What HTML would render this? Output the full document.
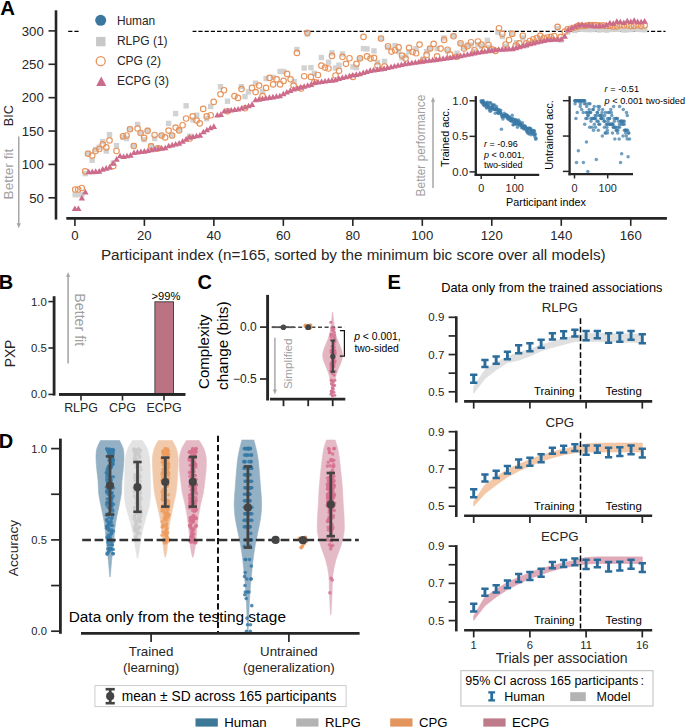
<!DOCTYPE html>
<html><head><meta charset="utf-8"><style>
html,body{margin:0;padding:0;background:#fff;}
svg{display:block;font-family:"Liberation Sans", sans-serif;}
</style></head><body>
<svg width="685" height="728" viewBox="0 0 685 728">
<text x="0.20" y="15.20" font-size="20.4" text-anchor="start" fill="#000" font-weight="bold">A</text>
<line x1="56.00" y1="10.30" x2="56.00" y2="219.60" stroke="#262626" stroke-width="2.6" stroke-linecap="butt"/>
<line x1="48.50" y1="197.80" x2="56.00" y2="197.80" stroke="#262626" stroke-width="1.6" stroke-linecap="butt"/>
<text x="43.80" y="202.50" font-size="13.2" text-anchor="end" fill="#262626">50</text>
<line x1="48.50" y1="164.42" x2="56.00" y2="164.42" stroke="#262626" stroke-width="1.6" stroke-linecap="butt"/>
<text x="43.80" y="169.12" font-size="13.2" text-anchor="end" fill="#262626">100</text>
<line x1="48.50" y1="131.04" x2="56.00" y2="131.04" stroke="#262626" stroke-width="1.6" stroke-linecap="butt"/>
<text x="43.80" y="135.74" font-size="13.2" text-anchor="end" fill="#262626">150</text>
<line x1="48.50" y1="97.66" x2="56.00" y2="97.66" stroke="#262626" stroke-width="1.6" stroke-linecap="butt"/>
<text x="43.80" y="102.36" font-size="13.2" text-anchor="end" fill="#262626">200</text>
<line x1="48.50" y1="64.28" x2="56.00" y2="64.28" stroke="#262626" stroke-width="1.6" stroke-linecap="butt"/>
<text x="43.80" y="68.98" font-size="13.2" text-anchor="end" fill="#262626">250</text>
<line x1="48.50" y1="30.90" x2="56.00" y2="30.90" stroke="#262626" stroke-width="1.6" stroke-linecap="butt"/>
<text x="43.80" y="35.60" font-size="13.2" text-anchor="end" fill="#262626">300</text>
<line x1="66.30" y1="218.40" x2="666.90" y2="218.40" stroke="#262626" stroke-width="2.6" stroke-linecap="butt"/>
<line x1="74.90" y1="218.40" x2="74.90" y2="225.90" stroke="#262626" stroke-width="1.6" stroke-linecap="butt"/>
<text x="74.90" y="240.30" font-size="13.2" text-anchor="middle" fill="#262626">0</text>
<line x1="144.38" y1="218.40" x2="144.38" y2="225.90" stroke="#262626" stroke-width="1.6" stroke-linecap="butt"/>
<text x="144.38" y="240.30" font-size="13.2" text-anchor="middle" fill="#262626">20</text>
<line x1="213.86" y1="218.40" x2="213.86" y2="225.90" stroke="#262626" stroke-width="1.6" stroke-linecap="butt"/>
<text x="213.86" y="240.30" font-size="13.2" text-anchor="middle" fill="#262626">40</text>
<line x1="283.34" y1="218.40" x2="283.34" y2="225.90" stroke="#262626" stroke-width="1.6" stroke-linecap="butt"/>
<text x="283.34" y="240.30" font-size="13.2" text-anchor="middle" fill="#262626">60</text>
<line x1="352.82" y1="218.40" x2="352.82" y2="225.90" stroke="#262626" stroke-width="1.6" stroke-linecap="butt"/>
<text x="352.82" y="240.30" font-size="13.2" text-anchor="middle" fill="#262626">80</text>
<line x1="422.30" y1="218.40" x2="422.30" y2="225.90" stroke="#262626" stroke-width="1.6" stroke-linecap="butt"/>
<text x="422.30" y="240.30" font-size="13.2" text-anchor="middle" fill="#262626">100</text>
<line x1="491.78" y1="218.40" x2="491.78" y2="225.90" stroke="#262626" stroke-width="1.6" stroke-linecap="butt"/>
<text x="491.78" y="240.30" font-size="13.2" text-anchor="middle" fill="#262626">120</text>
<line x1="561.26" y1="218.40" x2="561.26" y2="225.90" stroke="#262626" stroke-width="1.6" stroke-linecap="butt"/>
<text x="561.26" y="240.30" font-size="13.2" text-anchor="middle" fill="#262626">140</text>
<line x1="630.74" y1="218.40" x2="630.74" y2="225.90" stroke="#262626" stroke-width="1.6" stroke-linecap="butt"/>
<text x="630.74" y="240.30" font-size="13.2" text-anchor="middle" fill="#262626">160</text>
<text x="100.90" y="259.50" font-size="15.25" text-anchor="start" fill="#262626">Participant index (n=165, sorted by the minimum bic score over all models)</text>
<text x="13.40" y="115.60" font-size="12.7" text-anchor="middle" fill="#262626" transform="rotate(-90 13.4 115.6)">BIC</text>
<text x="13.20" y="174.10" font-size="13.6" text-anchor="middle" fill="#a0a0a0" transform="rotate(-90 13.2 174.1)">Better fit</text>
<line x1="18.75" y1="136.60" x2="18.75" y2="224.00" stroke="#a6a6a6" stroke-width="1.5" stroke-linecap="butt"/>
<path d="M16.6 223.2 L20.9 223.2 L18.75 228.2 Z" fill="#a6a6a6"/>
<line x1="68.20" y1="31.30" x2="665.50" y2="31.30" stroke="#000" stroke-width="1.3" stroke-linecap="butt" stroke-dasharray="4.2 2"/>
<rect x="72.50" y="191.90" width="5.40" height="5.40" fill="#d2d2d2"/>
<rect x="75.50" y="191.90" width="5.40" height="5.40" fill="#d2d2d2"/>
<rect x="79.00" y="191.90" width="5.40" height="5.40" fill="#d2d2d2"/>
<rect x="82.50" y="170.90" width="5.40" height="5.40" fill="#d2d2d2"/>
<rect x="85.30" y="150.60" width="5.40" height="5.40" fill="#d2d2d2"/>
<rect x="89.50" y="157.60" width="5.40" height="5.40" fill="#d2d2d2"/>
<rect x="92.80" y="146.80" width="5.40" height="5.40" fill="#d2d2d2"/>
<rect x="96.60" y="144.50" width="5.40" height="5.40" fill="#d2d2d2"/>
<rect x="100.10" y="138.90" width="5.40" height="5.40" fill="#d2d2d2"/>
<rect x="103.60" y="148.30" width="5.40" height="5.40" fill="#d2d2d2"/>
<rect x="106.80" y="131.90" width="5.40" height="5.40" fill="#d2d2d2"/>
<rect x="110.60" y="160.30" width="5.40" height="5.40" fill="#d2d2d2"/>
<rect x="113.80" y="142.90" width="5.40" height="5.40" fill="#d2d2d2"/>
<rect x="120.30" y="134.70" width="5.40" height="5.40" fill="#d2d2d2"/>
<rect x="123.90" y="135.80" width="5.40" height="5.40" fill="#d2d2d2"/>
<rect x="127.30" y="126.50" width="5.40" height="5.40" fill="#d2d2d2"/>
<rect x="131.10" y="142.90" width="5.40" height="5.40" fill="#d2d2d2"/>
<rect x="134.90" y="121.80" width="5.40" height="5.40" fill="#d2d2d2"/>
<rect x="137.90" y="130.00" width="5.40" height="5.40" fill="#d2d2d2"/>
<rect x="141.40" y="137.00" width="5.40" height="5.40" fill="#d2d2d2"/>
<rect x="144.90" y="127.70" width="5.40" height="5.40" fill="#d2d2d2"/>
<rect x="148.40" y="142.90" width="5.40" height="5.40" fill="#d2d2d2"/>
<rect x="151.90" y="135.80" width="5.40" height="5.40" fill="#d2d2d2"/>
<rect x="155.40" y="145.20" width="5.40" height="5.40" fill="#d2d2d2"/>
<rect x="158.90" y="132.80" width="5.40" height="5.40" fill="#d2d2d2"/>
<rect x="165.90" y="120.70" width="5.40" height="5.40" fill="#d2d2d2"/>
<rect x="169.40" y="132.80" width="5.40" height="5.40" fill="#d2d2d2"/>
<rect x="172.90" y="110.90" width="5.40" height="5.40" fill="#d2d2d2"/>
<rect x="176.40" y="127.20" width="5.40" height="5.40" fill="#d2d2d2"/>
<rect x="183.40" y="103.10" width="5.40" height="5.40" fill="#d2d2d2"/>
<rect x="187.00" y="133.50" width="5.40" height="5.40" fill="#d2d2d2"/>
<rect x="190.50" y="117.20" width="5.40" height="5.40" fill="#d2d2d2"/>
<rect x="194.00" y="112.50" width="5.40" height="5.40" fill="#d2d2d2"/>
<rect x="204.00" y="116.00" width="5.40" height="5.40" fill="#d2d2d2"/>
<rect x="208.00" y="103.80" width="5.40" height="5.40" fill="#d2d2d2"/>
<rect x="217.80" y="84.00" width="5.40" height="5.40" fill="#d2d2d2"/>
<rect x="224.80" y="98.50" width="5.40" height="5.40" fill="#d2d2d2"/>
<rect x="238.80" y="84.00" width="5.40" height="5.40" fill="#d2d2d2"/>
<rect x="242.30" y="93.80" width="5.40" height="5.40" fill="#d2d2d2"/>
<rect x="245.80" y="89.20" width="5.40" height="5.40" fill="#d2d2d2"/>
<rect x="252.90" y="80.50" width="5.40" height="5.40" fill="#d2d2d2"/>
<rect x="259.90" y="88.70" width="5.40" height="5.40" fill="#d2d2d2"/>
<rect x="263.40" y="75.90" width="5.40" height="5.40" fill="#d2d2d2"/>
<rect x="270.40" y="74.70" width="5.40" height="5.40" fill="#d2d2d2"/>
<rect x="277.40" y="68.80" width="5.40" height="5.40" fill="#d2d2d2"/>
<rect x="280.90" y="68.80" width="5.40" height="5.40" fill="#d2d2d2"/>
<rect x="291.40" y="78.90" width="5.40" height="5.40" fill="#d2d2d2"/>
<rect x="294.20" y="46.80" width="5.40" height="5.40" fill="#d2d2d2"/>
<rect x="301.50" y="65.30" width="5.40" height="5.40" fill="#d2d2d2"/>
<rect x="304.70" y="31.30" width="5.40" height="5.40" fill="#d2d2d2"/>
<rect x="308.20" y="64.90" width="5.40" height="5.40" fill="#d2d2d2"/>
<rect x="311.70" y="70.50" width="5.40" height="5.40" fill="#d2d2d2"/>
<rect x="318.70" y="54.80" width="5.40" height="5.40" fill="#d2d2d2"/>
<rect x="325.80" y="59.50" width="5.40" height="5.40" fill="#d2d2d2"/>
<rect x="329.30" y="50.20" width="5.40" height="5.40" fill="#d2d2d2"/>
<rect x="332.80" y="65.30" width="5.40" height="5.40" fill="#d2d2d2"/>
<rect x="336.30" y="62.50" width="5.40" height="5.40" fill="#d2d2d2"/>
<rect x="339.80" y="51.30" width="5.40" height="5.40" fill="#d2d2d2"/>
<rect x="350.30" y="64.20" width="5.40" height="5.40" fill="#d2d2d2"/>
<rect x="353.80" y="64.90" width="5.40" height="5.40" fill="#d2d2d2"/>
<rect x="357.30" y="55.90" width="5.40" height="5.40" fill="#d2d2d2"/>
<rect x="360.80" y="45.90" width="5.40" height="5.40" fill="#d2d2d2"/>
<rect x="364.30" y="46.20" width="5.40" height="5.40" fill="#d2d2d2"/>
<rect x="371.30" y="48.20" width="5.40" height="5.40" fill="#d2d2d2"/>
<rect x="374.80" y="59.90" width="5.40" height="5.40" fill="#d2d2d2"/>
<rect x="378.30" y="35.80" width="5.40" height="5.40" fill="#d2d2d2"/>
<rect x="381.80" y="58.70" width="5.40" height="5.40" fill="#d2d2d2"/>
<rect x="385.30" y="44.70" width="5.40" height="5.40" fill="#d2d2d2"/>
<rect x="392.30" y="42.80" width="5.40" height="5.40" fill="#d2d2d2"/>
<rect x="395.90" y="48.90" width="5.40" height="5.40" fill="#d2d2d2"/>
<rect x="399.30" y="55.20" width="5.40" height="5.40" fill="#d2d2d2"/>
<rect x="402.90" y="52.90" width="5.40" height="5.40" fill="#d2d2d2"/>
<rect x="406.40" y="48.90" width="5.40" height="5.40" fill="#d2d2d2"/>
<rect x="413.40" y="45.90" width="5.40" height="5.40" fill="#d2d2d2"/>
<rect x="420.40" y="56.40" width="5.40" height="5.40" fill="#d2d2d2"/>
<rect x="423.90" y="48.90" width="5.40" height="5.40" fill="#d2d2d2"/>
<rect x="427.40" y="45.90" width="5.40" height="5.40" fill="#d2d2d2"/>
<rect x="434.40" y="45.90" width="5.40" height="5.40" fill="#d2d2d2"/>
<rect x="441.40" y="35.30" width="5.40" height="5.40" fill="#d2d2d2"/>
<rect x="444.90" y="48.20" width="5.40" height="5.40" fill="#d2d2d2"/>
<rect x="450.80" y="33.00" width="5.40" height="5.40" fill="#d2d2d2"/>
<rect x="454.30" y="50.50" width="5.40" height="5.40" fill="#d2d2d2"/>
<rect x="457.80" y="41.20" width="5.40" height="5.40" fill="#d2d2d2"/>
<rect x="461.30" y="44.70" width="5.40" height="5.40" fill="#d2d2d2"/>
<rect x="464.80" y="42.30" width="5.40" height="5.40" fill="#d2d2d2"/>
<rect x="468.30" y="42.30" width="5.40" height="5.40" fill="#d2d2d2"/>
<rect x="471.80" y="48.90" width="5.40" height="5.40" fill="#d2d2d2"/>
<rect x="475.30" y="41.90" width="5.40" height="5.40" fill="#d2d2d2"/>
<rect x="478.80" y="43.50" width="5.40" height="5.40" fill="#d2d2d2"/>
<rect x="484.60" y="37.70" width="5.40" height="5.40" fill="#d2d2d2"/>
<rect x="487.00" y="44.70" width="5.40" height="5.40" fill="#d2d2d2"/>
<rect x="495.20" y="29.50" width="5.40" height="5.40" fill="#d2d2d2"/>
<rect x="499.60" y="33.80" width="5.40" height="5.40" fill="#d2d2d2"/>
<rect x="503.30" y="43.50" width="5.40" height="5.40" fill="#d2d2d2"/>
<rect x="509.20" y="30.70" width="5.40" height="5.40" fill="#d2d2d2"/>
<rect x="513.80" y="40.00" width="5.40" height="5.40" fill="#d2d2d2"/>
<rect x="520.10" y="35.30" width="5.40" height="5.40" fill="#d2d2d2"/>
<rect x="523.60" y="42.80" width="5.40" height="5.40" fill="#d2d2d2"/>
<rect x="530.60" y="39.30" width="5.40" height="5.40" fill="#d2d2d2"/>
<rect x="537.60" y="35.80" width="5.40" height="5.40" fill="#d2d2d2"/>
<rect x="548.10" y="36.80" width="5.40" height="5.40" fill="#d2d2d2"/>
<rect x="554.90" y="25.80" width="5.40" height="5.40" fill="#d2d2d2"/>
<rect x="558.00" y="37.30" width="5.40" height="5.40" fill="#d2d2d2"/>
<rect x="565.00" y="29.30" width="5.40" height="5.40" fill="#d2d2d2"/>
<rect x="572.00" y="27.80" width="5.40" height="5.40" fill="#d2d2d2"/>
<rect x="575.93" y="26.48" width="5.40" height="5.40" fill="#d2d2d2"/>
<rect x="579.40" y="26.39" width="5.40" height="5.40" fill="#d2d2d2"/>
<rect x="582.88" y="26.74" width="5.40" height="5.40" fill="#d2d2d2"/>
<rect x="586.35" y="26.91" width="5.40" height="5.40" fill="#d2d2d2"/>
<rect x="589.83" y="26.82" width="5.40" height="5.40" fill="#d2d2d2"/>
<rect x="593.30" y="26.41" width="5.40" height="5.40" fill="#d2d2d2"/>
<rect x="596.77" y="27.29" width="5.40" height="5.40" fill="#d2d2d2"/>
<rect x="600.25" y="26.57" width="5.40" height="5.40" fill="#d2d2d2"/>
<rect x="603.72" y="27.44" width="5.40" height="5.40" fill="#d2d2d2"/>
<rect x="607.20" y="26.78" width="5.40" height="5.40" fill="#d2d2d2"/>
<rect x="610.67" y="26.36" width="5.40" height="5.40" fill="#d2d2d2"/>
<rect x="614.14" y="26.65" width="5.40" height="5.40" fill="#d2d2d2"/>
<rect x="617.62" y="26.44" width="5.40" height="5.40" fill="#d2d2d2"/>
<rect x="621.09" y="27.28" width="5.40" height="5.40" fill="#d2d2d2"/>
<rect x="624.57" y="27.00" width="5.40" height="5.40" fill="#d2d2d2"/>
<rect x="628.04" y="26.75" width="5.40" height="5.40" fill="#d2d2d2"/>
<rect x="631.51" y="26.38" width="5.40" height="5.40" fill="#d2d2d2"/>
<rect x="634.99" y="26.55" width="5.40" height="5.40" fill="#d2d2d2"/>
<rect x="638.46" y="26.81" width="5.40" height="5.40" fill="#d2d2d2"/>
<rect x="641.94" y="27.00" width="5.40" height="5.40" fill="#d2d2d2"/>
<circle cx="75.20" cy="189.50" r="2.75" fill="none" stroke="#e8935a" stroke-width="1.15"/>
<circle cx="78.20" cy="189.50" r="2.75" fill="none" stroke="#e8935a" stroke-width="1.15"/>
<circle cx="81.70" cy="188.00" r="2.75" fill="none" stroke="#e8935a" stroke-width="1.15"/>
<circle cx="85.20" cy="171.30" r="2.75" fill="none" stroke="#e8935a" stroke-width="1.15"/>
<circle cx="88.00" cy="153.70" r="2.75" fill="none" stroke="#e8935a" stroke-width="1.15"/>
<circle cx="92.20" cy="155.60" r="2.75" fill="none" stroke="#e8935a" stroke-width="1.15"/>
<circle cx="95.50" cy="151.00" r="2.75" fill="none" stroke="#e8935a" stroke-width="1.15"/>
<circle cx="99.30" cy="149.00" r="2.75" fill="none" stroke="#e8935a" stroke-width="1.15"/>
<circle cx="102.80" cy="144.40" r="2.75" fill="none" stroke="#e8935a" stroke-width="1.15"/>
<circle cx="106.30" cy="147.40" r="2.75" fill="none" stroke="#e8935a" stroke-width="1.15"/>
<circle cx="109.50" cy="140.40" r="2.75" fill="none" stroke="#e8935a" stroke-width="1.15"/>
<circle cx="113.30" cy="166.10" r="2.75" fill="none" stroke="#e8935a" stroke-width="1.15"/>
<circle cx="116.50" cy="151.00" r="2.75" fill="none" stroke="#e8935a" stroke-width="1.15"/>
<circle cx="123.00" cy="136.20" r="2.75" fill="none" stroke="#e8935a" stroke-width="1.15"/>
<circle cx="126.60" cy="135.50" r="2.75" fill="none" stroke="#e8935a" stroke-width="1.15"/>
<circle cx="130.00" cy="129.20" r="2.75" fill="none" stroke="#e8935a" stroke-width="1.15"/>
<circle cx="133.80" cy="146.00" r="2.75" fill="none" stroke="#e8935a" stroke-width="1.15"/>
<circle cx="137.60" cy="128.50" r="2.75" fill="none" stroke="#e8935a" stroke-width="1.15"/>
<circle cx="140.60" cy="133.00" r="2.75" fill="none" stroke="#e8935a" stroke-width="1.15"/>
<circle cx="144.10" cy="137.80" r="2.75" fill="none" stroke="#e8935a" stroke-width="1.15"/>
<circle cx="147.60" cy="130.80" r="2.75" fill="none" stroke="#e8935a" stroke-width="1.15"/>
<circle cx="151.10" cy="146.30" r="2.75" fill="none" stroke="#e8935a" stroke-width="1.15"/>
<circle cx="154.60" cy="135.00" r="2.75" fill="none" stroke="#e8935a" stroke-width="1.15"/>
<circle cx="158.10" cy="148.40" r="2.75" fill="none" stroke="#e8935a" stroke-width="1.15"/>
<circle cx="161.60" cy="135.50" r="2.75" fill="none" stroke="#e8935a" stroke-width="1.15"/>
<circle cx="165.10" cy="137.40" r="2.75" fill="none" stroke="#e8935a" stroke-width="1.15"/>
<circle cx="168.60" cy="130.60" r="2.75" fill="none" stroke="#e8935a" stroke-width="1.15"/>
<circle cx="172.10" cy="135.50" r="2.75" fill="none" stroke="#e8935a" stroke-width="1.15"/>
<circle cx="175.60" cy="127.60" r="2.75" fill="none" stroke="#e8935a" stroke-width="1.15"/>
<circle cx="179.10" cy="130.40" r="2.75" fill="none" stroke="#e8935a" stroke-width="1.15"/>
<circle cx="182.60" cy="125.20" r="2.75" fill="none" stroke="#e8935a" stroke-width="1.15"/>
<circle cx="186.10" cy="118.50" r="2.75" fill="none" stroke="#e8935a" stroke-width="1.15"/>
<circle cx="189.70" cy="138.50" r="2.75" fill="none" stroke="#e8935a" stroke-width="1.15"/>
<circle cx="192.70" cy="116.40" r="2.75" fill="none" stroke="#e8935a" stroke-width="1.15"/>
<circle cx="196.70" cy="120.60" r="2.75" fill="none" stroke="#e8935a" stroke-width="1.15"/>
<circle cx="199.70" cy="123.40" r="2.75" fill="none" stroke="#e8935a" stroke-width="1.15"/>
<circle cx="203.20" cy="108.90" r="2.75" fill="none" stroke="#e8935a" stroke-width="1.15"/>
<circle cx="206.70" cy="116.40" r="2.75" fill="none" stroke="#e8935a" stroke-width="1.15"/>
<circle cx="210.70" cy="115.20" r="2.75" fill="none" stroke="#e8935a" stroke-width="1.15"/>
<circle cx="213.70" cy="101.90" r="2.75" fill="none" stroke="#e8935a" stroke-width="1.15"/>
<circle cx="220.50" cy="94.20" r="2.75" fill="none" stroke="#e8935a" stroke-width="1.15"/>
<circle cx="224.00" cy="90.20" r="2.75" fill="none" stroke="#e8935a" stroke-width="1.15"/>
<circle cx="227.50" cy="111.30" r="2.75" fill="none" stroke="#e8935a" stroke-width="1.15"/>
<circle cx="234.50" cy="96.10" r="2.75" fill="none" stroke="#e8935a" stroke-width="1.15"/>
<circle cx="238.00" cy="97.90" r="2.75" fill="none" stroke="#e8935a" stroke-width="1.15"/>
<circle cx="241.50" cy="89.10" r="2.75" fill="none" stroke="#e8935a" stroke-width="1.15"/>
<circle cx="245.00" cy="108.20" r="2.75" fill="none" stroke="#e8935a" stroke-width="1.15"/>
<circle cx="252.00" cy="87.90" r="2.75" fill="none" stroke="#e8935a" stroke-width="1.15"/>
<circle cx="255.60" cy="92.10" r="2.75" fill="none" stroke="#e8935a" stroke-width="1.15"/>
<circle cx="259.10" cy="85.60" r="2.75" fill="none" stroke="#e8935a" stroke-width="1.15"/>
<circle cx="262.60" cy="96.10" r="2.75" fill="none" stroke="#e8935a" stroke-width="1.15"/>
<circle cx="266.10" cy="87.90" r="2.75" fill="none" stroke="#e8935a" stroke-width="1.15"/>
<circle cx="269.60" cy="77.90" r="2.75" fill="none" stroke="#e8935a" stroke-width="1.15"/>
<circle cx="273.10" cy="84.40" r="2.75" fill="none" stroke="#e8935a" stroke-width="1.15"/>
<circle cx="276.60" cy="79.30" r="2.75" fill="none" stroke="#e8935a" stroke-width="1.15"/>
<circle cx="280.10" cy="84.40" r="2.75" fill="none" stroke="#e8935a" stroke-width="1.15"/>
<circle cx="283.60" cy="80.90" r="2.75" fill="none" stroke="#e8935a" stroke-width="1.15"/>
<circle cx="287.10" cy="73.90" r="2.75" fill="none" stroke="#e8935a" stroke-width="1.15"/>
<circle cx="290.60" cy="79.30" r="2.75" fill="none" stroke="#e8935a" stroke-width="1.15"/>
<circle cx="293.60" cy="85.60" r="2.75" fill="none" stroke="#e8935a" stroke-width="1.15"/>
<circle cx="296.90" cy="52.90" r="2.75" fill="none" stroke="#e8935a" stroke-width="1.15"/>
<circle cx="301.10" cy="88.60" r="2.75" fill="none" stroke="#e8935a" stroke-width="1.15"/>
<circle cx="304.20" cy="76.20" r="2.75" fill="none" stroke="#e8935a" stroke-width="1.15"/>
<circle cx="307.40" cy="32.80" r="2.75" fill="none" stroke="#e8935a" stroke-width="1.15"/>
<circle cx="310.90" cy="76.90" r="2.75" fill="none" stroke="#e8935a" stroke-width="1.15"/>
<circle cx="314.40" cy="82.10" r="2.75" fill="none" stroke="#e8935a" stroke-width="1.15"/>
<circle cx="317.90" cy="75.00" r="2.75" fill="none" stroke="#e8935a" stroke-width="1.15"/>
<circle cx="321.40" cy="65.70" r="2.75" fill="none" stroke="#e8935a" stroke-width="1.15"/>
<circle cx="325.00" cy="67.60" r="2.75" fill="none" stroke="#e8935a" stroke-width="1.15"/>
<circle cx="328.50" cy="68.50" r="2.75" fill="none" stroke="#e8935a" stroke-width="1.15"/>
<circle cx="332.00" cy="55.90" r="2.75" fill="none" stroke="#e8935a" stroke-width="1.15"/>
<circle cx="335.50" cy="75.50" r="2.75" fill="none" stroke="#e8935a" stroke-width="1.15"/>
<circle cx="339.00" cy="70.80" r="2.75" fill="none" stroke="#e8935a" stroke-width="1.15"/>
<circle cx="342.50" cy="56.80" r="2.75" fill="none" stroke="#e8935a" stroke-width="1.15"/>
<circle cx="346.00" cy="63.80" r="2.75" fill="none" stroke="#e8935a" stroke-width="1.15"/>
<circle cx="349.50" cy="58.20" r="2.75" fill="none" stroke="#e8935a" stroke-width="1.15"/>
<circle cx="353.00" cy="76.90" r="2.75" fill="none" stroke="#e8935a" stroke-width="1.15"/>
<circle cx="356.50" cy="63.80" r="2.75" fill="none" stroke="#e8935a" stroke-width="1.15"/>
<circle cx="360.00" cy="58.20" r="2.75" fill="none" stroke="#e8935a" stroke-width="1.15"/>
<circle cx="363.50" cy="36.90" r="2.75" fill="none" stroke="#e8935a" stroke-width="1.15"/>
<circle cx="367.00" cy="56.40" r="2.75" fill="none" stroke="#e8935a" stroke-width="1.15"/>
<circle cx="370.50" cy="58.60" r="2.75" fill="none" stroke="#e8935a" stroke-width="1.15"/>
<circle cx="374.00" cy="57.90" r="2.75" fill="none" stroke="#e8935a" stroke-width="1.15"/>
<circle cx="377.50" cy="65.60" r="2.75" fill="none" stroke="#e8935a" stroke-width="1.15"/>
<circle cx="381.00" cy="38.50" r="2.75" fill="none" stroke="#e8935a" stroke-width="1.15"/>
<circle cx="384.50" cy="66.50" r="2.75" fill="none" stroke="#e8935a" stroke-width="1.15"/>
<circle cx="388.00" cy="46.20" r="2.75" fill="none" stroke="#e8935a" stroke-width="1.15"/>
<circle cx="391.50" cy="51.60" r="2.75" fill="none" stroke="#e8935a" stroke-width="1.15"/>
<circle cx="395.00" cy="50.20" r="2.75" fill="none" stroke="#e8935a" stroke-width="1.15"/>
<circle cx="398.60" cy="47.40" r="2.75" fill="none" stroke="#e8935a" stroke-width="1.15"/>
<circle cx="402.00" cy="55.60" r="2.75" fill="none" stroke="#e8935a" stroke-width="1.15"/>
<circle cx="405.60" cy="58.60" r="2.75" fill="none" stroke="#e8935a" stroke-width="1.15"/>
<circle cx="409.10" cy="47.90" r="2.75" fill="none" stroke="#e8935a" stroke-width="1.15"/>
<circle cx="412.60" cy="52.00" r="2.75" fill="none" stroke="#e8935a" stroke-width="1.15"/>
<circle cx="416.10" cy="53.20" r="2.75" fill="none" stroke="#e8935a" stroke-width="1.15"/>
<circle cx="419.60" cy="44.60" r="2.75" fill="none" stroke="#e8935a" stroke-width="1.15"/>
<circle cx="423.10" cy="60.20" r="2.75" fill="none" stroke="#e8935a" stroke-width="1.15"/>
<circle cx="426.60" cy="54.90" r="2.75" fill="none" stroke="#e8935a" stroke-width="1.15"/>
<circle cx="430.10" cy="48.60" r="2.75" fill="none" stroke="#e8935a" stroke-width="1.15"/>
<circle cx="433.60" cy="43.90" r="2.75" fill="none" stroke="#e8935a" stroke-width="1.15"/>
<circle cx="437.10" cy="56.30" r="2.75" fill="none" stroke="#e8935a" stroke-width="1.15"/>
<circle cx="440.60" cy="48.60" r="2.75" fill="none" stroke="#e8935a" stroke-width="1.15"/>
<circle cx="444.10" cy="39.90" r="2.75" fill="none" stroke="#e8935a" stroke-width="1.15"/>
<circle cx="447.60" cy="49.70" r="2.75" fill="none" stroke="#e8935a" stroke-width="1.15"/>
<circle cx="450.00" cy="54.40" r="2.75" fill="none" stroke="#e8935a" stroke-width="1.15"/>
<circle cx="453.50" cy="36.20" r="2.75" fill="none" stroke="#e8935a" stroke-width="1.15"/>
<circle cx="457.00" cy="56.70" r="2.75" fill="none" stroke="#e8935a" stroke-width="1.15"/>
<circle cx="460.50" cy="43.20" r="2.75" fill="none" stroke="#e8935a" stroke-width="1.15"/>
<circle cx="464.00" cy="48.60" r="2.75" fill="none" stroke="#e8935a" stroke-width="1.15"/>
<circle cx="467.50" cy="46.20" r="2.75" fill="none" stroke="#e8935a" stroke-width="1.15"/>
<circle cx="471.00" cy="42.20" r="2.75" fill="none" stroke="#e8935a" stroke-width="1.15"/>
<circle cx="474.50" cy="50.20" r="2.75" fill="none" stroke="#e8935a" stroke-width="1.15"/>
<circle cx="478.00" cy="41.50" r="2.75" fill="none" stroke="#e8935a" stroke-width="1.15"/>
<circle cx="481.50" cy="44.60" r="2.75" fill="none" stroke="#e8935a" stroke-width="1.15"/>
<circle cx="485.00" cy="49.30" r="2.75" fill="none" stroke="#e8935a" stroke-width="1.15"/>
<circle cx="488.50" cy="45.00" r="2.75" fill="none" stroke="#e8935a" stroke-width="1.15"/>
<circle cx="492.00" cy="49.30" r="2.75" fill="none" stroke="#e8935a" stroke-width="1.15"/>
<circle cx="495.50" cy="50.90" r="2.75" fill="none" stroke="#e8935a" stroke-width="1.15"/>
<circle cx="499.00" cy="28.20" r="2.75" fill="none" stroke="#e8935a" stroke-width="1.15"/>
<circle cx="502.30" cy="33.90" r="2.75" fill="none" stroke="#e8935a" stroke-width="1.15"/>
<circle cx="505.60" cy="44.50" r="2.75" fill="none" stroke="#e8935a" stroke-width="1.15"/>
<circle cx="509.00" cy="40.00" r="2.75" fill="none" stroke="#e8935a" stroke-width="1.15"/>
<circle cx="512.30" cy="33.90" r="2.75" fill="none" stroke="#e8935a" stroke-width="1.15"/>
<circle cx="515.80" cy="45.60" r="2.75" fill="none" stroke="#e8935a" stroke-width="1.15"/>
<circle cx="519.30" cy="43.30" r="2.75" fill="none" stroke="#e8935a" stroke-width="1.15"/>
<circle cx="522.80" cy="35.70" r="2.75" fill="none" stroke="#e8935a" stroke-width="1.15"/>
<circle cx="526.30" cy="43.30" r="2.75" fill="none" stroke="#e8935a" stroke-width="1.15"/>
<circle cx="529.80" cy="41.00" r="2.75" fill="none" stroke="#e8935a" stroke-width="1.15"/>
<circle cx="533.30" cy="39.20" r="2.75" fill="none" stroke="#e8935a" stroke-width="1.15"/>
<circle cx="536.80" cy="38.00" r="2.75" fill="none" stroke="#e8935a" stroke-width="1.15"/>
<circle cx="540.30" cy="35.90" r="2.75" fill="none" stroke="#e8935a" stroke-width="1.15"/>
<circle cx="543.80" cy="38.00" r="2.75" fill="none" stroke="#e8935a" stroke-width="1.15"/>
<circle cx="547.30" cy="37.50" r="2.75" fill="none" stroke="#e8935a" stroke-width="1.15"/>
<circle cx="550.80" cy="37.10" r="2.75" fill="none" stroke="#e8935a" stroke-width="1.15"/>
<circle cx="554.30" cy="36.00" r="2.75" fill="none" stroke="#e8935a" stroke-width="1.15"/>
<circle cx="557.60" cy="26.90" r="2.75" fill="none" stroke="#e8935a" stroke-width="1.15"/>
<circle cx="560.70" cy="37.10" r="2.75" fill="none" stroke="#e8935a" stroke-width="1.15"/>
<circle cx="564.80" cy="31.60" r="2.75" fill="none" stroke="#e8935a" stroke-width="1.15"/>
<circle cx="567.70" cy="29.30" r="2.75" fill="none" stroke="#e8935a" stroke-width="1.15"/>
<circle cx="571.20" cy="28.50" r="2.75" fill="none" stroke="#e8935a" stroke-width="1.15"/>
<circle cx="574.70" cy="27.50" r="2.75" fill="none" stroke="#e8935a" stroke-width="1.15"/>
<circle cx="578.20" cy="26.40" r="2.75" fill="none" stroke="#e8935a" stroke-width="1.15"/>
<circle cx="578.63" cy="25.52" r="2.75" fill="none" stroke="#e8935a" stroke-width="1.15"/>
<circle cx="582.10" cy="26.04" r="2.75" fill="none" stroke="#e8935a" stroke-width="1.15"/>
<circle cx="585.58" cy="25.86" r="2.75" fill="none" stroke="#e8935a" stroke-width="1.15"/>
<circle cx="589.05" cy="25.09" r="2.75" fill="none" stroke="#e8935a" stroke-width="1.15"/>
<circle cx="592.53" cy="25.06" r="2.75" fill="none" stroke="#e8935a" stroke-width="1.15"/>
<circle cx="596.00" cy="25.11" r="2.75" fill="none" stroke="#e8935a" stroke-width="1.15"/>
<circle cx="599.47" cy="25.68" r="2.75" fill="none" stroke="#e8935a" stroke-width="1.15"/>
<circle cx="602.95" cy="25.20" r="2.75" fill="none" stroke="#e8935a" stroke-width="1.15"/>
<circle cx="606.42" cy="26.00" r="2.75" fill="none" stroke="#e8935a" stroke-width="1.15"/>
<circle cx="609.90" cy="25.92" r="2.75" fill="none" stroke="#e8935a" stroke-width="1.15"/>
<circle cx="613.37" cy="26.56" r="2.75" fill="none" stroke="#e8935a" stroke-width="1.15"/>
<circle cx="616.84" cy="26.37" r="2.75" fill="none" stroke="#e8935a" stroke-width="1.15"/>
<circle cx="620.32" cy="25.23" r="2.75" fill="none" stroke="#e8935a" stroke-width="1.15"/>
<circle cx="623.79" cy="25.49" r="2.75" fill="none" stroke="#e8935a" stroke-width="1.15"/>
<circle cx="627.27" cy="25.29" r="2.75" fill="none" stroke="#e8935a" stroke-width="1.15"/>
<circle cx="630.74" cy="26.02" r="2.75" fill="none" stroke="#e8935a" stroke-width="1.15"/>
<circle cx="634.21" cy="25.88" r="2.75" fill="none" stroke="#e8935a" stroke-width="1.15"/>
<circle cx="637.69" cy="25.10" r="2.75" fill="none" stroke="#e8935a" stroke-width="1.15"/>
<circle cx="641.16" cy="26.09" r="2.75" fill="none" stroke="#e8935a" stroke-width="1.15"/>
<circle cx="644.64" cy="25.50" r="2.75" fill="none" stroke="#e8935a" stroke-width="1.15"/>
<path d="M71.70 211.08 L78.10 211.08 L74.90 205.48 Z" fill="#cd6b8b"/>
<path d="M75.17 211.08 L81.57 211.08 L78.37 205.48 Z" fill="#cd6b8b"/>
<path d="M78.65 200.40 L85.05 200.40 L81.85 194.80 Z" fill="#cd6b8b"/>
<path d="M82.12 194.39 L88.52 194.39 L85.32 188.79 Z" fill="#cd6b8b"/>
<path d="M85.60 174.36 L92.00 174.36 L88.80 168.76 Z" fill="#cd6b8b"/>
<path d="M89.07 174.14 L95.47 174.14 L92.27 168.54 Z" fill="#cd6b8b"/>
<path d="M92.54 173.92 L98.94 173.92 L95.74 168.32 Z" fill="#cd6b8b"/>
<path d="M96.02 173.70 L102.42 173.70 L99.22 168.10 Z" fill="#cd6b8b"/>
<path d="M99.49 171.69 L105.89 171.69 L102.69 166.09 Z" fill="#cd6b8b"/>
<path d="M102.97 170.69 L109.37 170.69 L106.17 165.09 Z" fill="#cd6b8b"/>
<path d="M106.44 169.69 L112.84 169.69 L109.64 164.09 Z" fill="#cd6b8b"/>
<path d="M109.91 165.68 L116.31 165.68 L113.11 160.08 Z" fill="#cd6b8b"/>
<path d="M113.39 161.68 L119.79 161.68 L116.59 156.08 Z" fill="#cd6b8b"/>
<path d="M116.86 158.34 L123.26 158.34 L120.06 152.74 Z" fill="#cd6b8b"/>
<path d="M120.34 159.01 L126.74 159.01 L123.54 153.41 Z" fill="#cd6b8b"/>
<path d="M123.81 158.34 L130.21 158.34 L127.01 152.74 Z" fill="#cd6b8b"/>
<path d="M127.28 157.67 L133.68 157.67 L130.48 152.07 Z" fill="#cd6b8b"/>
<path d="M130.76 155.00 L137.16 155.00 L133.96 149.40 Z" fill="#cd6b8b"/>
<path d="M134.23 154.56 L140.63 154.56 L137.43 148.96 Z" fill="#cd6b8b"/>
<path d="M137.71 154.11 L144.11 154.11 L140.91 148.51 Z" fill="#cd6b8b"/>
<path d="M141.18 153.67 L147.58 153.67 L144.38 148.07 Z" fill="#cd6b8b"/>
<path d="M144.65 153.00 L151.05 153.00 L147.85 147.40 Z" fill="#cd6b8b"/>
<path d="M148.13 152.33 L154.53 152.33 L151.33 146.73 Z" fill="#cd6b8b"/>
<path d="M151.60 151.67 L158.00 151.67 L154.80 146.07 Z" fill="#cd6b8b"/>
<path d="M155.08 151.00 L161.48 151.00 L158.28 145.40 Z" fill="#cd6b8b"/>
<path d="M158.55 150.66 L164.95 150.66 L161.75 145.06 Z" fill="#cd6b8b"/>
<path d="M162.02 150.33 L168.42 150.33 L165.22 144.73 Z" fill="#cd6b8b"/>
<path d="M165.50 148.33 L171.90 148.33 L168.70 142.73 Z" fill="#cd6b8b"/>
<path d="M168.97 147.44 L175.37 147.44 L172.17 141.84 Z" fill="#cd6b8b"/>
<path d="M172.45 146.55 L178.85 146.55 L175.65 140.95 Z" fill="#cd6b8b"/>
<path d="M175.92 145.66 L182.32 145.66 L179.12 140.06 Z" fill="#cd6b8b"/>
<path d="M179.39 143.65 L185.79 143.65 L182.59 138.05 Z" fill="#cd6b8b"/>
<path d="M182.87 141.65 L189.27 141.65 L186.07 136.05 Z" fill="#cd6b8b"/>
<path d="M186.34 139.65 L192.74 139.65 L189.54 134.05 Z" fill="#cd6b8b"/>
<path d="M189.82 138.98 L196.22 138.98 L193.02 133.38 Z" fill="#cd6b8b"/>
<path d="M193.29 138.31 L199.69 138.31 L196.49 132.71 Z" fill="#cd6b8b"/>
<path d="M196.76 137.65 L203.16 137.65 L199.96 132.05 Z" fill="#cd6b8b"/>
<path d="M200.24 134.31 L206.64 134.31 L203.44 128.71 Z" fill="#cd6b8b"/>
<path d="M203.71 132.30 L210.11 132.30 L206.91 126.70 Z" fill="#cd6b8b"/>
<path d="M207.19 130.30 L213.59 130.30 L210.39 124.70 Z" fill="#cd6b8b"/>
<path d="M210.66 128.97 L217.06 128.97 L213.86 123.37 Z" fill="#cd6b8b"/>
<path d="M214.13 117.62 L220.53 117.62 L217.33 112.02 Z" fill="#cd6b8b"/>
<path d="M217.61 116.95 L224.01 116.95 L220.81 111.35 Z" fill="#cd6b8b"/>
<path d="M221.08 113.61 L227.48 113.61 L224.28 108.01 Z" fill="#cd6b8b"/>
<path d="M224.56 113.11 L230.96 113.11 L227.76 107.51 Z" fill="#cd6b8b"/>
<path d="M228.03 112.61 L234.43 112.61 L231.23 107.01 Z" fill="#cd6b8b"/>
<path d="M231.50 112.11 L237.90 112.11 L234.70 106.51 Z" fill="#cd6b8b"/>
<path d="M234.98 111.61 L241.38 111.61 L238.18 106.01 Z" fill="#cd6b8b"/>
<path d="M238.45 110.61 L244.85 110.61 L241.65 105.01 Z" fill="#cd6b8b"/>
<path d="M241.93 109.61 L248.33 109.61 L245.13 104.01 Z" fill="#cd6b8b"/>
<path d="M245.40 108.27 L251.80 108.27 L248.60 102.67 Z" fill="#cd6b8b"/>
<path d="M248.87 106.94 L255.27 106.94 L252.07 101.34 Z" fill="#cd6b8b"/>
<path d="M252.35 102.26 L258.75 102.26 L255.55 96.66 Z" fill="#cd6b8b"/>
<path d="M255.82 101.69 L262.22 101.69 L259.02 96.09 Z" fill="#cd6b8b"/>
<path d="M259.30 101.12 L265.70 101.12 L262.50 95.52 Z" fill="#cd6b8b"/>
<path d="M262.77 100.55 L269.17 100.55 L265.97 94.95 Z" fill="#cd6b8b"/>
<path d="M266.24 99.97 L272.64 99.97 L269.44 94.37 Z" fill="#cd6b8b"/>
<path d="M269.72 99.40 L276.12 99.40 L272.92 93.80 Z" fill="#cd6b8b"/>
<path d="M273.19 98.83 L279.59 98.83 L276.39 93.23 Z" fill="#cd6b8b"/>
<path d="M276.67 98.26 L283.07 98.26 L279.87 92.66 Z" fill="#cd6b8b"/>
<path d="M280.14 96.25 L286.54 96.25 L283.34 90.65 Z" fill="#cd6b8b"/>
<path d="M283.61 94.59 L290.01 94.59 L286.81 88.99 Z" fill="#cd6b8b"/>
<path d="M287.09 92.92 L293.49 92.92 L290.29 87.32 Z" fill="#cd6b8b"/>
<path d="M290.56 91.58 L296.96 91.58 L293.76 85.98 Z" fill="#cd6b8b"/>
<path d="M294.04 90.65 L300.44 90.65 L297.24 85.05 Z" fill="#cd6b8b"/>
<path d="M297.51 89.71 L303.91 89.71 L300.71 84.11 Z" fill="#cd6b8b"/>
<path d="M300.98 88.78 L307.38 88.78 L304.18 83.18 Z" fill="#cd6b8b"/>
<path d="M304.46 87.84 L310.86 87.84 L307.66 82.24 Z" fill="#cd6b8b"/>
<path d="M307.93 86.91 L314.33 86.91 L311.13 81.31 Z" fill="#cd6b8b"/>
<path d="M311.41 84.91 L317.81 84.91 L314.61 79.31 Z" fill="#cd6b8b"/>
<path d="M314.88 84.46 L321.28 84.46 L318.08 78.86 Z" fill="#cd6b8b"/>
<path d="M318.35 84.02 L324.75 84.02 L321.55 78.42 Z" fill="#cd6b8b"/>
<path d="M321.83 83.57 L328.23 83.57 L325.03 77.97 Z" fill="#cd6b8b"/>
<path d="M325.30 83.12 L331.70 83.12 L328.50 77.52 Z" fill="#cd6b8b"/>
<path d="M328.78 82.68 L335.18 82.68 L331.98 77.08 Z" fill="#cd6b8b"/>
<path d="M332.25 82.23 L338.65 82.23 L335.45 76.63 Z" fill="#cd6b8b"/>
<path d="M335.72 80.90 L342.12 80.90 L338.92 75.30 Z" fill="#cd6b8b"/>
<path d="M339.20 80.07 L345.60 80.07 L342.40 74.47 Z" fill="#cd6b8b"/>
<path d="M342.67 79.23 L349.07 79.23 L345.87 73.63 Z" fill="#cd6b8b"/>
<path d="M346.15 78.40 L352.55 78.40 L349.35 72.80 Z" fill="#cd6b8b"/>
<path d="M349.62 77.56 L356.02 77.56 L352.82 71.96 Z" fill="#cd6b8b"/>
<path d="M353.09 76.89 L359.49 76.89 L356.29 71.29 Z" fill="#cd6b8b"/>
<path d="M356.57 76.23 L362.97 76.23 L359.77 70.63 Z" fill="#cd6b8b"/>
<path d="M360.04 75.11 L366.44 75.11 L363.24 69.51 Z" fill="#cd6b8b"/>
<path d="M363.52 74.00 L369.92 74.00 L366.72 68.40 Z" fill="#cd6b8b"/>
<path d="M366.99 72.89 L373.39 72.89 L370.19 67.29 Z" fill="#cd6b8b"/>
<path d="M370.46 72.39 L376.86 72.39 L373.66 66.79 Z" fill="#cd6b8b"/>
<path d="M373.94 71.89 L380.34 71.89 L377.14 66.29 Z" fill="#cd6b8b"/>
<path d="M377.41 71.39 L383.81 71.39 L380.61 65.79 Z" fill="#cd6b8b"/>
<path d="M380.89 70.89 L387.29 70.89 L384.09 65.29 Z" fill="#cd6b8b"/>
<path d="M384.36 70.11 L390.76 70.11 L387.56 64.51 Z" fill="#cd6b8b"/>
<path d="M387.83 69.33 L394.23 69.33 L391.03 63.73 Z" fill="#cd6b8b"/>
<path d="M391.31 68.55 L397.71 68.55 L394.51 62.95 Z" fill="#cd6b8b"/>
<path d="M394.78 67.77 L401.18 67.77 L397.98 62.17 Z" fill="#cd6b8b"/>
<path d="M398.26 66.99 L404.66 66.99 L401.46 61.39 Z" fill="#cd6b8b"/>
<path d="M401.73 66.21 L408.13 66.21 L404.93 60.61 Z" fill="#cd6b8b"/>
<path d="M405.20 65.74 L411.60 65.74 L408.40 60.14 Z" fill="#cd6b8b"/>
<path d="M408.68 65.26 L415.08 65.26 L411.88 59.66 Z" fill="#cd6b8b"/>
<path d="M412.15 64.78 L418.55 64.78 L415.35 59.18 Z" fill="#cd6b8b"/>
<path d="M415.63 64.30 L422.03 64.30 L418.83 58.70 Z" fill="#cd6b8b"/>
<path d="M419.10 63.83 L425.50 63.83 L422.30 58.23 Z" fill="#cd6b8b"/>
<path d="M422.57 63.35 L428.97 63.35 L425.77 57.75 Z" fill="#cd6b8b"/>
<path d="M426.05 62.87 L432.45 62.87 L429.25 57.27 Z" fill="#cd6b8b"/>
<path d="M429.52 62.40 L435.92 62.40 L432.72 56.80 Z" fill="#cd6b8b"/>
<path d="M433.00 61.92 L439.40 61.92 L436.20 56.32 Z" fill="#cd6b8b"/>
<path d="M436.47 61.44 L442.87 61.44 L439.67 55.84 Z" fill="#cd6b8b"/>
<path d="M439.94 60.97 L446.34 60.97 L443.14 55.37 Z" fill="#cd6b8b"/>
<path d="M443.42 60.49 L449.82 60.49 L446.62 54.89 Z" fill="#cd6b8b"/>
<path d="M446.89 60.01 L453.29 60.01 L450.09 54.41 Z" fill="#cd6b8b"/>
<path d="M450.37 59.54 L456.77 59.54 L453.57 53.94 Z" fill="#cd6b8b"/>
<path d="M453.84 58.87 L460.24 58.87 L457.04 53.27 Z" fill="#cd6b8b"/>
<path d="M457.31 58.20 L463.71 58.20 L460.51 52.60 Z" fill="#cd6b8b"/>
<path d="M460.79 57.53 L467.19 57.53 L463.99 51.93 Z" fill="#cd6b8b"/>
<path d="M464.26 56.87 L470.66 56.87 L467.46 51.27 Z" fill="#cd6b8b"/>
<path d="M467.74 56.20 L474.14 56.20 L470.94 50.60 Z" fill="#cd6b8b"/>
<path d="M471.21 55.53 L477.61 55.53 L474.41 49.93 Z" fill="#cd6b8b"/>
<path d="M474.68 54.86 L481.08 54.86 L477.88 49.26 Z" fill="#cd6b8b"/>
<path d="M478.16 54.36 L484.56 54.36 L481.36 48.76 Z" fill="#cd6b8b"/>
<path d="M481.63 53.86 L488.03 53.86 L484.83 48.26 Z" fill="#cd6b8b"/>
<path d="M485.11 53.36 L491.51 53.36 L488.31 47.76 Z" fill="#cd6b8b"/>
<path d="M488.58 52.86 L494.98 52.86 L491.78 47.26 Z" fill="#cd6b8b"/>
<path d="M492.05 52.36 L498.45 52.36 L495.25 46.76 Z" fill="#cd6b8b"/>
<path d="M495.53 51.86 L501.93 51.86 L498.73 46.26 Z" fill="#cd6b8b"/>
<path d="M499.00 51.69 L505.40 51.69 L502.20 46.09 Z" fill="#cd6b8b"/>
<path d="M502.48 51.53 L508.88 51.53 L505.68 45.93 Z" fill="#cd6b8b"/>
<path d="M505.95 51.36 L512.35 51.36 L509.15 45.76 Z" fill="#cd6b8b"/>
<path d="M509.42 51.19 L515.82 51.19 L512.62 45.59 Z" fill="#cd6b8b"/>
<path d="M512.90 50.19 L519.30 50.19 L516.10 44.59 Z" fill="#cd6b8b"/>
<path d="M516.37 49.19 L522.77 49.19 L519.57 43.59 Z" fill="#cd6b8b"/>
<path d="M519.85 48.19 L526.25 48.19 L523.05 42.59 Z" fill="#cd6b8b"/>
<path d="M523.32 47.19 L529.72 47.19 L526.52 41.59 Z" fill="#cd6b8b"/>
<path d="M526.79 46.18 L533.19 46.18 L529.99 40.58 Z" fill="#cd6b8b"/>
<path d="M530.27 45.38 L536.67 45.38 L533.47 39.78 Z" fill="#cd6b8b"/>
<path d="M533.74 44.58 L540.14 44.58 L536.94 38.98 Z" fill="#cd6b8b"/>
<path d="M537.22 43.78 L543.62 43.78 L540.42 38.18 Z" fill="#cd6b8b"/>
<path d="M540.69 42.98 L547.09 42.98 L543.89 37.38 Z" fill="#cd6b8b"/>
<path d="M544.16 42.18 L550.56 42.18 L547.36 36.58 Z" fill="#cd6b8b"/>
<path d="M547.64 42.01 L554.04 42.01 L550.84 36.41 Z" fill="#cd6b8b"/>
<path d="M551.11 41.85 L557.51 41.85 L554.31 36.25 Z" fill="#cd6b8b"/>
<path d="M554.59 41.68 L560.99 41.68 L557.79 36.08 Z" fill="#cd6b8b"/>
<path d="M558.06 41.51 L564.46 41.51 L561.26 35.91 Z" fill="#cd6b8b"/>
<path d="M561.53 38.84 L567.93 38.84 L564.73 33.24 Z" fill="#cd6b8b"/>
<path d="M565.01 32.16 L571.41 32.16 L568.21 26.56 Z" fill="#cd6b8b"/>
<path d="M568.48 30.16 L574.88 30.16 L571.68 24.56 Z" fill="#cd6b8b"/>
<path d="M571.96 28.83 L578.36 28.83 L575.16 23.23 Z" fill="#cd6b8b"/>
<path d="M575.43 27.38 L581.83 27.38 L578.63 21.78 Z" fill="#cd6b8b"/>
<path d="M578.90 26.79 L585.30 26.79 L582.10 21.19 Z" fill="#cd6b8b"/>
<path d="M582.38 27.75 L588.78 27.75 L585.58 22.15 Z" fill="#cd6b8b"/>
<path d="M585.85 27.30 L592.25 27.30 L589.05 21.70 Z" fill="#cd6b8b"/>
<path d="M589.33 28.21 L595.73 28.21 L592.53 22.61 Z" fill="#cd6b8b"/>
<path d="M592.80 28.50 L599.20 28.50 L596.00 22.90 Z" fill="#cd6b8b"/>
<path d="M596.27 27.89 L602.67 27.89 L599.47 22.29 Z" fill="#cd6b8b"/>
<path d="M599.75 28.23 L606.15 28.23 L602.95 22.63 Z" fill="#cd6b8b"/>
<path d="M603.22 27.37 L609.62 27.37 L606.42 21.77 Z" fill="#cd6b8b"/>
<path d="M606.70 25.31 L613.10 25.31 L609.90 19.71 Z" fill="#cd6b8b"/>
<path d="M610.17 25.97 L616.57 25.97 L613.37 20.37 Z" fill="#cd6b8b"/>
<path d="M613.64 23.76 L620.04 23.76 L616.84 18.16 Z" fill="#cd6b8b"/>
<path d="M617.12 24.33 L623.52 24.33 L620.32 18.73 Z" fill="#cd6b8b"/>
<path d="M620.59 24.99 L626.99 24.99 L623.79 19.39 Z" fill="#cd6b8b"/>
<path d="M624.07 23.39 L630.47 23.39 L627.27 17.79 Z" fill="#cd6b8b"/>
<path d="M627.54 24.05 L633.94 24.05 L630.74 18.45 Z" fill="#cd6b8b"/>
<path d="M631.01 22.83 L637.41 22.83 L634.21 17.23 Z" fill="#cd6b8b"/>
<path d="M634.49 24.19 L640.89 24.19 L637.69 18.59 Z" fill="#cd6b8b"/>
<path d="M637.96 24.27 L644.36 24.27 L641.16 18.67 Z" fill="#cd6b8b"/>
<path d="M641.44 23.66 L647.84 23.66 L644.64 18.06 Z" fill="#cd6b8b"/>
<rect x="80.00" y="8.00" width="112.50" height="86.00" fill="#fff"/>
<circle cx="100.70" cy="20.30" r="5.5" fill="#3a779e"/>
<text x="116.90" y="24.60" font-size="11.9" text-anchor="start" fill="#262626">Human</text>
<rect x="96.10" y="36.90" width="9.40" height="9.40" fill="#c8c8c8"/>
<text x="116.90" y="45.20" font-size="12" text-anchor="start" fill="#262626">RLPG (1)</text>
<circle cx="100.70" cy="61.20" r="4.5" fill="none" stroke="#e8935a" stroke-width="1.3"/>
<text x="116.90" y="65.30" font-size="12" text-anchor="start" fill="#262626">CPG (2)</text>
<path d="M96.2 86 L106.3 86 L101.25 76.6 Z" fill="#cd6b8b"/>
<text x="116.90" y="85.40" font-size="12" text-anchor="start" fill="#262626">ECPG (3)</text>
<text x="425.10" y="145.50" font-size="11.9" text-anchor="middle" fill="#a0a0a0" transform="rotate(-90 425.1 145.5)">Better performance</text>
<line x1="433.00" y1="188.00" x2="433.00" y2="101.00" stroke="#a6a6a6" stroke-width="1.5" stroke-linecap="butt"/>
<path d="M430.9 101.8 L435.1 101.8 L433 96.9 Z" fill="#a6a6a6"/>
<line x1="475.80" y1="96.10" x2="475.80" y2="175.90" stroke="#262626" stroke-width="2.3" stroke-linecap="butt"/>
<line x1="474.60" y1="174.80" x2="539.20" y2="174.80" stroke="#262626" stroke-width="2.2" stroke-linecap="butt"/>
<line x1="469.50" y1="100.80" x2="475.70" y2="100.80" stroke="#262626" stroke-width="1.5" stroke-linecap="butt"/>
<text x="468.20" y="104.80" font-size="11.4" text-anchor="end" fill="#262626">1.0</text>
<line x1="469.50" y1="136.35" x2="475.70" y2="136.35" stroke="#262626" stroke-width="1.5" stroke-linecap="butt"/>
<text x="468.20" y="140.35" font-size="11.4" text-anchor="end" fill="#262626">0.5</text>
<line x1="469.50" y1="171.90" x2="475.70" y2="171.90" stroke="#262626" stroke-width="1.5" stroke-linecap="butt"/>
<text x="468.20" y="175.90" font-size="11.4" text-anchor="end" fill="#262626">0.0</text>
<line x1="481.20" y1="174.80" x2="481.20" y2="179.00" stroke="#262626" stroke-width="1.5" stroke-linecap="butt"/>
<text x="481.20" y="192.30" font-size="10.9" text-anchor="middle" fill="#262626">0</text>
<line x1="514.70" y1="174.80" x2="514.70" y2="179.00" stroke="#262626" stroke-width="1.5" stroke-linecap="butt"/>
<text x="514.70" y="192.30" font-size="10.9" text-anchor="middle" fill="#262626">100</text>
<text x="449.20" y="137.50" font-size="10.8" text-anchor="middle" fill="#000" transform="rotate(-90 449.2 137.5)">Trained acc.</text>
<circle cx="481.12" cy="100.80" r="1.75" fill="#3a7aa6" fill-opacity="0.72"/>
<circle cx="481.60" cy="101.51" r="1.75" fill="#3a7aa6" fill-opacity="0.72"/>
<circle cx="481.58" cy="102.22" r="1.75" fill="#3a7aa6" fill-opacity="0.72"/>
<circle cx="482.41" cy="102.93" r="1.75" fill="#3a7aa6" fill-opacity="0.72"/>
<circle cx="482.84" cy="101.72" r="1.75" fill="#3a7aa6" fill-opacity="0.72"/>
<circle cx="482.86" cy="100.80" r="1.75" fill="#3a7aa6" fill-opacity="0.72"/>
<circle cx="483.29" cy="100.88" r="1.75" fill="#3a7aa6" fill-opacity="0.72"/>
<circle cx="483.34" cy="104.20" r="1.75" fill="#3a7aa6" fill-opacity="0.72"/>
<circle cx="483.89" cy="105.12" r="1.75" fill="#3a7aa6" fill-opacity="0.72"/>
<circle cx="484.36" cy="105.68" r="1.75" fill="#3a7aa6" fill-opacity="0.72"/>
<circle cx="484.70" cy="103.22" r="1.75" fill="#3a7aa6" fill-opacity="0.72"/>
<circle cx="484.94" cy="103.73" r="1.75" fill="#3a7aa6" fill-opacity="0.72"/>
<circle cx="485.44" cy="103.46" r="1.75" fill="#3a7aa6" fill-opacity="0.72"/>
<circle cx="485.54" cy="103.03" r="1.75" fill="#3a7aa6" fill-opacity="0.72"/>
<circle cx="486.02" cy="104.51" r="1.75" fill="#3a7aa6" fill-opacity="0.72"/>
<circle cx="486.48" cy="107.93" r="1.75" fill="#3a7aa6" fill-opacity="0.72"/>
<circle cx="486.53" cy="106.96" r="1.75" fill="#3a7aa6" fill-opacity="0.72"/>
<circle cx="487.16" cy="102.14" r="1.75" fill="#3a7aa6" fill-opacity="0.72"/>
<circle cx="487.01" cy="103.89" r="1.75" fill="#3a7aa6" fill-opacity="0.72"/>
<circle cx="487.40" cy="105.38" r="1.75" fill="#3a7aa6" fill-opacity="0.72"/>
<circle cx="487.98" cy="102.88" r="1.75" fill="#3a7aa6" fill-opacity="0.72"/>
<circle cx="488.12" cy="105.63" r="1.75" fill="#3a7aa6" fill-opacity="0.72"/>
<circle cx="488.48" cy="107.34" r="1.75" fill="#3a7aa6" fill-opacity="0.72"/>
<circle cx="488.96" cy="105.68" r="1.75" fill="#3a7aa6" fill-opacity="0.72"/>
<circle cx="489.35" cy="109.52" r="1.75" fill="#3a7aa6" fill-opacity="0.72"/>
<circle cx="489.83" cy="108.18" r="1.75" fill="#3a7aa6" fill-opacity="0.72"/>
<circle cx="490.01" cy="102.42" r="1.75" fill="#3a7aa6" fill-opacity="0.72"/>
<circle cx="490.04" cy="111.21" r="1.75" fill="#3a7aa6" fill-opacity="0.72"/>
<circle cx="490.82" cy="103.33" r="1.75" fill="#3a7aa6" fill-opacity="0.72"/>
<circle cx="490.96" cy="110.79" r="1.75" fill="#3a7aa6" fill-opacity="0.72"/>
<circle cx="491.45" cy="107.35" r="1.75" fill="#3a7aa6" fill-opacity="0.72"/>
<circle cx="491.63" cy="108.59" r="1.75" fill="#3a7aa6" fill-opacity="0.72"/>
<circle cx="492.13" cy="107.62" r="1.75" fill="#3a7aa6" fill-opacity="0.72"/>
<circle cx="492.55" cy="106.96" r="1.75" fill="#3a7aa6" fill-opacity="0.72"/>
<circle cx="492.54" cy="104.84" r="1.75" fill="#3a7aa6" fill-opacity="0.72"/>
<circle cx="492.72" cy="106.20" r="1.75" fill="#3a7aa6" fill-opacity="0.72"/>
<circle cx="493.48" cy="109.22" r="1.75" fill="#3a7aa6" fill-opacity="0.72"/>
<circle cx="493.32" cy="105.22" r="1.75" fill="#3a7aa6" fill-opacity="0.72"/>
<circle cx="494.06" cy="109.16" r="1.75" fill="#3a7aa6" fill-opacity="0.72"/>
<circle cx="494.16" cy="109.31" r="1.75" fill="#3a7aa6" fill-opacity="0.72"/>
<circle cx="494.60" cy="105.03" r="1.75" fill="#3a7aa6" fill-opacity="0.72"/>
<circle cx="495.23" cy="113.14" r="1.75" fill="#3a7aa6" fill-opacity="0.72"/>
<circle cx="495.33" cy="109.83" r="1.75" fill="#3a7aa6" fill-opacity="0.72"/>
<circle cx="495.32" cy="109.01" r="1.75" fill="#3a7aa6" fill-opacity="0.72"/>
<circle cx="496.01" cy="109.29" r="1.75" fill="#3a7aa6" fill-opacity="0.72"/>
<circle cx="496.07" cy="108.24" r="1.75" fill="#3a7aa6" fill-opacity="0.72"/>
<circle cx="496.50" cy="106.51" r="1.75" fill="#3a7aa6" fill-opacity="0.72"/>
<circle cx="497.22" cy="109.53" r="1.75" fill="#3a7aa6" fill-opacity="0.72"/>
<circle cx="497.26" cy="109.24" r="1.75" fill="#3a7aa6" fill-opacity="0.72"/>
<circle cx="497.63" cy="112.17" r="1.75" fill="#3a7aa6" fill-opacity="0.72"/>
<circle cx="497.99" cy="112.86" r="1.75" fill="#3a7aa6" fill-opacity="0.72"/>
<circle cx="498.36" cy="113.52" r="1.75" fill="#3a7aa6" fill-opacity="0.72"/>
<circle cx="498.58" cy="109.42" r="1.75" fill="#3a7aa6" fill-opacity="0.72"/>
<circle cx="499.09" cy="112.69" r="1.75" fill="#3a7aa6" fill-opacity="0.72"/>
<circle cx="499.58" cy="111.91" r="1.75" fill="#3a7aa6" fill-opacity="0.72"/>
<circle cx="499.64" cy="110.57" r="1.75" fill="#3a7aa6" fill-opacity="0.72"/>
<circle cx="499.91" cy="112.74" r="1.75" fill="#3a7aa6" fill-opacity="0.72"/>
<circle cx="500.34" cy="112.75" r="1.75" fill="#3a7aa6" fill-opacity="0.72"/>
<circle cx="500.71" cy="110.14" r="1.75" fill="#3a7aa6" fill-opacity="0.72"/>
<circle cx="500.70" cy="112.73" r="1.75" fill="#3a7aa6" fill-opacity="0.72"/>
<circle cx="501.41" cy="129.24" r="1.75" fill="#3a7aa6" fill-opacity="0.72"/>
<circle cx="501.55" cy="115.09" r="1.75" fill="#3a7aa6" fill-opacity="0.72"/>
<circle cx="501.68" cy="114.57" r="1.75" fill="#3a7aa6" fill-opacity="0.72"/>
<circle cx="502.04" cy="117.05" r="1.75" fill="#3a7aa6" fill-opacity="0.72"/>
<circle cx="502.49" cy="116.41" r="1.75" fill="#3a7aa6" fill-opacity="0.72"/>
<circle cx="502.95" cy="118.90" r="1.75" fill="#3a7aa6" fill-opacity="0.72"/>
<circle cx="503.23" cy="115.99" r="1.75" fill="#3a7aa6" fill-opacity="0.72"/>
<circle cx="503.53" cy="115.70" r="1.75" fill="#3a7aa6" fill-opacity="0.72"/>
<circle cx="503.86" cy="116.77" r="1.75" fill="#3a7aa6" fill-opacity="0.72"/>
<circle cx="504.24" cy="113.20" r="1.75" fill="#3a7aa6" fill-opacity="0.72"/>
<circle cx="504.69" cy="115.30" r="1.75" fill="#3a7aa6" fill-opacity="0.72"/>
<circle cx="505.13" cy="116.04" r="1.75" fill="#3a7aa6" fill-opacity="0.72"/>
<circle cx="505.50" cy="116.30" r="1.75" fill="#3a7aa6" fill-opacity="0.72"/>
<circle cx="505.50" cy="114.68" r="1.75" fill="#3a7aa6" fill-opacity="0.72"/>
<circle cx="506.11" cy="115.38" r="1.75" fill="#3a7aa6" fill-opacity="0.72"/>
<circle cx="506.09" cy="114.44" r="1.75" fill="#3a7aa6" fill-opacity="0.72"/>
<circle cx="506.86" cy="117.40" r="1.75" fill="#3a7aa6" fill-opacity="0.72"/>
<circle cx="506.96" cy="115.21" r="1.75" fill="#3a7aa6" fill-opacity="0.72"/>
<circle cx="507.23" cy="116.29" r="1.75" fill="#3a7aa6" fill-opacity="0.72"/>
<circle cx="507.76" cy="118.20" r="1.75" fill="#3a7aa6" fill-opacity="0.72"/>
<circle cx="507.84" cy="115.81" r="1.75" fill="#3a7aa6" fill-opacity="0.72"/>
<circle cx="508.11" cy="119.10" r="1.75" fill="#3a7aa6" fill-opacity="0.72"/>
<circle cx="508.85" cy="119.14" r="1.75" fill="#3a7aa6" fill-opacity="0.72"/>
<circle cx="509.21" cy="118.31" r="1.75" fill="#3a7aa6" fill-opacity="0.72"/>
<circle cx="509.52" cy="117.63" r="1.75" fill="#3a7aa6" fill-opacity="0.72"/>
<circle cx="509.76" cy="117.02" r="1.75" fill="#3a7aa6" fill-opacity="0.72"/>
<circle cx="509.79" cy="118.06" r="1.75" fill="#3a7aa6" fill-opacity="0.72"/>
<circle cx="510.22" cy="120.62" r="1.75" fill="#3a7aa6" fill-opacity="0.72"/>
<circle cx="510.59" cy="118.68" r="1.75" fill="#3a7aa6" fill-opacity="0.72"/>
<circle cx="510.97" cy="120.84" r="1.75" fill="#3a7aa6" fill-opacity="0.72"/>
<circle cx="511.60" cy="121.32" r="1.75" fill="#3a7aa6" fill-opacity="0.72"/>
<circle cx="511.48" cy="118.75" r="1.75" fill="#3a7aa6" fill-opacity="0.72"/>
<circle cx="512.25" cy="115.18" r="1.75" fill="#3a7aa6" fill-opacity="0.72"/>
<circle cx="512.65" cy="120.01" r="1.75" fill="#3a7aa6" fill-opacity="0.72"/>
<circle cx="512.95" cy="124.83" r="1.75" fill="#3a7aa6" fill-opacity="0.72"/>
<circle cx="512.86" cy="118.61" r="1.75" fill="#3a7aa6" fill-opacity="0.72"/>
<circle cx="513.46" cy="120.88" r="1.75" fill="#3a7aa6" fill-opacity="0.72"/>
<circle cx="513.71" cy="124.77" r="1.75" fill="#3a7aa6" fill-opacity="0.72"/>
<circle cx="513.87" cy="121.64" r="1.75" fill="#3a7aa6" fill-opacity="0.72"/>
<circle cx="514.11" cy="119.64" r="1.75" fill="#3a7aa6" fill-opacity="0.72"/>
<circle cx="514.89" cy="123.00" r="1.75" fill="#3a7aa6" fill-opacity="0.72"/>
<circle cx="514.76" cy="122.68" r="1.75" fill="#3a7aa6" fill-opacity="0.72"/>
<circle cx="515.62" cy="119.51" r="1.75" fill="#3a7aa6" fill-opacity="0.72"/>
<circle cx="515.94" cy="123.98" r="1.75" fill="#3a7aa6" fill-opacity="0.72"/>
<circle cx="515.75" cy="120.33" r="1.75" fill="#3a7aa6" fill-opacity="0.72"/>
<circle cx="516.52" cy="124.19" r="1.75" fill="#3a7aa6" fill-opacity="0.72"/>
<circle cx="516.81" cy="122.07" r="1.75" fill="#3a7aa6" fill-opacity="0.72"/>
<circle cx="517.06" cy="121.58" r="1.75" fill="#3a7aa6" fill-opacity="0.72"/>
<circle cx="517.45" cy="127.31" r="1.75" fill="#3a7aa6" fill-opacity="0.72"/>
<circle cx="517.62" cy="121.05" r="1.75" fill="#3a7aa6" fill-opacity="0.72"/>
<circle cx="518.04" cy="123.75" r="1.75" fill="#3a7aa6" fill-opacity="0.72"/>
<circle cx="518.55" cy="119.94" r="1.75" fill="#3a7aa6" fill-opacity="0.72"/>
<circle cx="518.74" cy="124.90" r="1.75" fill="#3a7aa6" fill-opacity="0.72"/>
<circle cx="519.25" cy="123.26" r="1.75" fill="#3a7aa6" fill-opacity="0.72"/>
<circle cx="519.64" cy="122.85" r="1.75" fill="#3a7aa6" fill-opacity="0.72"/>
<circle cx="519.91" cy="121.63" r="1.75" fill="#3a7aa6" fill-opacity="0.72"/>
<circle cx="520.14" cy="124.83" r="1.75" fill="#3a7aa6" fill-opacity="0.72"/>
<circle cx="520.61" cy="125.37" r="1.75" fill="#3a7aa6" fill-opacity="0.72"/>
<circle cx="520.59" cy="123.85" r="1.75" fill="#3a7aa6" fill-opacity="0.72"/>
<circle cx="521.08" cy="125.07" r="1.75" fill="#3a7aa6" fill-opacity="0.72"/>
<circle cx="521.57" cy="127.77" r="1.75" fill="#3a7aa6" fill-opacity="0.72"/>
<circle cx="521.44" cy="124.93" r="1.75" fill="#3a7aa6" fill-opacity="0.72"/>
<circle cx="521.84" cy="125.21" r="1.75" fill="#3a7aa6" fill-opacity="0.72"/>
<circle cx="522.15" cy="126.05" r="1.75" fill="#3a7aa6" fill-opacity="0.72"/>
<circle cx="522.49" cy="122.74" r="1.75" fill="#3a7aa6" fill-opacity="0.72"/>
<circle cx="523.08" cy="127.43" r="1.75" fill="#3a7aa6" fill-opacity="0.72"/>
<circle cx="523.32" cy="127.72" r="1.75" fill="#3a7aa6" fill-opacity="0.72"/>
<circle cx="523.83" cy="125.64" r="1.75" fill="#3a7aa6" fill-opacity="0.72"/>
<circle cx="523.89" cy="129.05" r="1.75" fill="#3a7aa6" fill-opacity="0.72"/>
<circle cx="524.31" cy="128.62" r="1.75" fill="#3a7aa6" fill-opacity="0.72"/>
<circle cx="524.88" cy="126.05" r="1.75" fill="#3a7aa6" fill-opacity="0.72"/>
<circle cx="525.01" cy="126.28" r="1.75" fill="#3a7aa6" fill-opacity="0.72"/>
<circle cx="525.34" cy="127.17" r="1.75" fill="#3a7aa6" fill-opacity="0.72"/>
<circle cx="525.82" cy="127.88" r="1.75" fill="#3a7aa6" fill-opacity="0.72"/>
<circle cx="526.27" cy="128.29" r="1.75" fill="#3a7aa6" fill-opacity="0.72"/>
<circle cx="526.50" cy="130.80" r="1.75" fill="#3a7aa6" fill-opacity="0.72"/>
<circle cx="526.76" cy="130.85" r="1.75" fill="#3a7aa6" fill-opacity="0.72"/>
<circle cx="527.22" cy="128.51" r="1.75" fill="#3a7aa6" fill-opacity="0.72"/>
<circle cx="527.41" cy="132.21" r="1.75" fill="#3a7aa6" fill-opacity="0.72"/>
<circle cx="527.61" cy="128.26" r="1.75" fill="#3a7aa6" fill-opacity="0.72"/>
<circle cx="527.84" cy="132.92" r="1.75" fill="#3a7aa6" fill-opacity="0.72"/>
<circle cx="528.39" cy="130.83" r="1.75" fill="#3a7aa6" fill-opacity="0.72"/>
<circle cx="529.03" cy="134.01" r="1.75" fill="#3a7aa6" fill-opacity="0.72"/>
<circle cx="529.03" cy="128.72" r="1.75" fill="#3a7aa6" fill-opacity="0.72"/>
<circle cx="529.30" cy="127.94" r="1.75" fill="#3a7aa6" fill-opacity="0.72"/>
<circle cx="529.75" cy="133.08" r="1.75" fill="#3a7aa6" fill-opacity="0.72"/>
<circle cx="530.21" cy="128.57" r="1.75" fill="#3a7aa6" fill-opacity="0.72"/>
<circle cx="530.68" cy="128.84" r="1.75" fill="#3a7aa6" fill-opacity="0.72"/>
<circle cx="530.92" cy="130.82" r="1.75" fill="#3a7aa6" fill-opacity="0.72"/>
<circle cx="531.15" cy="134.66" r="1.75" fill="#3a7aa6" fill-opacity="0.72"/>
<circle cx="531.15" cy="129.90" r="1.75" fill="#3a7aa6" fill-opacity="0.72"/>
<circle cx="531.57" cy="130.62" r="1.75" fill="#3a7aa6" fill-opacity="0.72"/>
<circle cx="531.88" cy="132.34" r="1.75" fill="#3a7aa6" fill-opacity="0.72"/>
<circle cx="532.21" cy="133.23" r="1.75" fill="#3a7aa6" fill-opacity="0.72"/>
<circle cx="532.50" cy="131.93" r="1.75" fill="#3a7aa6" fill-opacity="0.72"/>
<circle cx="533.33" cy="133.91" r="1.75" fill="#3a7aa6" fill-opacity="0.72"/>
<circle cx="533.56" cy="130.49" r="1.75" fill="#3a7aa6" fill-opacity="0.72"/>
<circle cx="534.00" cy="130.82" r="1.75" fill="#3a7aa6" fill-opacity="0.72"/>
<circle cx="534.31" cy="131.18" r="1.75" fill="#3a7aa6" fill-opacity="0.72"/>
<circle cx="534.19" cy="134.66" r="1.75" fill="#3a7aa6" fill-opacity="0.72"/>
<circle cx="534.93" cy="133.84" r="1.75" fill="#3a7aa6" fill-opacity="0.72"/>
<circle cx="534.90" cy="136.67" r="1.75" fill="#3a7aa6" fill-opacity="0.72"/>
<circle cx="535.21" cy="134.54" r="1.75" fill="#3a7aa6" fill-opacity="0.72"/>
<circle cx="535.70" cy="139.37" r="1.75" fill="#3a7aa6" fill-opacity="0.72"/>
<circle cx="535.99" cy="138.37" r="1.75" fill="#3a7aa6" fill-opacity="0.72"/>
<text x="484.00" y="146.70" font-size="9" text-anchor="start" fill="#000"><tspan font-style="italic">r</tspan> = -0.96</text>
<text x="484.00" y="157.90" font-size="9" text-anchor="start" fill="#000"><tspan font-style="italic">p</tspan> &lt; 0.001,</text>
<text x="484.00" y="167.50" font-size="9" text-anchor="start" fill="#000">two-sided</text>
<line x1="569.60" y1="96.20" x2="569.60" y2="175.30" stroke="#262626" stroke-width="2.3" stroke-linecap="butt"/>
<line x1="568.50" y1="174.20" x2="633.00" y2="174.20" stroke="#262626" stroke-width="2.2" stroke-linecap="butt"/>
<line x1="562.90" y1="100.70" x2="569.60" y2="100.70" stroke="#262626" stroke-width="1.5" stroke-linecap="butt"/>
<line x1="562.90" y1="136.05" x2="569.60" y2="136.05" stroke="#262626" stroke-width="1.5" stroke-linecap="butt"/>
<line x1="562.90" y1="171.40" x2="569.60" y2="171.40" stroke="#262626" stroke-width="1.5" stroke-linecap="butt"/>
<line x1="574.50" y1="174.20" x2="574.50" y2="178.40" stroke="#262626" stroke-width="1.5" stroke-linecap="butt"/>
<text x="574.50" y="192.30" font-size="10.9" text-anchor="middle" fill="#262626">0</text>
<line x1="607.70" y1="174.20" x2="607.70" y2="178.40" stroke="#262626" stroke-width="1.5" stroke-linecap="butt"/>
<text x="607.70" y="192.30" font-size="10.9" text-anchor="middle" fill="#262626">100</text>
<text x="553.20" y="135.00" font-size="10.8" text-anchor="middle" fill="#000" transform="rotate(-90 553.2 135)">Untrained acc.</text>
<circle cx="575.01" cy="100.70" r="1.75" fill="#3a7aa6" fill-opacity="0.72"/>
<circle cx="574.94" cy="100.70" r="1.75" fill="#3a7aa6" fill-opacity="0.72"/>
<circle cx="575.32" cy="100.70" r="1.75" fill="#3a7aa6" fill-opacity="0.72"/>
<circle cx="575.07" cy="103.65" r="1.75" fill="#3a7aa6" fill-opacity="0.72"/>
<circle cx="575.99" cy="100.70" r="1.75" fill="#3a7aa6" fill-opacity="0.72"/>
<circle cx="576.10" cy="100.70" r="1.75" fill="#3a7aa6" fill-opacity="0.72"/>
<circle cx="575.91" cy="118.38" r="1.75" fill="#3a7aa6" fill-opacity="0.72"/>
<circle cx="576.51" cy="162.56" r="1.75" fill="#3a7aa6" fill-opacity="0.72"/>
<circle cx="577.08" cy="100.70" r="1.75" fill="#3a7aa6" fill-opacity="0.72"/>
<circle cx="577.24" cy="112.48" r="1.75" fill="#3a7aa6" fill-opacity="0.72"/>
<circle cx="578.01" cy="100.70" r="1.75" fill="#3a7aa6" fill-opacity="0.72"/>
<circle cx="578.67" cy="100.70" r="1.75" fill="#3a7aa6" fill-opacity="0.72"/>
<circle cx="578.79" cy="100.70" r="1.75" fill="#3a7aa6" fill-opacity="0.72"/>
<circle cx="578.35" cy="150.78" r="1.75" fill="#3a7aa6" fill-opacity="0.72"/>
<circle cx="578.63" cy="100.70" r="1.75" fill="#3a7aa6" fill-opacity="0.72"/>
<circle cx="579.14" cy="100.70" r="1.75" fill="#3a7aa6" fill-opacity="0.72"/>
<circle cx="580.39" cy="103.65" r="1.75" fill="#3a7aa6" fill-opacity="0.72"/>
<circle cx="580.30" cy="100.70" r="1.75" fill="#3a7aa6" fill-opacity="0.72"/>
<circle cx="580.25" cy="106.59" r="1.75" fill="#3a7aa6" fill-opacity="0.72"/>
<circle cx="581.32" cy="100.70" r="1.75" fill="#3a7aa6" fill-opacity="0.72"/>
<circle cx="580.55" cy="100.70" r="1.75" fill="#3a7aa6" fill-opacity="0.72"/>
<circle cx="581.69" cy="100.70" r="1.75" fill="#3a7aa6" fill-opacity="0.72"/>
<circle cx="582.39" cy="100.70" r="1.75" fill="#3a7aa6" fill-opacity="0.72"/>
<circle cx="581.68" cy="109.54" r="1.75" fill="#3a7aa6" fill-opacity="0.72"/>
<circle cx="582.19" cy="100.70" r="1.75" fill="#3a7aa6" fill-opacity="0.72"/>
<circle cx="583.26" cy="112.48" r="1.75" fill="#3a7aa6" fill-opacity="0.72"/>
<circle cx="583.56" cy="100.70" r="1.75" fill="#3a7aa6" fill-opacity="0.72"/>
<circle cx="583.39" cy="162.56" r="1.75" fill="#3a7aa6" fill-opacity="0.72"/>
<circle cx="584.19" cy="100.70" r="1.75" fill="#3a7aa6" fill-opacity="0.72"/>
<circle cx="583.78" cy="100.70" r="1.75" fill="#3a7aa6" fill-opacity="0.72"/>
<circle cx="584.31" cy="103.65" r="1.75" fill="#3a7aa6" fill-opacity="0.72"/>
<circle cx="584.77" cy="100.70" r="1.75" fill="#3a7aa6" fill-opacity="0.72"/>
<circle cx="584.71" cy="124.27" r="1.75" fill="#3a7aa6" fill-opacity="0.72"/>
<circle cx="585.84" cy="118.38" r="1.75" fill="#3a7aa6" fill-opacity="0.72"/>
<circle cx="586.32" cy="112.48" r="1.75" fill="#3a7aa6" fill-opacity="0.72"/>
<circle cx="586.66" cy="106.59" r="1.75" fill="#3a7aa6" fill-opacity="0.72"/>
<circle cx="585.98" cy="103.65" r="1.75" fill="#3a7aa6" fill-opacity="0.72"/>
<circle cx="586.47" cy="141.94" r="1.75" fill="#3a7aa6" fill-opacity="0.72"/>
<circle cx="587.23" cy="112.48" r="1.75" fill="#3a7aa6" fill-opacity="0.72"/>
<circle cx="587.06" cy="118.38" r="1.75" fill="#3a7aa6" fill-opacity="0.72"/>
<circle cx="587.85" cy="171.40" r="1.75" fill="#3a7aa6" fill-opacity="0.72"/>
<circle cx="588.25" cy="115.43" r="1.75" fill="#3a7aa6" fill-opacity="0.72"/>
<circle cx="587.86" cy="115.43" r="1.75" fill="#3a7aa6" fill-opacity="0.72"/>
<circle cx="588.71" cy="103.65" r="1.75" fill="#3a7aa6" fill-opacity="0.72"/>
<circle cx="589.19" cy="109.54" r="1.75" fill="#3a7aa6" fill-opacity="0.72"/>
<circle cx="589.27" cy="112.48" r="1.75" fill="#3a7aa6" fill-opacity="0.72"/>
<circle cx="590.00" cy="103.65" r="1.75" fill="#3a7aa6" fill-opacity="0.72"/>
<circle cx="589.67" cy="127.21" r="1.75" fill="#3a7aa6" fill-opacity="0.72"/>
<circle cx="590.68" cy="112.48" r="1.75" fill="#3a7aa6" fill-opacity="0.72"/>
<circle cx="590.19" cy="112.48" r="1.75" fill="#3a7aa6" fill-opacity="0.72"/>
<circle cx="590.88" cy="118.38" r="1.75" fill="#3a7aa6" fill-opacity="0.72"/>
<circle cx="590.92" cy="121.32" r="1.75" fill="#3a7aa6" fill-opacity="0.72"/>
<circle cx="592.05" cy="127.21" r="1.75" fill="#3a7aa6" fill-opacity="0.72"/>
<circle cx="592.45" cy="118.38" r="1.75" fill="#3a7aa6" fill-opacity="0.72"/>
<circle cx="592.91" cy="109.54" r="1.75" fill="#3a7aa6" fill-opacity="0.72"/>
<circle cx="592.66" cy="118.38" r="1.75" fill="#3a7aa6" fill-opacity="0.72"/>
<circle cx="593.24" cy="109.54" r="1.75" fill="#3a7aa6" fill-opacity="0.72"/>
<circle cx="593.52" cy="130.16" r="1.75" fill="#3a7aa6" fill-opacity="0.72"/>
<circle cx="594.35" cy="118.38" r="1.75" fill="#3a7aa6" fill-opacity="0.72"/>
<circle cx="594.36" cy="118.38" r="1.75" fill="#3a7aa6" fill-opacity="0.72"/>
<circle cx="594.35" cy="124.27" r="1.75" fill="#3a7aa6" fill-opacity="0.72"/>
<circle cx="594.25" cy="106.59" r="1.75" fill="#3a7aa6" fill-opacity="0.72"/>
<circle cx="595.06" cy="115.43" r="1.75" fill="#3a7aa6" fill-opacity="0.72"/>
<circle cx="595.65" cy="118.38" r="1.75" fill="#3a7aa6" fill-opacity="0.72"/>
<circle cx="595.45" cy="127.21" r="1.75" fill="#3a7aa6" fill-opacity="0.72"/>
<circle cx="596.29" cy="159.62" r="1.75" fill="#3a7aa6" fill-opacity="0.72"/>
<circle cx="596.60" cy="115.43" r="1.75" fill="#3a7aa6" fill-opacity="0.72"/>
<circle cx="597.21" cy="112.48" r="1.75" fill="#3a7aa6" fill-opacity="0.72"/>
<circle cx="596.99" cy="121.32" r="1.75" fill="#3a7aa6" fill-opacity="0.72"/>
<circle cx="597.91" cy="106.59" r="1.75" fill="#3a7aa6" fill-opacity="0.72"/>
<circle cx="597.52" cy="112.48" r="1.75" fill="#3a7aa6" fill-opacity="0.72"/>
<circle cx="598.07" cy="121.32" r="1.75" fill="#3a7aa6" fill-opacity="0.72"/>
<circle cx="598.94" cy="109.54" r="1.75" fill="#3a7aa6" fill-opacity="0.72"/>
<circle cx="598.34" cy="130.16" r="1.75" fill="#3a7aa6" fill-opacity="0.72"/>
<circle cx="598.96" cy="124.27" r="1.75" fill="#3a7aa6" fill-opacity="0.72"/>
<circle cx="599.39" cy="115.43" r="1.75" fill="#3a7aa6" fill-opacity="0.72"/>
<circle cx="599.67" cy="124.27" r="1.75" fill="#3a7aa6" fill-opacity="0.72"/>
<circle cx="599.50" cy="106.59" r="1.75" fill="#3a7aa6" fill-opacity="0.72"/>
<circle cx="600.48" cy="115.43" r="1.75" fill="#3a7aa6" fill-opacity="0.72"/>
<circle cx="601.08" cy="118.38" r="1.75" fill="#3a7aa6" fill-opacity="0.72"/>
<circle cx="600.49" cy="115.43" r="1.75" fill="#3a7aa6" fill-opacity="0.72"/>
<circle cx="601.08" cy="118.38" r="1.75" fill="#3a7aa6" fill-opacity="0.72"/>
<circle cx="601.66" cy="118.38" r="1.75" fill="#3a7aa6" fill-opacity="0.72"/>
<circle cx="602.24" cy="115.43" r="1.75" fill="#3a7aa6" fill-opacity="0.72"/>
<circle cx="602.03" cy="112.48" r="1.75" fill="#3a7aa6" fill-opacity="0.72"/>
<circle cx="602.33" cy="136.05" r="1.75" fill="#3a7aa6" fill-opacity="0.72"/>
<circle cx="602.67" cy="109.54" r="1.75" fill="#3a7aa6" fill-opacity="0.72"/>
<circle cx="603.20" cy="118.38" r="1.75" fill="#3a7aa6" fill-opacity="0.72"/>
<circle cx="604.02" cy="121.32" r="1.75" fill="#3a7aa6" fill-opacity="0.72"/>
<circle cx="604.40" cy="127.21" r="1.75" fill="#3a7aa6" fill-opacity="0.72"/>
<circle cx="604.65" cy="115.43" r="1.75" fill="#3a7aa6" fill-opacity="0.72"/>
<circle cx="604.66" cy="121.32" r="1.75" fill="#3a7aa6" fill-opacity="0.72"/>
<circle cx="605.13" cy="133.10" r="1.75" fill="#3a7aa6" fill-opacity="0.72"/>
<circle cx="605.73" cy="133.10" r="1.75" fill="#3a7aa6" fill-opacity="0.72"/>
<circle cx="605.35" cy="112.48" r="1.75" fill="#3a7aa6" fill-opacity="0.72"/>
<circle cx="606.42" cy="124.27" r="1.75" fill="#3a7aa6" fill-opacity="0.72"/>
<circle cx="606.85" cy="127.21" r="1.75" fill="#3a7aa6" fill-opacity="0.72"/>
<circle cx="607.28" cy="130.16" r="1.75" fill="#3a7aa6" fill-opacity="0.72"/>
<circle cx="607.53" cy="133.10" r="1.75" fill="#3a7aa6" fill-opacity="0.72"/>
<circle cx="607.19" cy="124.27" r="1.75" fill="#3a7aa6" fill-opacity="0.72"/>
<circle cx="608.02" cy="112.48" r="1.75" fill="#3a7aa6" fill-opacity="0.72"/>
<circle cx="607.47" cy="118.38" r="1.75" fill="#3a7aa6" fill-opacity="0.72"/>
<circle cx="607.97" cy="121.32" r="1.75" fill="#3a7aa6" fill-opacity="0.72"/>
<circle cx="609.04" cy="124.27" r="1.75" fill="#3a7aa6" fill-opacity="0.72"/>
<circle cx="609.30" cy="118.38" r="1.75" fill="#3a7aa6" fill-opacity="0.72"/>
<circle cx="609.59" cy="118.38" r="1.75" fill="#3a7aa6" fill-opacity="0.72"/>
<circle cx="609.20" cy="112.48" r="1.75" fill="#3a7aa6" fill-opacity="0.72"/>
<circle cx="610.06" cy="124.27" r="1.75" fill="#3a7aa6" fill-opacity="0.72"/>
<circle cx="610.38" cy="124.27" r="1.75" fill="#3a7aa6" fill-opacity="0.72"/>
<circle cx="610.76" cy="109.54" r="1.75" fill="#3a7aa6" fill-opacity="0.72"/>
<circle cx="611.50" cy="124.27" r="1.75" fill="#3a7aa6" fill-opacity="0.72"/>
<circle cx="611.77" cy="115.43" r="1.75" fill="#3a7aa6" fill-opacity="0.72"/>
<circle cx="611.33" cy="112.48" r="1.75" fill="#3a7aa6" fill-opacity="0.72"/>
<circle cx="612.02" cy="124.27" r="1.75" fill="#3a7aa6" fill-opacity="0.72"/>
<circle cx="612.37" cy="124.27" r="1.75" fill="#3a7aa6" fill-opacity="0.72"/>
<circle cx="613.04" cy="124.27" r="1.75" fill="#3a7aa6" fill-opacity="0.72"/>
<circle cx="612.49" cy="133.10" r="1.75" fill="#3a7aa6" fill-opacity="0.72"/>
<circle cx="613.24" cy="127.21" r="1.75" fill="#3a7aa6" fill-opacity="0.72"/>
<circle cx="613.64" cy="106.59" r="1.75" fill="#3a7aa6" fill-opacity="0.72"/>
<circle cx="613.93" cy="127.21" r="1.75" fill="#3a7aa6" fill-opacity="0.72"/>
<circle cx="614.12" cy="118.38" r="1.75" fill="#3a7aa6" fill-opacity="0.72"/>
<circle cx="614.81" cy="139.00" r="1.75" fill="#3a7aa6" fill-opacity="0.72"/>
<circle cx="614.43" cy="121.32" r="1.75" fill="#3a7aa6" fill-opacity="0.72"/>
<circle cx="615.01" cy="127.21" r="1.75" fill="#3a7aa6" fill-opacity="0.72"/>
<circle cx="615.81" cy="127.21" r="1.75" fill="#3a7aa6" fill-opacity="0.72"/>
<circle cx="616.28" cy="130.16" r="1.75" fill="#3a7aa6" fill-opacity="0.72"/>
<circle cx="615.97" cy="118.38" r="1.75" fill="#3a7aa6" fill-opacity="0.72"/>
<circle cx="616.59" cy="118.38" r="1.75" fill="#3a7aa6" fill-opacity="0.72"/>
<circle cx="616.59" cy="130.16" r="1.75" fill="#3a7aa6" fill-opacity="0.72"/>
<circle cx="617.49" cy="118.38" r="1.75" fill="#3a7aa6" fill-opacity="0.72"/>
<circle cx="617.79" cy="130.16" r="1.75" fill="#3a7aa6" fill-opacity="0.72"/>
<circle cx="617.67" cy="133.10" r="1.75" fill="#3a7aa6" fill-opacity="0.72"/>
<circle cx="618.10" cy="127.21" r="1.75" fill="#3a7aa6" fill-opacity="0.72"/>
<circle cx="619.16" cy="139.00" r="1.75" fill="#3a7aa6" fill-opacity="0.72"/>
<circle cx="618.55" cy="121.32" r="1.75" fill="#3a7aa6" fill-opacity="0.72"/>
<circle cx="619.59" cy="106.59" r="1.75" fill="#3a7aa6" fill-opacity="0.72"/>
<circle cx="619.56" cy="127.21" r="1.75" fill="#3a7aa6" fill-opacity="0.72"/>
<circle cx="619.54" cy="124.27" r="1.75" fill="#3a7aa6" fill-opacity="0.72"/>
<circle cx="620.53" cy="162.56" r="1.75" fill="#3a7aa6" fill-opacity="0.72"/>
<circle cx="621.21" cy="121.32" r="1.75" fill="#3a7aa6" fill-opacity="0.72"/>
<circle cx="620.98" cy="121.32" r="1.75" fill="#3a7aa6" fill-opacity="0.72"/>
<circle cx="620.94" cy="121.32" r="1.75" fill="#3a7aa6" fill-opacity="0.72"/>
<circle cx="621.66" cy="153.72" r="1.75" fill="#3a7aa6" fill-opacity="0.72"/>
<circle cx="621.55" cy="124.27" r="1.75" fill="#3a7aa6" fill-opacity="0.72"/>
<circle cx="622.90" cy="124.27" r="1.75" fill="#3a7aa6" fill-opacity="0.72"/>
<circle cx="622.15" cy="121.32" r="1.75" fill="#3a7aa6" fill-opacity="0.72"/>
<circle cx="623.29" cy="109.54" r="1.75" fill="#3a7aa6" fill-opacity="0.72"/>
<circle cx="623.26" cy="121.32" r="1.75" fill="#3a7aa6" fill-opacity="0.72"/>
<circle cx="623.05" cy="136.05" r="1.75" fill="#3a7aa6" fill-opacity="0.72"/>
<circle cx="624.38" cy="130.16" r="1.75" fill="#3a7aa6" fill-opacity="0.72"/>
<circle cx="624.19" cy="124.27" r="1.75" fill="#3a7aa6" fill-opacity="0.72"/>
<circle cx="624.23" cy="121.32" r="1.75" fill="#3a7aa6" fill-opacity="0.72"/>
<circle cx="625.33" cy="130.16" r="1.75" fill="#3a7aa6" fill-opacity="0.72"/>
<circle cx="625.73" cy="130.16" r="1.75" fill="#3a7aa6" fill-opacity="0.72"/>
<circle cx="625.63" cy="133.10" r="1.75" fill="#3a7aa6" fill-opacity="0.72"/>
<circle cx="626.33" cy="136.05" r="1.75" fill="#3a7aa6" fill-opacity="0.72"/>
<circle cx="626.63" cy="130.16" r="1.75" fill="#3a7aa6" fill-opacity="0.72"/>
<circle cx="626.51" cy="112.48" r="1.75" fill="#3a7aa6" fill-opacity="0.72"/>
<circle cx="627.28" cy="115.43" r="1.75" fill="#3a7aa6" fill-opacity="0.72"/>
<circle cx="627.17" cy="139.00" r="1.75" fill="#3a7aa6" fill-opacity="0.72"/>
<circle cx="627.58" cy="130.16" r="1.75" fill="#3a7aa6" fill-opacity="0.72"/>
<circle cx="628.12" cy="156.67" r="1.75" fill="#3a7aa6" fill-opacity="0.72"/>
<circle cx="628.48" cy="133.10" r="1.75" fill="#3a7aa6" fill-opacity="0.72"/>
<circle cx="628.81" cy="133.10" r="1.75" fill="#3a7aa6" fill-opacity="0.72"/>
<circle cx="629.55" cy="139.00" r="1.75" fill="#3a7aa6" fill-opacity="0.72"/>
<text x="604.60" y="92.00" font-size="9.2" text-anchor="start" fill="#000"><tspan font-style="italic">r</tspan> = -0.51</text>
<text x="604.60" y="103.70" font-size="9.2" text-anchor="start" fill="#000"><tspan font-style="italic">p</tspan> &lt; 0.001 two-sided</text>
<text x="546.00" y="205.90" font-size="10.8" text-anchor="middle" fill="#000">Participant index</text>
<text x="-1.20" y="288.60" font-size="20" text-anchor="start" fill="#000" font-weight="bold">B</text>
<line x1="54.10" y1="296.20" x2="54.10" y2="395.60" stroke="#262626" stroke-width="2.8" stroke-linecap="butt"/>
<line x1="48.40" y1="301.60" x2="54.10" y2="301.60" stroke="#262626" stroke-width="1.6" stroke-linecap="butt"/>
<text x="46.80" y="305.60" font-size="11.4" text-anchor="end" fill="#262626">1.0</text>
<line x1="48.40" y1="348.00" x2="54.10" y2="348.00" stroke="#262626" stroke-width="1.6" stroke-linecap="butt"/>
<text x="46.80" y="352.00" font-size="11.4" text-anchor="end" fill="#262626">0.5</text>
<line x1="48.40" y1="394.40" x2="54.10" y2="394.40" stroke="#262626" stroke-width="1.6" stroke-linecap="butt"/>
<text x="46.80" y="398.40" font-size="11.4" text-anchor="end" fill="#262626">0.0</text>
<line x1="59.10" y1="394.40" x2="185.30" y2="394.40" stroke="#262626" stroke-width="2.8" stroke-linecap="butt"/>
<rect x="154.90" y="301.80" width="18.60" height="92.60" fill="#bb7283" stroke="#3a3a3a" stroke-width="0.9"/>
<line x1="59.10" y1="394.40" x2="185.30" y2="394.40" stroke="#262626" stroke-width="2.8" stroke-linecap="butt"/>
<line x1="81.00" y1="394.40" x2="81.00" y2="400.50" stroke="#262626" stroke-width="1.6" stroke-linecap="butt"/>
<text x="81.00" y="412.20" font-size="12.4" text-anchor="middle" fill="#262626">RLPG</text>
<line x1="122.50" y1="394.40" x2="122.50" y2="400.50" stroke="#262626" stroke-width="1.6" stroke-linecap="butt"/>
<text x="122.50" y="412.20" font-size="12.4" text-anchor="middle" fill="#262626">CPG</text>
<line x1="164.00" y1="394.40" x2="164.00" y2="400.50" stroke="#262626" stroke-width="1.6" stroke-linecap="butt"/>
<text x="164.00" y="412.20" font-size="12.4" text-anchor="middle" fill="#262626">ECPG</text>
<text x="166.00" y="299.70" font-size="11.2" text-anchor="middle" fill="#000">&gt;99%</text>
<text x="15.00" y="353.50" font-size="13.8" text-anchor="middle" fill="#262626" transform="rotate(-90 15 353.5)">PXP</text>
<text x="74.70" y="319.80" font-size="14.2" text-anchor="middle" fill="#a0a0a0" transform="rotate(90 74.7 319.8)">Better fit</text>
<line x1="68.10" y1="363.40" x2="68.10" y2="276.00" stroke="#a8a8a8" stroke-width="1.6" stroke-linecap="butt"/>
<path d="M66 277 L70.2 277 L68.1 272.1 Z" fill="#a8a8a8"/>
<text x="197.50" y="289.40" font-size="20" text-anchor="start" fill="#000" font-weight="bold">C</text>
<line x1="267.60" y1="294.90" x2="267.60" y2="400.50" stroke="#262626" stroke-width="2.9" stroke-linecap="butt"/>
<line x1="260.00" y1="327.10" x2="267.60" y2="327.10" stroke="#262626" stroke-width="1.7" stroke-linecap="butt"/>
<text x="256.80" y="331.40" font-size="12" text-anchor="end" fill="#262626">0.0</text>
<line x1="260.00" y1="379.00" x2="267.60" y2="379.00" stroke="#262626" stroke-width="1.7" stroke-linecap="butt"/>
<text x="256.80" y="383.30" font-size="12" text-anchor="end" fill="#262626">−0.5</text>
<line x1="270.00" y1="399.10" x2="345.30" y2="399.10" stroke="#262626" stroke-width="2.9" stroke-linecap="butt"/>
<line x1="283.50" y1="399.10" x2="283.50" y2="406.20" stroke="#262626" stroke-width="1.8" stroke-linecap="butt"/>
<line x1="308.20" y1="399.10" x2="308.20" y2="406.20" stroke="#262626" stroke-width="1.8" stroke-linecap="butt"/>
<line x1="332.70" y1="399.10" x2="332.70" y2="406.20" stroke="#262626" stroke-width="1.8" stroke-linecap="butt"/>
<text x="209.30" y="389.00" font-size="15.1" text-anchor="start" fill="#000" transform="rotate(-90 209.3 389)">Complexity</text>
<text x="227.60" y="389.90" font-size="15.3" text-anchor="start" fill="#000" transform="rotate(-90 227.6 389.9)">change (bits)</text>
<text x="292.00" y="363.70" font-size="11.7" text-anchor="middle" fill="#a0a0a0" transform="rotate(-90 292 363.7)">Simplified</text>
<line x1="274.90" y1="337.80" x2="274.90" y2="390.00" stroke="#a8a8a8" stroke-width="1.5" stroke-linecap="butt"/>
<path d="M272.8 389.5 L277 389.5 L274.9 394.6 Z" fill="#a8a8a8"/>
<path d="M332.40 312.30 C332.32 313.25 332.12 315.88 331.90 318.00 C331.68 320.12 331.42 322.67 331.10 325.00 C330.78 327.33 330.45 329.83 330.00 332.00 C329.55 334.17 329.00 336.17 328.40 338.00 C327.80 339.83 327.08 341.33 326.40 343.00 C325.72 344.67 324.88 346.33 324.30 348.00 C323.72 349.67 323.15 351.50 322.90 353.00 C322.65 354.50 322.62 355.50 322.80 357.00 C322.98 358.50 323.45 360.33 324.00 362.00 C324.55 363.67 325.42 365.33 326.10 367.00 C326.78 368.67 327.48 370.17 328.10 372.00 C328.72 373.83 329.32 375.83 329.80 378.00 C330.28 380.17 330.70 382.83 331.00 385.00 C331.30 387.17 331.38 388.93 331.60 391.00 C331.82 393.07 332.18 396.33 332.30 397.40 L332.90 397.40 C333.02 396.33 333.38 393.07 333.60 391.00 C333.82 388.93 333.90 387.17 334.20 385.00 C334.50 382.83 334.92 380.17 335.40 378.00 C335.88 375.83 336.48 373.83 337.10 372.00 C337.72 370.17 338.42 368.67 339.10 367.00 C339.78 365.33 340.65 363.67 341.20 362.00 C341.75 360.33 342.22 358.50 342.40 357.00 C342.58 355.50 342.55 354.50 342.30 353.00 C342.05 351.50 341.48 349.67 340.90 348.00 C340.32 346.33 339.48 344.67 338.80 343.00 C338.12 341.33 337.40 339.83 336.80 338.00 C336.20 336.17 335.65 334.17 335.20 332.00 C334.75 329.83 334.42 327.33 334.10 325.00 C333.78 322.67 333.52 320.12 333.30 318.00 C333.08 315.88 332.88 313.25 332.80 312.30 Z" fill="#e3b6c2" stroke="#e3b6c2" stroke-width="0.6" stroke-linejoin="round"/>
<line x1="271.80" y1="327.20" x2="344.50" y2="327.20" stroke="#444" stroke-width="1.6" stroke-linecap="butt" stroke-dasharray="4 2.6"/>
<line x1="271.80" y1="327.20" x2="294.00" y2="327.20" stroke="#555" stroke-width="1.8" stroke-linecap="butt"/>
<circle cx="283.40" cy="327.20" r="2.8" fill="#4a4a4a"/>
<circle cx="308.94" cy="327.44" r="1.7" fill="#ec9a5c" fill-opacity="0.9"/>
<circle cx="309.97" cy="328.26" r="1.7" fill="#ec9a5c" fill-opacity="0.9"/>
<circle cx="309.64" cy="328.18" r="1.7" fill="#ec9a5c" fill-opacity="0.9"/>
<circle cx="305.37" cy="326.31" r="1.7" fill="#ec9a5c" fill-opacity="0.9"/>
<circle cx="310.86" cy="327.06" r="1.7" fill="#ec9a5c" fill-opacity="0.9"/>
<circle cx="310.61" cy="324.86" r="1.7" fill="#ec9a5c" fill-opacity="0.9"/>
<circle cx="308.01" cy="325.41" r="1.7" fill="#ec9a5c" fill-opacity="0.9"/>
<circle cx="308.46" cy="326.75" r="1.7" fill="#ec9a5c" fill-opacity="0.9"/>
<circle cx="305.28" cy="325.29" r="1.7" fill="#ec9a5c" fill-opacity="0.9"/>
<circle cx="306.88" cy="328.16" r="1.7" fill="#ec9a5c" fill-opacity="0.9"/>
<circle cx="308.20" cy="327.20" r="2.9" fill="#444"/>
<circle cx="332.29" cy="356.73" r="1.6" fill="#d4708f" fill-opacity="0.85"/>
<circle cx="332.27" cy="356.78" r="1.6" fill="#d4708f" fill-opacity="0.85"/>
<circle cx="333.90" cy="392.23" r="1.6" fill="#d4708f" fill-opacity="0.85"/>
<circle cx="331.49" cy="334.50" r="1.6" fill="#d4708f" fill-opacity="0.85"/>
<circle cx="334.21" cy="339.85" r="1.6" fill="#d4708f" fill-opacity="0.85"/>
<circle cx="334.84" cy="350.77" r="1.6" fill="#d4708f" fill-opacity="0.85"/>
<circle cx="334.20" cy="337.37" r="1.6" fill="#d4708f" fill-opacity="0.85"/>
<circle cx="332.04" cy="380.52" r="1.6" fill="#d4708f" fill-opacity="0.85"/>
<circle cx="331.04" cy="365.11" r="1.6" fill="#d4708f" fill-opacity="0.85"/>
<circle cx="331.41" cy="383.74" r="1.6" fill="#d4708f" fill-opacity="0.85"/>
<circle cx="331.33" cy="339.75" r="1.6" fill="#d4708f" fill-opacity="0.85"/>
<circle cx="332.25" cy="365.40" r="1.6" fill="#d4708f" fill-opacity="0.85"/>
<circle cx="333.32" cy="388.94" r="1.6" fill="#d4708f" fill-opacity="0.85"/>
<circle cx="332.65" cy="362.32" r="1.6" fill="#d4708f" fill-opacity="0.85"/>
<circle cx="331.56" cy="351.86" r="1.6" fill="#d4708f" fill-opacity="0.85"/>
<circle cx="331.04" cy="367.67" r="1.6" fill="#d4708f" fill-opacity="0.85"/>
<circle cx="334.04" cy="349.75" r="1.6" fill="#d4708f" fill-opacity="0.85"/>
<circle cx="331.33" cy="365.15" r="1.6" fill="#d4708f" fill-opacity="0.85"/>
<circle cx="334.04" cy="374.91" r="1.6" fill="#d4708f" fill-opacity="0.85"/>
<circle cx="334.62" cy="385.42" r="1.6" fill="#d4708f" fill-opacity="0.85"/>
<circle cx="332.57" cy="330.25" r="1.6" fill="#d4708f" fill-opacity="0.85"/>
<circle cx="332.47" cy="395.96" r="1.6" fill="#d4708f" fill-opacity="0.85"/>
<circle cx="332.75" cy="367.58" r="1.6" fill="#d4708f" fill-opacity="0.85"/>
<circle cx="332.15" cy="346.35" r="1.6" fill="#d4708f" fill-opacity="0.85"/>
<circle cx="334.24" cy="351.31" r="1.6" fill="#d4708f" fill-opacity="0.85"/>
<circle cx="332.32" cy="355.48" r="1.6" fill="#d4708f" fill-opacity="0.85"/>
<circle cx="331.22" cy="380.33" r="1.6" fill="#d4708f" fill-opacity="0.85"/>
<circle cx="335.01" cy="353.91" r="1.6" fill="#d4708f" fill-opacity="0.85"/>
<circle cx="330.93" cy="363.44" r="1.6" fill="#d4708f" fill-opacity="0.85"/>
<circle cx="331.96" cy="392.46" r="1.6" fill="#d4708f" fill-opacity="0.85"/>
<circle cx="331.07" cy="334.32" r="1.6" fill="#d4708f" fill-opacity="0.85"/>
<circle cx="332.09" cy="361.44" r="1.6" fill="#d4708f" fill-opacity="0.85"/>
<circle cx="333.27" cy="359.45" r="1.6" fill="#d4708f" fill-opacity="0.85"/>
<circle cx="334.09" cy="332.30" r="1.6" fill="#d4708f" fill-opacity="0.85"/>
<circle cx="333.90" cy="344.20" r="1.6" fill="#d4708f" fill-opacity="0.85"/>
<circle cx="333.39" cy="365.86" r="1.6" fill="#d4708f" fill-opacity="0.85"/>
<circle cx="332.34" cy="350.19" r="1.6" fill="#d4708f" fill-opacity="0.85"/>
<circle cx="333.13" cy="346.42" r="1.6" fill="#d4708f" fill-opacity="0.85"/>
<circle cx="334.58" cy="335.00" r="1.6" fill="#d4708f" fill-opacity="0.85"/>
<circle cx="332.81" cy="351.73" r="1.6" fill="#d4708f" fill-opacity="0.85"/>
<circle cx="333.41" cy="349.41" r="1.6" fill="#d4708f" fill-opacity="0.85"/>
<circle cx="334.94" cy="341.68" r="1.6" fill="#d4708f" fill-opacity="0.85"/>
<circle cx="333.10" cy="385.33" r="1.6" fill="#d4708f" fill-opacity="0.85"/>
<circle cx="334.66" cy="362.28" r="1.6" fill="#d4708f" fill-opacity="0.85"/>
<circle cx="333.97" cy="365.04" r="1.6" fill="#d4708f" fill-opacity="0.85"/>
<circle cx="332.80" cy="354.59" r="1.6" fill="#d4708f" fill-opacity="0.85"/>
<circle cx="332.44" cy="358.77" r="1.6" fill="#d4708f" fill-opacity="0.85"/>
<circle cx="332.43" cy="387.91" r="1.6" fill="#d4708f" fill-opacity="0.85"/>
<circle cx="330.96" cy="394.19" r="1.6" fill="#d4708f" fill-opacity="0.85"/>
<circle cx="333.78" cy="366.77" r="1.6" fill="#d4708f" fill-opacity="0.85"/>
<circle cx="331.17" cy="352.50" r="1.6" fill="#d4708f" fill-opacity="0.85"/>
<circle cx="333.21" cy="359.81" r="1.6" fill="#d4708f" fill-opacity="0.85"/>
<circle cx="334.24" cy="357.60" r="1.6" fill="#d4708f" fill-opacity="0.85"/>
<circle cx="333.40" cy="350.69" r="1.6" fill="#d4708f" fill-opacity="0.85"/>
<circle cx="334.73" cy="395.23" r="1.6" fill="#d4708f" fill-opacity="0.85"/>
<circle cx="334.23" cy="353.73" r="1.6" fill="#d4708f" fill-opacity="0.85"/>
<circle cx="331.13" cy="336.41" r="1.6" fill="#d4708f" fill-opacity="0.85"/>
<circle cx="332.44" cy="370.40" r="1.6" fill="#d4708f" fill-opacity="0.85"/>
<circle cx="334.65" cy="339.34" r="1.6" fill="#d4708f" fill-opacity="0.85"/>
<circle cx="331.93" cy="328.09" r="1.6" fill="#d4708f" fill-opacity="0.85"/>
<circle cx="335.03" cy="360.84" r="1.6" fill="#d4708f" fill-opacity="0.85"/>
<circle cx="331.05" cy="370.24" r="1.6" fill="#d4708f" fill-opacity="0.85"/>
<circle cx="333.61" cy="340.84" r="1.6" fill="#d4708f" fill-opacity="0.85"/>
<circle cx="332.12" cy="373.09" r="1.6" fill="#d4708f" fill-opacity="0.85"/>
<circle cx="334.89" cy="380.31" r="1.6" fill="#d4708f" fill-opacity="0.85"/>
<circle cx="335.06" cy="352.24" r="1.6" fill="#d4708f" fill-opacity="0.85"/>
<circle cx="332.96" cy="351.65" r="1.6" fill="#d4708f" fill-opacity="0.85"/>
<circle cx="332.69" cy="365.61" r="1.6" fill="#d4708f" fill-opacity="0.85"/>
<circle cx="332.74" cy="351.07" r="1.6" fill="#d4708f" fill-opacity="0.85"/>
<circle cx="331.06" cy="370.90" r="1.6" fill="#d4708f" fill-opacity="0.85"/>
<circle cx="333.93" cy="328.89" r="1.6" fill="#d4708f" fill-opacity="0.85"/>
<circle cx="334.95" cy="371.41" r="1.6" fill="#d4708f" fill-opacity="0.85"/>
<circle cx="331.73" cy="391.41" r="1.6" fill="#d4708f" fill-opacity="0.85"/>
<circle cx="331.13" cy="350.37" r="1.6" fill="#d4708f" fill-opacity="0.85"/>
<circle cx="334.16" cy="347.13" r="1.6" fill="#d4708f" fill-opacity="0.85"/>
<circle cx="332.84" cy="381.94" r="1.6" fill="#d4708f" fill-opacity="0.85"/>
<circle cx="330.85" cy="322.24" r="1.6" fill="#d4708f" fill-opacity="0.85"/>
<circle cx="331.20" cy="391.07" r="1.6" fill="#d4708f" fill-opacity="0.85"/>
<circle cx="333.66" cy="350.20" r="1.6" fill="#d4708f" fill-opacity="0.85"/>
<circle cx="333.04" cy="351.66" r="1.6" fill="#d4708f" fill-opacity="0.85"/>
<line x1="332.80" y1="340.60" x2="332.80" y2="371.80" stroke="#444" stroke-width="2.2" stroke-linecap="butt"/>
<line x1="330.60" y1="340.60" x2="335.00" y2="340.60" stroke="#444" stroke-width="2" stroke-linecap="butt"/>
<line x1="330.60" y1="371.80" x2="335.00" y2="371.80" stroke="#444" stroke-width="2" stroke-linecap="butt"/>
<circle cx="332.80" cy="356.40" r="2.6" fill="#444"/>
<path d="M339.9 330.6 L344.4 330.6 L344.4 356.1 L339.9 356.1" fill="none" stroke="#111" stroke-width="1.2"/>
<text x="354.20" y="339.90" font-size="10.4" text-anchor="start" fill="#000"><tspan font-style="italic">p</tspan> &lt; 0.001,</text>
<text x="354.40" y="352.10" font-size="10.4" text-anchor="start" fill="#000">two-sided</text>
<text x="-1.20" y="447.70" font-size="20" text-anchor="start" fill="#000" font-weight="bold">D</text>
<line x1="60.40" y1="438.60" x2="60.40" y2="633.80" stroke="#262626" stroke-width="2.8" stroke-linecap="butt"/>
<line x1="51.10" y1="631.20" x2="60.40" y2="631.20" stroke="#262626" stroke-width="1.7" stroke-linecap="butt"/>
<text x="46.90" y="635.20" font-size="11.2" text-anchor="end" fill="#262626">0.0</text>
<line x1="51.10" y1="585.55" x2="60.40" y2="585.55" stroke="#262626" stroke-width="1.7" stroke-linecap="butt"/>
<line x1="51.10" y1="539.90" x2="60.40" y2="539.90" stroke="#262626" stroke-width="1.7" stroke-linecap="butt"/>
<text x="46.90" y="543.90" font-size="11.2" text-anchor="end" fill="#262626">0.5</text>
<line x1="51.10" y1="494.25" x2="60.40" y2="494.25" stroke="#262626" stroke-width="1.7" stroke-linecap="butt"/>
<line x1="51.10" y1="448.60" x2="60.40" y2="448.60" stroke="#262626" stroke-width="1.7" stroke-linecap="butt"/>
<text x="46.90" y="452.60" font-size="11.2" text-anchor="end" fill="#262626">1.0</text>
<text x="17.60" y="548.00" font-size="13.7" text-anchor="middle" fill="#262626" transform="rotate(-90 17.6 548)">Accuracy</text>
<path d="M100.40 440.50 C99.80 441.87 97.53 445.78 96.80 448.70 C96.07 451.62 96.00 454.50 96.00 458.00 C96.00 461.50 96.45 465.80 96.80 469.70 C97.15 473.60 97.80 477.50 98.10 481.40 C98.40 485.30 98.17 489.22 98.60 493.10 C99.03 496.98 99.93 500.82 100.70 504.70 C101.47 508.58 102.47 512.50 103.20 516.40 C103.93 520.30 104.62 524.20 105.10 528.10 C105.58 532.00 105.72 535.90 106.10 539.80 C106.48 543.70 106.98 547.62 107.40 551.50 C107.82 555.38 108.23 559.22 108.60 563.10 C108.97 566.98 109.38 572.48 109.60 574.80 C109.82 577.12 109.85 576.63 109.90 577.00 L110.10 577.00 C110.15 576.63 110.18 577.12 110.40 574.80 C110.62 572.48 111.03 566.98 111.40 563.10 C111.77 559.22 112.18 555.38 112.60 551.50 C113.02 547.62 113.52 543.70 113.90 539.80 C114.28 535.90 114.42 532.00 114.90 528.10 C115.38 524.20 116.07 520.30 116.80 516.40 C117.53 512.50 118.53 508.58 119.30 504.70 C120.07 500.82 120.97 496.98 121.40 493.10 C121.83 489.22 121.60 485.30 121.90 481.40 C122.20 477.50 122.85 473.60 123.20 469.70 C123.55 465.80 124.00 461.50 124.00 458.00 C124.00 454.50 123.93 451.62 123.20 448.70 C122.47 445.78 120.20 441.87 119.60 440.50 Z" fill="#93b0c4" stroke="#93b0c4" stroke-width="0.6" stroke-linejoin="round"/>
<path d="M132.50 440.50 C131.72 441.87 128.95 445.78 127.80 448.70 C126.65 451.62 126.08 454.50 125.60 458.00 C125.12 461.50 125.05 465.80 124.90 469.70 C124.75 473.60 124.78 477.50 124.70 481.40 C124.62 485.30 124.27 489.22 124.40 493.10 C124.53 496.98 124.78 500.82 125.50 504.70 C126.22 508.58 127.63 512.50 128.70 516.40 C129.77 520.30 130.98 524.20 131.90 528.10 C132.82 532.00 133.52 535.90 134.20 539.80 C134.88 543.70 135.48 548.38 136.00 551.50 C136.52 554.62 137.08 557.33 137.30 558.50 L137.70 558.50 C137.92 557.33 138.48 554.62 139.00 551.50 C139.52 548.38 140.12 543.70 140.80 539.80 C141.48 535.90 142.18 532.00 143.10 528.10 C144.02 524.20 145.23 520.30 146.30 516.40 C147.37 512.50 148.78 508.58 149.50 504.70 C150.22 500.82 150.47 496.98 150.60 493.10 C150.73 489.22 150.38 485.30 150.30 481.40 C150.22 477.50 150.25 473.60 150.10 469.70 C149.95 465.80 149.88 461.50 149.40 458.00 C148.92 454.50 148.35 451.62 147.20 448.70 C146.05 445.78 143.28 441.87 142.50 440.50 Z" fill="#e3e3e3" stroke="#e3e3e3" stroke-width="0.6" stroke-linejoin="round"/>
<path d="M158.30 440.50 C157.62 441.87 155.17 445.78 154.20 448.70 C153.23 451.62 152.75 454.50 152.50 458.00 C152.25 461.50 152.55 465.80 152.70 469.70 C152.85 473.60 153.08 477.50 153.40 481.40 C153.72 485.30 153.98 489.22 154.60 493.10 C155.22 496.98 156.25 500.82 157.10 504.70 C157.95 508.58 158.95 512.50 159.70 516.40 C160.45 520.30 161.12 524.20 161.60 528.10 C162.08 532.00 162.22 535.90 162.60 539.80 C162.98 543.70 163.48 548.58 163.90 551.50 C164.32 554.42 164.90 556.33 165.10 557.30 L165.50 557.30 C165.70 556.33 166.28 554.42 166.70 551.50 C167.12 548.58 167.62 543.70 168.00 539.80 C168.38 535.90 168.52 532.00 169.00 528.10 C169.48 524.20 170.15 520.30 170.90 516.40 C171.65 512.50 172.65 508.58 173.50 504.70 C174.35 500.82 175.38 496.98 176.00 493.10 C176.62 489.22 176.88 485.30 177.20 481.40 C177.52 477.50 177.75 473.60 177.90 469.70 C178.05 465.80 178.35 461.50 178.10 458.00 C177.85 454.50 177.37 451.62 176.40 448.70 C175.43 445.78 172.98 441.87 172.30 440.50 Z" fill="#f1caac" stroke="#f1caac" stroke-width="0.6" stroke-linejoin="round"/>
<path d="M186.40 440.50 C185.62 441.87 182.87 445.78 181.70 448.70 C180.53 451.62 179.77 454.50 179.40 458.00 C179.03 461.50 179.27 465.80 179.50 469.70 C179.73 473.60 180.33 477.50 180.80 481.40 C181.27 485.30 181.58 489.22 182.30 493.10 C183.02 496.98 184.28 500.82 185.10 504.70 C185.92 508.58 186.60 512.50 187.20 516.40 C187.80 520.30 188.30 524.20 188.70 528.10 C189.10 532.00 189.18 535.90 189.60 539.80 C190.02 543.70 190.70 548.58 191.20 551.50 C191.70 554.42 192.37 556.33 192.60 557.30 L193.00 557.30 C193.23 556.33 193.90 554.42 194.40 551.50 C194.90 548.58 195.58 543.70 196.00 539.80 C196.42 535.90 196.50 532.00 196.90 528.10 C197.30 524.20 197.80 520.30 198.40 516.40 C199.00 512.50 199.68 508.58 200.50 504.70 C201.32 500.82 202.58 496.98 203.30 493.10 C204.02 489.22 204.33 485.30 204.80 481.40 C205.27 477.50 205.87 473.60 206.10 469.70 C206.33 465.80 206.57 461.50 206.20 458.00 C205.83 454.50 205.07 451.62 203.90 448.70 C202.73 445.78 199.98 441.87 199.20 440.50 Z" fill="#e4bac6" stroke="#e4bac6" stroke-width="0.6" stroke-linejoin="round"/>
<path d="M241.90 440.00 C241.52 441.52 240.33 445.68 239.60 449.10 C238.87 452.52 238.07 456.22 237.50 460.50 C236.93 464.78 236.60 470.03 236.20 474.80 C235.80 479.57 235.43 484.35 235.10 489.10 C234.77 493.85 234.20 498.55 234.20 503.30 C234.20 508.05 234.48 512.83 235.10 517.60 C235.72 522.37 236.95 527.13 237.90 531.90 C238.85 536.67 239.98 541.45 240.80 546.20 C241.62 550.95 242.22 555.65 242.80 560.40 C243.38 565.15 243.83 569.93 244.30 574.70 C244.77 579.47 245.23 584.25 245.60 589.00 C245.97 593.75 246.27 598.45 246.50 603.20 C246.73 607.95 246.82 612.98 247.00 617.50 C247.18 622.02 247.50 628.17 247.60 630.30 L248.20 630.30 C248.30 628.17 248.62 622.02 248.80 617.50 C248.98 612.98 249.07 607.95 249.30 603.20 C249.53 598.45 249.83 593.75 250.20 589.00 C250.57 584.25 251.03 579.47 251.50 574.70 C251.97 569.93 252.42 565.15 253.00 560.40 C253.58 555.65 254.18 550.95 255.00 546.20 C255.82 541.45 256.95 536.67 257.90 531.90 C258.85 527.13 260.08 522.37 260.70 517.60 C261.32 512.83 261.60 508.05 261.60 503.30 C261.60 498.55 261.03 493.85 260.70 489.10 C260.37 484.35 260.00 479.57 259.60 474.80 C259.20 470.03 258.87 464.78 258.30 460.50 C257.73 456.22 256.93 452.52 256.20 449.10 C255.47 445.68 254.28 441.52 253.90 440.00 Z" fill="#93b0c4" stroke="#93b0c4" stroke-width="0.6" stroke-linejoin="round"/>
<path d="M326.50 440.00 C326.03 441.52 324.45 445.68 323.70 449.10 C322.95 452.52 322.55 456.22 322.00 460.50 C321.45 464.78 320.88 470.03 320.40 474.80 C319.92 479.57 319.43 484.35 319.10 489.10 C318.77 493.85 318.67 498.55 318.40 503.30 C318.13 508.05 317.65 512.83 317.50 517.60 C317.35 522.37 316.95 527.13 317.50 531.90 C318.05 536.67 319.42 541.45 320.80 546.20 C322.18 550.95 324.48 555.65 325.80 560.40 C327.12 565.15 328.10 569.93 328.70 574.70 C329.30 579.47 329.20 584.25 329.40 589.00 C329.60 593.75 329.70 598.92 329.90 603.20 C330.10 607.48 330.48 612.78 330.60 614.70 L331.00 614.70 C331.12 612.78 331.50 607.48 331.70 603.20 C331.90 598.92 332.00 593.75 332.20 589.00 C332.40 584.25 332.30 579.47 332.90 574.70 C333.50 569.93 334.48 565.15 335.80 560.40 C337.12 555.65 339.42 550.95 340.80 546.20 C342.18 541.45 343.55 536.67 344.10 531.90 C344.65 527.13 344.25 522.37 344.10 517.60 C343.95 512.83 343.47 508.05 343.20 503.30 C342.93 498.55 342.83 493.85 342.50 489.10 C342.17 484.35 341.68 479.57 341.20 474.80 C340.72 470.03 340.15 464.78 339.60 460.50 C339.05 456.22 338.65 452.52 337.90 449.10 C337.15 445.68 335.57 441.52 335.10 440.00 Z" fill="#e4bac6" stroke="#e4bac6" stroke-width="0.6" stroke-linejoin="round"/>
<circle cx="112.09" cy="459.73" r="1.8" fill="#3579a6" fill-opacity="0.8"/>
<circle cx="106.46" cy="515.17" r="1.8" fill="#3579a6" fill-opacity="0.8"/>
<circle cx="109.74" cy="508.63" r="1.8" fill="#3579a6" fill-opacity="0.8"/>
<circle cx="106.86" cy="490.81" r="1.8" fill="#3579a6" fill-opacity="0.8"/>
<circle cx="111.90" cy="464.20" r="1.8" fill="#3579a6" fill-opacity="0.8"/>
<circle cx="107.66" cy="527.81" r="1.8" fill="#3579a6" fill-opacity="0.8"/>
<circle cx="111.52" cy="529.71" r="1.8" fill="#3579a6" fill-opacity="0.8"/>
<circle cx="108.22" cy="494.52" r="1.8" fill="#3579a6" fill-opacity="0.8"/>
<circle cx="111.42" cy="493.70" r="1.8" fill="#3579a6" fill-opacity="0.8"/>
<circle cx="108.66" cy="466.03" r="1.8" fill="#3579a6" fill-opacity="0.8"/>
<circle cx="106.70" cy="448.68" r="1.8" fill="#3579a6" fill-opacity="0.8"/>
<circle cx="109.20" cy="479.27" r="1.8" fill="#3579a6" fill-opacity="0.8"/>
<circle cx="108.63" cy="502.83" r="1.8" fill="#3579a6" fill-opacity="0.8"/>
<circle cx="112.89" cy="452.36" r="1.8" fill="#3579a6" fill-opacity="0.8"/>
<circle cx="108.52" cy="527.95" r="1.8" fill="#3579a6" fill-opacity="0.8"/>
<circle cx="110.02" cy="465.68" r="1.8" fill="#3579a6" fill-opacity="0.8"/>
<circle cx="110.36" cy="465.72" r="1.8" fill="#3579a6" fill-opacity="0.8"/>
<circle cx="113.23" cy="450.63" r="1.8" fill="#3579a6" fill-opacity="0.8"/>
<circle cx="107.11" cy="554.19" r="1.8" fill="#3579a6" fill-opacity="0.8"/>
<circle cx="110.73" cy="521.13" r="1.8" fill="#3579a6" fill-opacity="0.8"/>
<circle cx="110.06" cy="538.23" r="1.8" fill="#3579a6" fill-opacity="0.8"/>
<circle cx="111.69" cy="506.38" r="1.8" fill="#3579a6" fill-opacity="0.8"/>
<circle cx="113.36" cy="450.15" r="1.8" fill="#3579a6" fill-opacity="0.8"/>
<circle cx="108.63" cy="474.98" r="1.8" fill="#3579a6" fill-opacity="0.8"/>
<circle cx="111.44" cy="492.86" r="1.8" fill="#3579a6" fill-opacity="0.8"/>
<circle cx="110.19" cy="455.76" r="1.8" fill="#3579a6" fill-opacity="0.8"/>
<circle cx="110.44" cy="548.19" r="1.8" fill="#3579a6" fill-opacity="0.8"/>
<circle cx="106.86" cy="479.00" r="1.8" fill="#3579a6" fill-opacity="0.8"/>
<circle cx="112.27" cy="458.88" r="1.8" fill="#3579a6" fill-opacity="0.8"/>
<circle cx="113.43" cy="530.93" r="1.8" fill="#3579a6" fill-opacity="0.8"/>
<circle cx="108.96" cy="456.46" r="1.8" fill="#3579a6" fill-opacity="0.8"/>
<circle cx="108.69" cy="545.06" r="1.8" fill="#3579a6" fill-opacity="0.8"/>
<circle cx="113.55" cy="487.97" r="1.8" fill="#3579a6" fill-opacity="0.8"/>
<circle cx="107.17" cy="498.99" r="1.8" fill="#3579a6" fill-opacity="0.8"/>
<circle cx="106.95" cy="476.39" r="1.8" fill="#3579a6" fill-opacity="0.8"/>
<circle cx="106.93" cy="491.43" r="1.8" fill="#3579a6" fill-opacity="0.8"/>
<circle cx="112.26" cy="461.62" r="1.8" fill="#3579a6" fill-opacity="0.8"/>
<circle cx="111.87" cy="450.33" r="1.8" fill="#3579a6" fill-opacity="0.8"/>
<circle cx="109.63" cy="537.06" r="1.8" fill="#3579a6" fill-opacity="0.8"/>
<circle cx="110.87" cy="465.92" r="1.8" fill="#3579a6" fill-opacity="0.8"/>
<circle cx="106.54" cy="526.27" r="1.8" fill="#3579a6" fill-opacity="0.8"/>
<circle cx="111.04" cy="463.53" r="1.8" fill="#3579a6" fill-opacity="0.8"/>
<circle cx="109.59" cy="550.39" r="1.8" fill="#3579a6" fill-opacity="0.8"/>
<circle cx="110.13" cy="540.66" r="1.8" fill="#3579a6" fill-opacity="0.8"/>
<circle cx="109.20" cy="523.11" r="1.8" fill="#3579a6" fill-opacity="0.8"/>
<circle cx="109.29" cy="524.10" r="1.8" fill="#3579a6" fill-opacity="0.8"/>
<circle cx="108.02" cy="502.29" r="1.8" fill="#3579a6" fill-opacity="0.8"/>
<circle cx="106.75" cy="520.03" r="1.8" fill="#3579a6" fill-opacity="0.8"/>
<circle cx="109.52" cy="456.27" r="1.8" fill="#3579a6" fill-opacity="0.8"/>
<circle cx="108.18" cy="490.51" r="1.8" fill="#3579a6" fill-opacity="0.8"/>
<circle cx="111.47" cy="532.13" r="1.8" fill="#3579a6" fill-opacity="0.8"/>
<circle cx="112.28" cy="462.86" r="1.8" fill="#3579a6" fill-opacity="0.8"/>
<circle cx="111.61" cy="544.44" r="1.8" fill="#3579a6" fill-opacity="0.8"/>
<circle cx="109.68" cy="539.84" r="1.8" fill="#3579a6" fill-opacity="0.8"/>
<circle cx="108.10" cy="483.30" r="1.8" fill="#3579a6" fill-opacity="0.8"/>
<circle cx="109.17" cy="478.67" r="1.8" fill="#3579a6" fill-opacity="0.8"/>
<circle cx="109.90" cy="487.78" r="1.8" fill="#3579a6" fill-opacity="0.8"/>
<circle cx="110.95" cy="480.80" r="1.8" fill="#3579a6" fill-opacity="0.8"/>
<circle cx="113.33" cy="553.83" r="1.8" fill="#3579a6" fill-opacity="0.8"/>
<circle cx="107.01" cy="480.88" r="1.8" fill="#3579a6" fill-opacity="0.8"/>
<circle cx="109.85" cy="449.75" r="1.8" fill="#3579a6" fill-opacity="0.8"/>
<circle cx="109.94" cy="454.06" r="1.8" fill="#3579a6" fill-opacity="0.8"/>
<circle cx="111.56" cy="518.61" r="1.8" fill="#3579a6" fill-opacity="0.8"/>
<circle cx="112.81" cy="553.56" r="1.8" fill="#3579a6" fill-opacity="0.8"/>
<circle cx="112.01" cy="492.69" r="1.8" fill="#3579a6" fill-opacity="0.8"/>
<circle cx="110.91" cy="492.19" r="1.8" fill="#3579a6" fill-opacity="0.8"/>
<circle cx="111.86" cy="498.81" r="1.8" fill="#3579a6" fill-opacity="0.8"/>
<circle cx="111.21" cy="522.29" r="1.8" fill="#3579a6" fill-opacity="0.8"/>
<circle cx="112.58" cy="464.74" r="1.8" fill="#3579a6" fill-opacity="0.8"/>
<circle cx="111.43" cy="505.57" r="1.8" fill="#3579a6" fill-opacity="0.8"/>
<circle cx="111.32" cy="499.50" r="1.8" fill="#3579a6" fill-opacity="0.8"/>
<circle cx="108.17" cy="507.17" r="1.8" fill="#3579a6" fill-opacity="0.8"/>
<circle cx="113.00" cy="461.08" r="1.8" fill="#3579a6" fill-opacity="0.8"/>
<circle cx="109.18" cy="460.17" r="1.8" fill="#3579a6" fill-opacity="0.8"/>
<circle cx="110.83" cy="476.93" r="1.8" fill="#3579a6" fill-opacity="0.8"/>
<circle cx="112.34" cy="544.94" r="1.8" fill="#3579a6" fill-opacity="0.8"/>
<circle cx="113.34" cy="476.77" r="1.8" fill="#3579a6" fill-opacity="0.8"/>
<circle cx="113.52" cy="504.20" r="1.8" fill="#3579a6" fill-opacity="0.8"/>
<circle cx="106.45" cy="472.76" r="1.8" fill="#3579a6" fill-opacity="0.8"/>
<circle cx="108.65" cy="454.80" r="1.8" fill="#3579a6" fill-opacity="0.8"/>
<circle cx="108.64" cy="452.12" r="1.8" fill="#3579a6" fill-opacity="0.8"/>
<circle cx="109.22" cy="530.45" r="1.8" fill="#3579a6" fill-opacity="0.8"/>
<circle cx="107.45" cy="525.86" r="1.8" fill="#3579a6" fill-opacity="0.8"/>
<circle cx="110.38" cy="479.67" r="1.8" fill="#3579a6" fill-opacity="0.8"/>
<circle cx="106.97" cy="514.40" r="1.8" fill="#3579a6" fill-opacity="0.8"/>
<circle cx="108.58" cy="513.51" r="1.8" fill="#3579a6" fill-opacity="0.8"/>
<circle cx="113.19" cy="541.27" r="1.8" fill="#3579a6" fill-opacity="0.8"/>
<circle cx="111.74" cy="549.01" r="1.8" fill="#3579a6" fill-opacity="0.8"/>
<circle cx="109.73" cy="483.03" r="1.8" fill="#3579a6" fill-opacity="0.8"/>
<circle cx="107.18" cy="553.07" r="1.8" fill="#3579a6" fill-opacity="0.8"/>
<circle cx="113.28" cy="549.43" r="1.8" fill="#3579a6" fill-opacity="0.8"/>
<circle cx="111.47" cy="503.42" r="1.8" fill="#3579a6" fill-opacity="0.8"/>
<circle cx="107.88" cy="539.27" r="1.8" fill="#3579a6" fill-opacity="0.8"/>
<circle cx="108.81" cy="492.12" r="1.8" fill="#3579a6" fill-opacity="0.8"/>
<circle cx="111.02" cy="479.74" r="1.8" fill="#3579a6" fill-opacity="0.8"/>
<circle cx="111.31" cy="467.06" r="1.8" fill="#3579a6" fill-opacity="0.8"/>
<circle cx="108.28" cy="538.37" r="1.8" fill="#3579a6" fill-opacity="0.8"/>
<circle cx="113.25" cy="459.51" r="1.8" fill="#3579a6" fill-opacity="0.8"/>
<circle cx="108.72" cy="452.37" r="1.8" fill="#3579a6" fill-opacity="0.8"/>
<circle cx="108.23" cy="529.39" r="1.8" fill="#3579a6" fill-opacity="0.8"/>
<circle cx="112.49" cy="525.48" r="1.8" fill="#3579a6" fill-opacity="0.8"/>
<circle cx="107.50" cy="491.26" r="1.8" fill="#3579a6" fill-opacity="0.8"/>
<circle cx="111.30" cy="533.39" r="1.8" fill="#3579a6" fill-opacity="0.8"/>
<circle cx="107.84" cy="451.24" r="1.8" fill="#3579a6" fill-opacity="0.8"/>
<circle cx="110.71" cy="468.07" r="1.8" fill="#3579a6" fill-opacity="0.8"/>
<circle cx="108.40" cy="471.13" r="1.8" fill="#3579a6" fill-opacity="0.8"/>
<circle cx="109.13" cy="484.36" r="1.8" fill="#3579a6" fill-opacity="0.8"/>
<circle cx="113.17" cy="460.21" r="1.8" fill="#3579a6" fill-opacity="0.8"/>
<circle cx="109.76" cy="452.38" r="1.8" fill="#3579a6" fill-opacity="0.8"/>
<circle cx="109.55" cy="475.90" r="1.8" fill="#3579a6" fill-opacity="0.8"/>
<circle cx="110.84" cy="541.33" r="1.8" fill="#3579a6" fill-opacity="0.8"/>
<circle cx="108.42" cy="552.32" r="1.8" fill="#3579a6" fill-opacity="0.8"/>
<circle cx="107.66" cy="522.01" r="1.8" fill="#3579a6" fill-opacity="0.8"/>
<circle cx="109.17" cy="490.80" r="1.8" fill="#3579a6" fill-opacity="0.8"/>
<circle cx="108.36" cy="467.53" r="1.8" fill="#3579a6" fill-opacity="0.8"/>
<circle cx="107.76" cy="549.09" r="1.8" fill="#3579a6" fill-opacity="0.8"/>
<circle cx="113.32" cy="496.00" r="1.8" fill="#3579a6" fill-opacity="0.8"/>
<circle cx="106.65" cy="519.89" r="1.8" fill="#3579a6" fill-opacity="0.8"/>
<circle cx="112.24" cy="449.83" r="1.8" fill="#3579a6" fill-opacity="0.8"/>
<circle cx="113.13" cy="463.84" r="1.8" fill="#3579a6" fill-opacity="0.8"/>
<circle cx="111.47" cy="533.55" r="1.8" fill="#3579a6" fill-opacity="0.8"/>
<circle cx="106.54" cy="528.13" r="1.8" fill="#3579a6" fill-opacity="0.8"/>
<circle cx="110.01" cy="539.05" r="1.8" fill="#3579a6" fill-opacity="0.8"/>
<circle cx="106.68" cy="504.68" r="1.8" fill="#3579a6" fill-opacity="0.8"/>
<circle cx="110.78" cy="485.06" r="1.8" fill="#3579a6" fill-opacity="0.8"/>
<circle cx="111.44" cy="502.34" r="1.8" fill="#3579a6" fill-opacity="0.8"/>
<circle cx="108.13" cy="534.95" r="1.8" fill="#3579a6" fill-opacity="0.8"/>
<circle cx="106.45" cy="472.90" r="1.8" fill="#3579a6" fill-opacity="0.8"/>
<circle cx="110.32" cy="496.98" r="1.8" fill="#3579a6" fill-opacity="0.8"/>
<circle cx="107.08" cy="469.79" r="1.8" fill="#3579a6" fill-opacity="0.8"/>
<circle cx="108.62" cy="524.77" r="1.8" fill="#3579a6" fill-opacity="0.8"/>
<circle cx="109.67" cy="448.94" r="1.8" fill="#3579a6" fill-opacity="0.8"/>
<circle cx="112.84" cy="514.64" r="1.8" fill="#3579a6" fill-opacity="0.8"/>
<circle cx="109.06" cy="548.45" r="1.8" fill="#3579a6" fill-opacity="0.8"/>
<circle cx="107.37" cy="449.57" r="1.8" fill="#3579a6" fill-opacity="0.8"/>
<circle cx="112.10" cy="503.79" r="1.8" fill="#3579a6" fill-opacity="0.8"/>
<circle cx="112.32" cy="509.68" r="1.8" fill="#3579a6" fill-opacity="0.8"/>
<circle cx="110.21" cy="535.25" r="1.8" fill="#3579a6" fill-opacity="0.8"/>
<circle cx="106.75" cy="502.71" r="1.8" fill="#3579a6" fill-opacity="0.8"/>
<circle cx="107.75" cy="468.00" r="1.8" fill="#3579a6" fill-opacity="0.8"/>
<circle cx="109.30" cy="482.88" r="1.8" fill="#3579a6" fill-opacity="0.8"/>
<circle cx="110.37" cy="549.07" r="1.8" fill="#3579a6" fill-opacity="0.8"/>
<circle cx="108.02" cy="542.16" r="1.8" fill="#3579a6" fill-opacity="0.8"/>
<circle cx="112.18" cy="457.15" r="1.8" fill="#3579a6" fill-opacity="0.8"/>
<circle cx="112.47" cy="454.17" r="1.8" fill="#3579a6" fill-opacity="0.8"/>
<circle cx="113.06" cy="454.11" r="1.8" fill="#3579a6" fill-opacity="0.8"/>
<circle cx="112.76" cy="449.67" r="1.8" fill="#3579a6" fill-opacity="0.8"/>
<circle cx="106.53" cy="487.29" r="1.8" fill="#3579a6" fill-opacity="0.8"/>
<circle cx="110.59" cy="457.74" r="1.8" fill="#3579a6" fill-opacity="0.8"/>
<circle cx="106.98" cy="537.25" r="1.8" fill="#3579a6" fill-opacity="0.8"/>
<circle cx="112.88" cy="511.05" r="1.8" fill="#3579a6" fill-opacity="0.8"/>
<circle cx="111.78" cy="456.59" r="1.8" fill="#3579a6" fill-opacity="0.8"/>
<circle cx="111.87" cy="497.47" r="1.8" fill="#3579a6" fill-opacity="0.8"/>
<circle cx="107.76" cy="474.52" r="1.8" fill="#3579a6" fill-opacity="0.8"/>
<circle cx="106.83" cy="492.45" r="1.8" fill="#3579a6" fill-opacity="0.8"/>
<circle cx="112.27" cy="464.52" r="1.8" fill="#3579a6" fill-opacity="0.8"/>
<circle cx="110.77" cy="459.83" r="1.8" fill="#3579a6" fill-opacity="0.8"/>
<circle cx="110.87" cy="461.36" r="1.8" fill="#3579a6" fill-opacity="0.8"/>
<circle cx="109.79" cy="479.97" r="1.8" fill="#3579a6" fill-opacity="0.8"/>
<circle cx="112.16" cy="517.62" r="1.8" fill="#3579a6" fill-opacity="0.8"/>
<circle cx="108.83" cy="498.77" r="1.8" fill="#3579a6" fill-opacity="0.8"/>
<circle cx="108.34" cy="450.87" r="1.8" fill="#3579a6" fill-opacity="0.8"/>
<circle cx="108.94" cy="517.73" r="1.8" fill="#3579a6" fill-opacity="0.8"/>
<circle cx="108.55" cy="538.08" r="1.8" fill="#3579a6" fill-opacity="0.8"/>
<circle cx="110.92" cy="525.52" r="1.8" fill="#3579a6" fill-opacity="0.8"/>
<circle cx="138.48" cy="528.00" r="1.8" fill="#cbcbcb" fill-opacity="0.8"/>
<circle cx="136.53" cy="452.42" r="1.8" fill="#cbcbcb" fill-opacity="0.8"/>
<circle cx="136.39" cy="452.20" r="1.8" fill="#cbcbcb" fill-opacity="0.8"/>
<circle cx="139.34" cy="489.46" r="1.8" fill="#cbcbcb" fill-opacity="0.8"/>
<circle cx="138.48" cy="505.87" r="1.8" fill="#cbcbcb" fill-opacity="0.8"/>
<circle cx="137.19" cy="461.03" r="1.8" fill="#cbcbcb" fill-opacity="0.8"/>
<circle cx="137.60" cy="467.56" r="1.8" fill="#cbcbcb" fill-opacity="0.8"/>
<circle cx="135.51" cy="451.64" r="1.8" fill="#cbcbcb" fill-opacity="0.8"/>
<circle cx="139.58" cy="450.36" r="1.8" fill="#cbcbcb" fill-opacity="0.8"/>
<circle cx="134.04" cy="487.87" r="1.8" fill="#cbcbcb" fill-opacity="0.8"/>
<circle cx="138.53" cy="506.15" r="1.8" fill="#cbcbcb" fill-opacity="0.8"/>
<circle cx="137.18" cy="503.37" r="1.8" fill="#cbcbcb" fill-opacity="0.8"/>
<circle cx="135.49" cy="458.59" r="1.8" fill="#cbcbcb" fill-opacity="0.8"/>
<circle cx="138.12" cy="454.65" r="1.8" fill="#cbcbcb" fill-opacity="0.8"/>
<circle cx="138.10" cy="532.38" r="1.8" fill="#cbcbcb" fill-opacity="0.8"/>
<circle cx="134.52" cy="492.05" r="1.8" fill="#cbcbcb" fill-opacity="0.8"/>
<circle cx="137.43" cy="479.77" r="1.8" fill="#cbcbcb" fill-opacity="0.8"/>
<circle cx="135.09" cy="507.18" r="1.8" fill="#cbcbcb" fill-opacity="0.8"/>
<circle cx="139.65" cy="510.96" r="1.8" fill="#cbcbcb" fill-opacity="0.8"/>
<circle cx="136.25" cy="490.70" r="1.8" fill="#cbcbcb" fill-opacity="0.8"/>
<circle cx="136.26" cy="452.90" r="1.8" fill="#cbcbcb" fill-opacity="0.8"/>
<circle cx="135.45" cy="521.32" r="1.8" fill="#cbcbcb" fill-opacity="0.8"/>
<circle cx="134.25" cy="462.93" r="1.8" fill="#cbcbcb" fill-opacity="0.8"/>
<circle cx="135.24" cy="450.55" r="1.8" fill="#cbcbcb" fill-opacity="0.8"/>
<circle cx="134.99" cy="474.71" r="1.8" fill="#cbcbcb" fill-opacity="0.8"/>
<circle cx="138.39" cy="491.47" r="1.8" fill="#cbcbcb" fill-opacity="0.8"/>
<circle cx="140.00" cy="500.86" r="1.8" fill="#cbcbcb" fill-opacity="0.8"/>
<circle cx="135.49" cy="459.80" r="1.8" fill="#cbcbcb" fill-opacity="0.8"/>
<circle cx="134.70" cy="509.09" r="1.8" fill="#cbcbcb" fill-opacity="0.8"/>
<circle cx="137.75" cy="487.75" r="1.8" fill="#cbcbcb" fill-opacity="0.8"/>
<circle cx="134.73" cy="458.88" r="1.8" fill="#cbcbcb" fill-opacity="0.8"/>
<circle cx="136.82" cy="523.82" r="1.8" fill="#cbcbcb" fill-opacity="0.8"/>
<circle cx="139.38" cy="519.16" r="1.8" fill="#cbcbcb" fill-opacity="0.8"/>
<circle cx="135.36" cy="529.74" r="1.8" fill="#cbcbcb" fill-opacity="0.8"/>
<circle cx="138.94" cy="506.02" r="1.8" fill="#cbcbcb" fill-opacity="0.8"/>
<circle cx="137.78" cy="463.22" r="1.8" fill="#cbcbcb" fill-opacity="0.8"/>
<circle cx="134.51" cy="516.12" r="1.8" fill="#cbcbcb" fill-opacity="0.8"/>
<circle cx="135.65" cy="529.35" r="1.8" fill="#cbcbcb" fill-opacity="0.8"/>
<circle cx="138.22" cy="491.53" r="1.8" fill="#cbcbcb" fill-opacity="0.8"/>
<circle cx="134.59" cy="529.97" r="1.8" fill="#cbcbcb" fill-opacity="0.8"/>
<circle cx="135.37" cy="536.64" r="1.8" fill="#cbcbcb" fill-opacity="0.8"/>
<circle cx="138.05" cy="478.11" r="1.8" fill="#cbcbcb" fill-opacity="0.8"/>
<circle cx="139.79" cy="533.56" r="1.8" fill="#cbcbcb" fill-opacity="0.8"/>
<circle cx="137.65" cy="533.02" r="1.8" fill="#cbcbcb" fill-opacity="0.8"/>
<circle cx="138.68" cy="517.81" r="1.8" fill="#cbcbcb" fill-opacity="0.8"/>
<circle cx="133.97" cy="449.02" r="1.8" fill="#cbcbcb" fill-opacity="0.8"/>
<circle cx="136.08" cy="474.67" r="1.8" fill="#cbcbcb" fill-opacity="0.8"/>
<circle cx="136.19" cy="499.41" r="1.8" fill="#cbcbcb" fill-opacity="0.8"/>
<circle cx="140.48" cy="498.77" r="1.8" fill="#cbcbcb" fill-opacity="0.8"/>
<circle cx="136.47" cy="513.83" r="1.8" fill="#cbcbcb" fill-opacity="0.8"/>
<circle cx="139.55" cy="502.73" r="1.8" fill="#cbcbcb" fill-opacity="0.8"/>
<circle cx="134.15" cy="458.84" r="1.8" fill="#cbcbcb" fill-opacity="0.8"/>
<circle cx="137.49" cy="532.37" r="1.8" fill="#cbcbcb" fill-opacity="0.8"/>
<circle cx="140.32" cy="491.82" r="1.8" fill="#cbcbcb" fill-opacity="0.8"/>
<circle cx="139.45" cy="527.10" r="1.8" fill="#cbcbcb" fill-opacity="0.8"/>
<circle cx="138.07" cy="462.38" r="1.8" fill="#cbcbcb" fill-opacity="0.8"/>
<circle cx="135.21" cy="539.69" r="1.8" fill="#cbcbcb" fill-opacity="0.8"/>
<circle cx="140.57" cy="493.63" r="1.8" fill="#cbcbcb" fill-opacity="0.8"/>
<circle cx="134.47" cy="515.90" r="1.8" fill="#cbcbcb" fill-opacity="0.8"/>
<circle cx="140.85" cy="512.21" r="1.8" fill="#cbcbcb" fill-opacity="0.8"/>
<circle cx="139.49" cy="527.21" r="1.8" fill="#cbcbcb" fill-opacity="0.8"/>
<circle cx="139.08" cy="475.60" r="1.8" fill="#cbcbcb" fill-opacity="0.8"/>
<circle cx="137.72" cy="453.19" r="1.8" fill="#cbcbcb" fill-opacity="0.8"/>
<circle cx="135.08" cy="479.51" r="1.8" fill="#cbcbcb" fill-opacity="0.8"/>
<circle cx="136.35" cy="460.13" r="1.8" fill="#cbcbcb" fill-opacity="0.8"/>
<circle cx="138.68" cy="492.17" r="1.8" fill="#cbcbcb" fill-opacity="0.8"/>
<circle cx="138.62" cy="520.02" r="1.8" fill="#cbcbcb" fill-opacity="0.8"/>
<circle cx="136.70" cy="475.59" r="1.8" fill="#cbcbcb" fill-opacity="0.8"/>
<circle cx="139.67" cy="456.57" r="1.8" fill="#cbcbcb" fill-opacity="0.8"/>
<circle cx="134.28" cy="449.80" r="1.8" fill="#cbcbcb" fill-opacity="0.8"/>
<circle cx="135.97" cy="481.11" r="1.8" fill="#cbcbcb" fill-opacity="0.8"/>
<circle cx="134.55" cy="496.13" r="1.8" fill="#cbcbcb" fill-opacity="0.8"/>
<circle cx="136.24" cy="449.76" r="1.8" fill="#cbcbcb" fill-opacity="0.8"/>
<circle cx="139.61" cy="504.60" r="1.8" fill="#cbcbcb" fill-opacity="0.8"/>
<circle cx="139.32" cy="462.70" r="1.8" fill="#cbcbcb" fill-opacity="0.8"/>
<circle cx="134.98" cy="454.85" r="1.8" fill="#cbcbcb" fill-opacity="0.8"/>
<circle cx="136.12" cy="532.04" r="1.8" fill="#cbcbcb" fill-opacity="0.8"/>
<circle cx="134.71" cy="490.55" r="1.8" fill="#cbcbcb" fill-opacity="0.8"/>
<circle cx="138.67" cy="528.53" r="1.8" fill="#cbcbcb" fill-opacity="0.8"/>
<circle cx="137.09" cy="489.67" r="1.8" fill="#cbcbcb" fill-opacity="0.8"/>
<circle cx="135.57" cy="455.97" r="1.8" fill="#cbcbcb" fill-opacity="0.8"/>
<circle cx="136.59" cy="465.08" r="1.8" fill="#cbcbcb" fill-opacity="0.8"/>
<circle cx="140.13" cy="481.23" r="1.8" fill="#cbcbcb" fill-opacity="0.8"/>
<circle cx="136.96" cy="502.13" r="1.8" fill="#cbcbcb" fill-opacity="0.8"/>
<circle cx="138.87" cy="515.41" r="1.8" fill="#cbcbcb" fill-opacity="0.8"/>
<circle cx="138.42" cy="513.39" r="1.8" fill="#cbcbcb" fill-opacity="0.8"/>
<circle cx="137.31" cy="503.12" r="1.8" fill="#cbcbcb" fill-opacity="0.8"/>
<circle cx="137.91" cy="466.14" r="1.8" fill="#cbcbcb" fill-opacity="0.8"/>
<circle cx="136.52" cy="481.77" r="1.8" fill="#cbcbcb" fill-opacity="0.8"/>
<circle cx="135.33" cy="477.01" r="1.8" fill="#cbcbcb" fill-opacity="0.8"/>
<circle cx="137.46" cy="487.35" r="1.8" fill="#cbcbcb" fill-opacity="0.8"/>
<circle cx="136.09" cy="467.19" r="1.8" fill="#cbcbcb" fill-opacity="0.8"/>
<circle cx="136.28" cy="491.97" r="1.8" fill="#cbcbcb" fill-opacity="0.8"/>
<circle cx="135.24" cy="484.44" r="1.8" fill="#cbcbcb" fill-opacity="0.8"/>
<circle cx="140.48" cy="450.27" r="1.8" fill="#cbcbcb" fill-opacity="0.8"/>
<circle cx="136.96" cy="520.86" r="1.8" fill="#cbcbcb" fill-opacity="0.8"/>
<circle cx="135.34" cy="496.72" r="1.8" fill="#cbcbcb" fill-opacity="0.8"/>
<circle cx="134.13" cy="518.74" r="1.8" fill="#cbcbcb" fill-opacity="0.8"/>
<circle cx="135.44" cy="511.86" r="1.8" fill="#cbcbcb" fill-opacity="0.8"/>
<circle cx="140.15" cy="511.27" r="1.8" fill="#cbcbcb" fill-opacity="0.8"/>
<circle cx="136.33" cy="539.18" r="1.8" fill="#cbcbcb" fill-opacity="0.8"/>
<circle cx="138.70" cy="476.91" r="1.8" fill="#cbcbcb" fill-opacity="0.8"/>
<circle cx="135.56" cy="478.42" r="1.8" fill="#cbcbcb" fill-opacity="0.8"/>
<circle cx="138.58" cy="448.71" r="1.8" fill="#cbcbcb" fill-opacity="0.8"/>
<circle cx="137.14" cy="504.49" r="1.8" fill="#cbcbcb" fill-opacity="0.8"/>
<circle cx="139.20" cy="496.23" r="1.8" fill="#cbcbcb" fill-opacity="0.8"/>
<circle cx="137.70" cy="495.74" r="1.8" fill="#cbcbcb" fill-opacity="0.8"/>
<circle cx="136.60" cy="539.64" r="1.8" fill="#cbcbcb" fill-opacity="0.8"/>
<circle cx="135.92" cy="461.59" r="1.8" fill="#cbcbcb" fill-opacity="0.8"/>
<circle cx="138.18" cy="464.03" r="1.8" fill="#cbcbcb" fill-opacity="0.8"/>
<circle cx="139.89" cy="511.61" r="1.8" fill="#cbcbcb" fill-opacity="0.8"/>
<circle cx="138.88" cy="519.75" r="1.8" fill="#cbcbcb" fill-opacity="0.8"/>
<circle cx="137.36" cy="486.71" r="1.8" fill="#cbcbcb" fill-opacity="0.8"/>
<circle cx="136.27" cy="451.41" r="1.8" fill="#cbcbcb" fill-opacity="0.8"/>
<circle cx="140.32" cy="476.33" r="1.8" fill="#cbcbcb" fill-opacity="0.8"/>
<circle cx="139.99" cy="521.22" r="1.8" fill="#cbcbcb" fill-opacity="0.8"/>
<circle cx="134.95" cy="488.32" r="1.8" fill="#cbcbcb" fill-opacity="0.8"/>
<circle cx="138.79" cy="484.70" r="1.8" fill="#cbcbcb" fill-opacity="0.8"/>
<circle cx="139.46" cy="478.05" r="1.8" fill="#cbcbcb" fill-opacity="0.8"/>
<circle cx="138.77" cy="500.89" r="1.8" fill="#cbcbcb" fill-opacity="0.8"/>
<circle cx="140.84" cy="497.91" r="1.8" fill="#cbcbcb" fill-opacity="0.8"/>
<circle cx="140.23" cy="507.40" r="1.8" fill="#cbcbcb" fill-opacity="0.8"/>
<circle cx="135.67" cy="525.35" r="1.8" fill="#cbcbcb" fill-opacity="0.8"/>
<circle cx="141.08" cy="513.38" r="1.8" fill="#cbcbcb" fill-opacity="0.8"/>
<circle cx="136.26" cy="476.73" r="1.8" fill="#cbcbcb" fill-opacity="0.8"/>
<circle cx="136.63" cy="465.93" r="1.8" fill="#cbcbcb" fill-opacity="0.8"/>
<circle cx="140.93" cy="516.56" r="1.8" fill="#cbcbcb" fill-opacity="0.8"/>
<circle cx="135.10" cy="517.71" r="1.8" fill="#cbcbcb" fill-opacity="0.8"/>
<circle cx="136.75" cy="532.09" r="1.8" fill="#cbcbcb" fill-opacity="0.8"/>
<circle cx="138.41" cy="461.74" r="1.8" fill="#cbcbcb" fill-opacity="0.8"/>
<circle cx="135.86" cy="523.48" r="1.8" fill="#cbcbcb" fill-opacity="0.8"/>
<circle cx="135.82" cy="528.05" r="1.8" fill="#cbcbcb" fill-opacity="0.8"/>
<circle cx="139.62" cy="452.82" r="1.8" fill="#cbcbcb" fill-opacity="0.8"/>
<circle cx="138.31" cy="470.82" r="1.8" fill="#cbcbcb" fill-opacity="0.8"/>
<circle cx="139.26" cy="501.41" r="1.8" fill="#cbcbcb" fill-opacity="0.8"/>
<circle cx="139.59" cy="457.68" r="1.8" fill="#cbcbcb" fill-opacity="0.8"/>
<circle cx="140.18" cy="521.73" r="1.8" fill="#cbcbcb" fill-opacity="0.8"/>
<circle cx="140.33" cy="467.14" r="1.8" fill="#cbcbcb" fill-opacity="0.8"/>
<circle cx="139.83" cy="506.31" r="1.8" fill="#cbcbcb" fill-opacity="0.8"/>
<circle cx="140.94" cy="469.77" r="1.8" fill="#cbcbcb" fill-opacity="0.8"/>
<circle cx="137.50" cy="463.29" r="1.8" fill="#cbcbcb" fill-opacity="0.8"/>
<circle cx="138.95" cy="462.39" r="1.8" fill="#cbcbcb" fill-opacity="0.8"/>
<circle cx="137.60" cy="488.11" r="1.8" fill="#cbcbcb" fill-opacity="0.8"/>
<circle cx="140.88" cy="509.44" r="1.8" fill="#cbcbcb" fill-opacity="0.8"/>
<circle cx="138.62" cy="463.27" r="1.8" fill="#cbcbcb" fill-opacity="0.8"/>
<circle cx="137.00" cy="506.73" r="1.8" fill="#cbcbcb" fill-opacity="0.8"/>
<circle cx="138.68" cy="473.19" r="1.8" fill="#cbcbcb" fill-opacity="0.8"/>
<circle cx="136.02" cy="502.97" r="1.8" fill="#cbcbcb" fill-opacity="0.8"/>
<circle cx="134.83" cy="476.13" r="1.8" fill="#cbcbcb" fill-opacity="0.8"/>
<circle cx="136.68" cy="461.30" r="1.8" fill="#cbcbcb" fill-opacity="0.8"/>
<circle cx="134.89" cy="457.30" r="1.8" fill="#cbcbcb" fill-opacity="0.8"/>
<circle cx="133.93" cy="451.58" r="1.8" fill="#cbcbcb" fill-opacity="0.8"/>
<circle cx="134.57" cy="507.74" r="1.8" fill="#cbcbcb" fill-opacity="0.8"/>
<circle cx="137.17" cy="480.26" r="1.8" fill="#cbcbcb" fill-opacity="0.8"/>
<circle cx="139.40" cy="456.00" r="1.8" fill="#cbcbcb" fill-opacity="0.8"/>
<circle cx="134.25" cy="526.98" r="1.8" fill="#cbcbcb" fill-opacity="0.8"/>
<circle cx="138.48" cy="503.53" r="1.8" fill="#cbcbcb" fill-opacity="0.8"/>
<circle cx="134.70" cy="449.49" r="1.8" fill="#cbcbcb" fill-opacity="0.8"/>
<circle cx="137.57" cy="510.64" r="1.8" fill="#cbcbcb" fill-opacity="0.8"/>
<circle cx="136.03" cy="497.53" r="1.8" fill="#cbcbcb" fill-opacity="0.8"/>
<circle cx="137.11" cy="483.04" r="1.8" fill="#cbcbcb" fill-opacity="0.8"/>
<circle cx="139.03" cy="488.40" r="1.8" fill="#cbcbcb" fill-opacity="0.8"/>
<circle cx="136.88" cy="535.78" r="1.8" fill="#cbcbcb" fill-opacity="0.8"/>
<circle cx="136.72" cy="476.64" r="1.8" fill="#cbcbcb" fill-opacity="0.8"/>
<circle cx="139.15" cy="501.66" r="1.8" fill="#cbcbcb" fill-opacity="0.8"/>
<circle cx="164.16" cy="454.36" r="1.8" fill="#ee9c5e" fill-opacity="0.8"/>
<circle cx="164.78" cy="472.76" r="1.8" fill="#ee9c5e" fill-opacity="0.8"/>
<circle cx="162.11" cy="508.52" r="1.8" fill="#ee9c5e" fill-opacity="0.8"/>
<circle cx="166.59" cy="523.70" r="1.8" fill="#ee9c5e" fill-opacity="0.8"/>
<circle cx="168.59" cy="541.02" r="1.8" fill="#ee9c5e" fill-opacity="0.8"/>
<circle cx="163.39" cy="464.85" r="1.8" fill="#ee9c5e" fill-opacity="0.8"/>
<circle cx="163.04" cy="500.16" r="1.8" fill="#ee9c5e" fill-opacity="0.8"/>
<circle cx="164.11" cy="469.54" r="1.8" fill="#ee9c5e" fill-opacity="0.8"/>
<circle cx="167.43" cy="508.53" r="1.8" fill="#ee9c5e" fill-opacity="0.8"/>
<circle cx="163.33" cy="525.02" r="1.8" fill="#ee9c5e" fill-opacity="0.8"/>
<circle cx="167.25" cy="455.64" r="1.8" fill="#ee9c5e" fill-opacity="0.8"/>
<circle cx="162.94" cy="472.41" r="1.8" fill="#ee9c5e" fill-opacity="0.8"/>
<circle cx="165.98" cy="535.76" r="1.8" fill="#ee9c5e" fill-opacity="0.8"/>
<circle cx="166.89" cy="473.07" r="1.8" fill="#ee9c5e" fill-opacity="0.8"/>
<circle cx="166.55" cy="500.91" r="1.8" fill="#ee9c5e" fill-opacity="0.8"/>
<circle cx="162.31" cy="521.79" r="1.8" fill="#ee9c5e" fill-opacity="0.8"/>
<circle cx="168.59" cy="466.64" r="1.8" fill="#ee9c5e" fill-opacity="0.8"/>
<circle cx="167.81" cy="517.74" r="1.8" fill="#ee9c5e" fill-opacity="0.8"/>
<circle cx="165.16" cy="448.66" r="1.8" fill="#ee9c5e" fill-opacity="0.8"/>
<circle cx="167.89" cy="472.00" r="1.8" fill="#ee9c5e" fill-opacity="0.8"/>
<circle cx="166.03" cy="457.86" r="1.8" fill="#ee9c5e" fill-opacity="0.8"/>
<circle cx="162.91" cy="472.48" r="1.8" fill="#ee9c5e" fill-opacity="0.8"/>
<circle cx="164.56" cy="461.33" r="1.8" fill="#ee9c5e" fill-opacity="0.8"/>
<circle cx="167.61" cy="449.40" r="1.8" fill="#ee9c5e" fill-opacity="0.8"/>
<circle cx="165.04" cy="520.00" r="1.8" fill="#ee9c5e" fill-opacity="0.8"/>
<circle cx="162.00" cy="458.34" r="1.8" fill="#ee9c5e" fill-opacity="0.8"/>
<circle cx="162.89" cy="494.66" r="1.8" fill="#ee9c5e" fill-opacity="0.8"/>
<circle cx="163.04" cy="492.68" r="1.8" fill="#ee9c5e" fill-opacity="0.8"/>
<circle cx="165.92" cy="525.41" r="1.8" fill="#ee9c5e" fill-opacity="0.8"/>
<circle cx="166.34" cy="525.11" r="1.8" fill="#ee9c5e" fill-opacity="0.8"/>
<circle cx="164.92" cy="499.78" r="1.8" fill="#ee9c5e" fill-opacity="0.8"/>
<circle cx="164.61" cy="458.01" r="1.8" fill="#ee9c5e" fill-opacity="0.8"/>
<circle cx="168.63" cy="515.16" r="1.8" fill="#ee9c5e" fill-opacity="0.8"/>
<circle cx="164.17" cy="453.21" r="1.8" fill="#ee9c5e" fill-opacity="0.8"/>
<circle cx="166.54" cy="534.83" r="1.8" fill="#ee9c5e" fill-opacity="0.8"/>
<circle cx="163.17" cy="469.17" r="1.8" fill="#ee9c5e" fill-opacity="0.8"/>
<circle cx="165.40" cy="464.49" r="1.8" fill="#ee9c5e" fill-opacity="0.8"/>
<circle cx="162.99" cy="461.60" r="1.8" fill="#ee9c5e" fill-opacity="0.8"/>
<circle cx="162.52" cy="477.09" r="1.8" fill="#ee9c5e" fill-opacity="0.8"/>
<circle cx="164.12" cy="518.67" r="1.8" fill="#ee9c5e" fill-opacity="0.8"/>
<circle cx="162.53" cy="526.04" r="1.8" fill="#ee9c5e" fill-opacity="0.8"/>
<circle cx="164.44" cy="513.48" r="1.8" fill="#ee9c5e" fill-opacity="0.8"/>
<circle cx="166.40" cy="511.59" r="1.8" fill="#ee9c5e" fill-opacity="0.8"/>
<circle cx="165.65" cy="463.78" r="1.8" fill="#ee9c5e" fill-opacity="0.8"/>
<circle cx="167.43" cy="470.29" r="1.8" fill="#ee9c5e" fill-opacity="0.8"/>
<circle cx="165.14" cy="468.81" r="1.8" fill="#ee9c5e" fill-opacity="0.8"/>
<circle cx="162.31" cy="480.62" r="1.8" fill="#ee9c5e" fill-opacity="0.8"/>
<circle cx="166.94" cy="528.36" r="1.8" fill="#ee9c5e" fill-opacity="0.8"/>
<circle cx="164.59" cy="543.05" r="1.8" fill="#ee9c5e" fill-opacity="0.8"/>
<circle cx="167.11" cy="452.38" r="1.8" fill="#ee9c5e" fill-opacity="0.8"/>
<circle cx="168.72" cy="539.20" r="1.8" fill="#ee9c5e" fill-opacity="0.8"/>
<circle cx="165.47" cy="533.60" r="1.8" fill="#ee9c5e" fill-opacity="0.8"/>
<circle cx="163.50" cy="483.29" r="1.8" fill="#ee9c5e" fill-opacity="0.8"/>
<circle cx="164.28" cy="507.52" r="1.8" fill="#ee9c5e" fill-opacity="0.8"/>
<circle cx="165.29" cy="517.86" r="1.8" fill="#ee9c5e" fill-opacity="0.8"/>
<circle cx="164.00" cy="459.33" r="1.8" fill="#ee9c5e" fill-opacity="0.8"/>
<circle cx="162.43" cy="499.16" r="1.8" fill="#ee9c5e" fill-opacity="0.8"/>
<circle cx="164.57" cy="541.30" r="1.8" fill="#ee9c5e" fill-opacity="0.8"/>
<circle cx="166.42" cy="529.06" r="1.8" fill="#ee9c5e" fill-opacity="0.8"/>
<circle cx="167.58" cy="532.79" r="1.8" fill="#ee9c5e" fill-opacity="0.8"/>
<circle cx="167.18" cy="452.44" r="1.8" fill="#ee9c5e" fill-opacity="0.8"/>
<circle cx="168.07" cy="509.95" r="1.8" fill="#ee9c5e" fill-opacity="0.8"/>
<circle cx="167.47" cy="485.82" r="1.8" fill="#ee9c5e" fill-opacity="0.8"/>
<circle cx="164.66" cy="532.50" r="1.8" fill="#ee9c5e" fill-opacity="0.8"/>
<circle cx="166.34" cy="457.86" r="1.8" fill="#ee9c5e" fill-opacity="0.8"/>
<circle cx="162.09" cy="492.12" r="1.8" fill="#ee9c5e" fill-opacity="0.8"/>
<circle cx="167.42" cy="454.67" r="1.8" fill="#ee9c5e" fill-opacity="0.8"/>
<circle cx="166.80" cy="520.15" r="1.8" fill="#ee9c5e" fill-opacity="0.8"/>
<circle cx="163.61" cy="510.84" r="1.8" fill="#ee9c5e" fill-opacity="0.8"/>
<circle cx="165.10" cy="449.64" r="1.8" fill="#ee9c5e" fill-opacity="0.8"/>
<circle cx="163.66" cy="469.28" r="1.8" fill="#ee9c5e" fill-opacity="0.8"/>
<circle cx="167.42" cy="456.08" r="1.8" fill="#ee9c5e" fill-opacity="0.8"/>
<circle cx="164.77" cy="501.26" r="1.8" fill="#ee9c5e" fill-opacity="0.8"/>
<circle cx="167.32" cy="500.67" r="1.8" fill="#ee9c5e" fill-opacity="0.8"/>
<circle cx="168.35" cy="451.19" r="1.8" fill="#ee9c5e" fill-opacity="0.8"/>
<circle cx="167.30" cy="537.53" r="1.8" fill="#ee9c5e" fill-opacity="0.8"/>
<circle cx="164.44" cy="539.29" r="1.8" fill="#ee9c5e" fill-opacity="0.8"/>
<circle cx="164.17" cy="481.32" r="1.8" fill="#ee9c5e" fill-opacity="0.8"/>
<circle cx="168.51" cy="494.76" r="1.8" fill="#ee9c5e" fill-opacity="0.8"/>
<circle cx="168.21" cy="474.07" r="1.8" fill="#ee9c5e" fill-opacity="0.8"/>
<circle cx="163.07" cy="498.13" r="1.8" fill="#ee9c5e" fill-opacity="0.8"/>
<circle cx="164.31" cy="477.30" r="1.8" fill="#ee9c5e" fill-opacity="0.8"/>
<circle cx="167.37" cy="481.33" r="1.8" fill="#ee9c5e" fill-opacity="0.8"/>
<circle cx="167.15" cy="513.90" r="1.8" fill="#ee9c5e" fill-opacity="0.8"/>
<circle cx="163.74" cy="459.30" r="1.8" fill="#ee9c5e" fill-opacity="0.8"/>
<circle cx="164.91" cy="468.30" r="1.8" fill="#ee9c5e" fill-opacity="0.8"/>
<circle cx="168.62" cy="515.48" r="1.8" fill="#ee9c5e" fill-opacity="0.8"/>
<circle cx="162.35" cy="462.25" r="1.8" fill="#ee9c5e" fill-opacity="0.8"/>
<circle cx="163.67" cy="451.53" r="1.8" fill="#ee9c5e" fill-opacity="0.8"/>
<circle cx="166.48" cy="532.78" r="1.8" fill="#ee9c5e" fill-opacity="0.8"/>
<circle cx="168.23" cy="457.33" r="1.8" fill="#ee9c5e" fill-opacity="0.8"/>
<circle cx="168.52" cy="478.49" r="1.8" fill="#ee9c5e" fill-opacity="0.8"/>
<circle cx="165.08" cy="469.62" r="1.8" fill="#ee9c5e" fill-opacity="0.8"/>
<circle cx="167.39" cy="465.22" r="1.8" fill="#ee9c5e" fill-opacity="0.8"/>
<circle cx="168.70" cy="473.08" r="1.8" fill="#ee9c5e" fill-opacity="0.8"/>
<circle cx="164.07" cy="490.95" r="1.8" fill="#ee9c5e" fill-opacity="0.8"/>
<circle cx="163.34" cy="454.38" r="1.8" fill="#ee9c5e" fill-opacity="0.8"/>
<circle cx="163.57" cy="490.53" r="1.8" fill="#ee9c5e" fill-opacity="0.8"/>
<circle cx="167.33" cy="450.59" r="1.8" fill="#ee9c5e" fill-opacity="0.8"/>
<circle cx="162.70" cy="452.10" r="1.8" fill="#ee9c5e" fill-opacity="0.8"/>
<circle cx="165.64" cy="460.48" r="1.8" fill="#ee9c5e" fill-opacity="0.8"/>
<circle cx="168.39" cy="463.47" r="1.8" fill="#ee9c5e" fill-opacity="0.8"/>
<circle cx="163.15" cy="472.09" r="1.8" fill="#ee9c5e" fill-opacity="0.8"/>
<circle cx="166.23" cy="467.70" r="1.8" fill="#ee9c5e" fill-opacity="0.8"/>
<circle cx="165.52" cy="523.93" r="1.8" fill="#ee9c5e" fill-opacity="0.8"/>
<circle cx="168.66" cy="503.71" r="1.8" fill="#ee9c5e" fill-opacity="0.8"/>
<circle cx="165.40" cy="484.50" r="1.8" fill="#ee9c5e" fill-opacity="0.8"/>
<circle cx="165.23" cy="516.36" r="1.8" fill="#ee9c5e" fill-opacity="0.8"/>
<circle cx="168.21" cy="506.76" r="1.8" fill="#ee9c5e" fill-opacity="0.8"/>
<circle cx="167.12" cy="469.78" r="1.8" fill="#ee9c5e" fill-opacity="0.8"/>
<circle cx="162.75" cy="499.17" r="1.8" fill="#ee9c5e" fill-opacity="0.8"/>
<circle cx="167.49" cy="513.41" r="1.8" fill="#ee9c5e" fill-opacity="0.8"/>
<circle cx="164.57" cy="490.64" r="1.8" fill="#ee9c5e" fill-opacity="0.8"/>
<circle cx="168.67" cy="514.21" r="1.8" fill="#ee9c5e" fill-opacity="0.8"/>
<circle cx="168.63" cy="500.98" r="1.8" fill="#ee9c5e" fill-opacity="0.8"/>
<circle cx="165.25" cy="534.75" r="1.8" fill="#ee9c5e" fill-opacity="0.8"/>
<circle cx="164.70" cy="465.42" r="1.8" fill="#ee9c5e" fill-opacity="0.8"/>
<circle cx="163.33" cy="505.19" r="1.8" fill="#ee9c5e" fill-opacity="0.8"/>
<circle cx="163.69" cy="540.70" r="1.8" fill="#ee9c5e" fill-opacity="0.8"/>
<circle cx="163.18" cy="490.00" r="1.8" fill="#ee9c5e" fill-opacity="0.8"/>
<circle cx="162.91" cy="532.02" r="1.8" fill="#ee9c5e" fill-opacity="0.8"/>
<circle cx="166.96" cy="453.03" r="1.8" fill="#ee9c5e" fill-opacity="0.8"/>
<circle cx="162.07" cy="510.94" r="1.8" fill="#ee9c5e" fill-opacity="0.8"/>
<circle cx="166.01" cy="465.52" r="1.8" fill="#ee9c5e" fill-opacity="0.8"/>
<circle cx="166.00" cy="513.96" r="1.8" fill="#ee9c5e" fill-opacity="0.8"/>
<circle cx="167.00" cy="479.67" r="1.8" fill="#ee9c5e" fill-opacity="0.8"/>
<circle cx="165.79" cy="490.71" r="1.8" fill="#ee9c5e" fill-opacity="0.8"/>
<circle cx="168.38" cy="464.14" r="1.8" fill="#ee9c5e" fill-opacity="0.8"/>
<circle cx="163.73" cy="464.84" r="1.8" fill="#ee9c5e" fill-opacity="0.8"/>
<circle cx="162.37" cy="527.29" r="1.8" fill="#ee9c5e" fill-opacity="0.8"/>
<circle cx="165.89" cy="502.11" r="1.8" fill="#ee9c5e" fill-opacity="0.8"/>
<circle cx="163.64" cy="500.54" r="1.8" fill="#ee9c5e" fill-opacity="0.8"/>
<circle cx="168.81" cy="454.35" r="1.8" fill="#ee9c5e" fill-opacity="0.8"/>
<circle cx="168.34" cy="467.86" r="1.8" fill="#ee9c5e" fill-opacity="0.8"/>
<circle cx="166.65" cy="539.64" r="1.8" fill="#ee9c5e" fill-opacity="0.8"/>
<circle cx="167.70" cy="460.56" r="1.8" fill="#ee9c5e" fill-opacity="0.8"/>
<circle cx="163.46" cy="491.00" r="1.8" fill="#ee9c5e" fill-opacity="0.8"/>
<circle cx="165.19" cy="507.94" r="1.8" fill="#ee9c5e" fill-opacity="0.8"/>
<circle cx="164.46" cy="488.22" r="1.8" fill="#ee9c5e" fill-opacity="0.8"/>
<circle cx="164.19" cy="492.69" r="1.8" fill="#ee9c5e" fill-opacity="0.8"/>
<circle cx="164.39" cy="539.89" r="1.8" fill="#ee9c5e" fill-opacity="0.8"/>
<circle cx="165.14" cy="517.50" r="1.8" fill="#ee9c5e" fill-opacity="0.8"/>
<circle cx="166.41" cy="463.21" r="1.8" fill="#ee9c5e" fill-opacity="0.8"/>
<circle cx="161.88" cy="480.32" r="1.8" fill="#ee9c5e" fill-opacity="0.8"/>
<circle cx="165.58" cy="479.31" r="1.8" fill="#ee9c5e" fill-opacity="0.8"/>
<circle cx="162.62" cy="506.53" r="1.8" fill="#ee9c5e" fill-opacity="0.8"/>
<circle cx="168.67" cy="505.56" r="1.8" fill="#ee9c5e" fill-opacity="0.8"/>
<circle cx="165.67" cy="465.16" r="1.8" fill="#ee9c5e" fill-opacity="0.8"/>
<circle cx="165.94" cy="507.48" r="1.8" fill="#ee9c5e" fill-opacity="0.8"/>
<circle cx="163.97" cy="480.42" r="1.8" fill="#ee9c5e" fill-opacity="0.8"/>
<circle cx="166.78" cy="449.01" r="1.8" fill="#ee9c5e" fill-opacity="0.8"/>
<circle cx="166.81" cy="467.75" r="1.8" fill="#ee9c5e" fill-opacity="0.8"/>
<circle cx="168.25" cy="475.30" r="1.8" fill="#ee9c5e" fill-opacity="0.8"/>
<circle cx="165.88" cy="460.08" r="1.8" fill="#ee9c5e" fill-opacity="0.8"/>
<circle cx="163.64" cy="505.09" r="1.8" fill="#ee9c5e" fill-opacity="0.8"/>
<circle cx="166.23" cy="542.61" r="1.8" fill="#ee9c5e" fill-opacity="0.8"/>
<circle cx="162.06" cy="535.19" r="1.8" fill="#ee9c5e" fill-opacity="0.8"/>
<circle cx="167.06" cy="500.64" r="1.8" fill="#ee9c5e" fill-opacity="0.8"/>
<circle cx="163.91" cy="526.32" r="1.8" fill="#ee9c5e" fill-opacity="0.8"/>
<circle cx="166.88" cy="486.33" r="1.8" fill="#ee9c5e" fill-opacity="0.8"/>
<circle cx="162.65" cy="496.06" r="1.8" fill="#ee9c5e" fill-opacity="0.8"/>
<circle cx="166.00" cy="530.65" r="1.8" fill="#ee9c5e" fill-opacity="0.8"/>
<circle cx="162.92" cy="451.03" r="1.8" fill="#ee9c5e" fill-opacity="0.8"/>
<circle cx="161.96" cy="473.97" r="1.8" fill="#ee9c5e" fill-opacity="0.8"/>
<circle cx="163.60" cy="475.05" r="1.8" fill="#ee9c5e" fill-opacity="0.8"/>
<circle cx="190.47" cy="525.28" r="1.8" fill="#d6718f" fill-opacity="0.8"/>
<circle cx="191.77" cy="476.39" r="1.8" fill="#d6718f" fill-opacity="0.8"/>
<circle cx="192.05" cy="489.47" r="1.8" fill="#d6718f" fill-opacity="0.8"/>
<circle cx="194.36" cy="518.53" r="1.8" fill="#d6718f" fill-opacity="0.8"/>
<circle cx="191.07" cy="540.89" r="1.8" fill="#d6718f" fill-opacity="0.8"/>
<circle cx="193.22" cy="465.01" r="1.8" fill="#d6718f" fill-opacity="0.8"/>
<circle cx="192.46" cy="507.66" r="1.8" fill="#d6718f" fill-opacity="0.8"/>
<circle cx="191.40" cy="517.55" r="1.8" fill="#d6718f" fill-opacity="0.8"/>
<circle cx="193.83" cy="518.93" r="1.8" fill="#d6718f" fill-opacity="0.8"/>
<circle cx="192.33" cy="472.57" r="1.8" fill="#d6718f" fill-opacity="0.8"/>
<circle cx="196.25" cy="484.61" r="1.8" fill="#d6718f" fill-opacity="0.8"/>
<circle cx="190.13" cy="517.79" r="1.8" fill="#d6718f" fill-opacity="0.8"/>
<circle cx="195.67" cy="464.33" r="1.8" fill="#d6718f" fill-opacity="0.8"/>
<circle cx="193.79" cy="485.74" r="1.8" fill="#d6718f" fill-opacity="0.8"/>
<circle cx="192.50" cy="501.06" r="1.8" fill="#d6718f" fill-opacity="0.8"/>
<circle cx="189.76" cy="525.62" r="1.8" fill="#d6718f" fill-opacity="0.8"/>
<circle cx="193.86" cy="463.76" r="1.8" fill="#d6718f" fill-opacity="0.8"/>
<circle cx="194.98" cy="504.51" r="1.8" fill="#d6718f" fill-opacity="0.8"/>
<circle cx="191.72" cy="461.64" r="1.8" fill="#d6718f" fill-opacity="0.8"/>
<circle cx="194.33" cy="457.15" r="1.8" fill="#d6718f" fill-opacity="0.8"/>
<circle cx="193.03" cy="484.88" r="1.8" fill="#d6718f" fill-opacity="0.8"/>
<circle cx="189.85" cy="502.60" r="1.8" fill="#d6718f" fill-opacity="0.8"/>
<circle cx="195.39" cy="501.77" r="1.8" fill="#d6718f" fill-opacity="0.8"/>
<circle cx="191.45" cy="537.19" r="1.8" fill="#d6718f" fill-opacity="0.8"/>
<circle cx="192.66" cy="457.68" r="1.8" fill="#d6718f" fill-opacity="0.8"/>
<circle cx="194.68" cy="490.23" r="1.8" fill="#d6718f" fill-opacity="0.8"/>
<circle cx="195.51" cy="485.17" r="1.8" fill="#d6718f" fill-opacity="0.8"/>
<circle cx="195.35" cy="464.99" r="1.8" fill="#d6718f" fill-opacity="0.8"/>
<circle cx="191.85" cy="533.52" r="1.8" fill="#d6718f" fill-opacity="0.8"/>
<circle cx="195.30" cy="456.23" r="1.8" fill="#d6718f" fill-opacity="0.8"/>
<circle cx="190.30" cy="465.13" r="1.8" fill="#d6718f" fill-opacity="0.8"/>
<circle cx="193.17" cy="450.06" r="1.8" fill="#d6718f" fill-opacity="0.8"/>
<circle cx="192.31" cy="502.15" r="1.8" fill="#d6718f" fill-opacity="0.8"/>
<circle cx="195.44" cy="503.67" r="1.8" fill="#d6718f" fill-opacity="0.8"/>
<circle cx="194.40" cy="462.15" r="1.8" fill="#d6718f" fill-opacity="0.8"/>
<circle cx="193.95" cy="534.02" r="1.8" fill="#d6718f" fill-opacity="0.8"/>
<circle cx="195.04" cy="501.20" r="1.8" fill="#d6718f" fill-opacity="0.8"/>
<circle cx="191.70" cy="460.44" r="1.8" fill="#d6718f" fill-opacity="0.8"/>
<circle cx="192.40" cy="536.42" r="1.8" fill="#d6718f" fill-opacity="0.8"/>
<circle cx="189.94" cy="525.86" r="1.8" fill="#d6718f" fill-opacity="0.8"/>
<circle cx="191.73" cy="469.65" r="1.8" fill="#d6718f" fill-opacity="0.8"/>
<circle cx="190.64" cy="527.23" r="1.8" fill="#d6718f" fill-opacity="0.8"/>
<circle cx="194.47" cy="455.31" r="1.8" fill="#d6718f" fill-opacity="0.8"/>
<circle cx="190.13" cy="472.66" r="1.8" fill="#d6718f" fill-opacity="0.8"/>
<circle cx="195.79" cy="479.23" r="1.8" fill="#d6718f" fill-opacity="0.8"/>
<circle cx="193.52" cy="538.04" r="1.8" fill="#d6718f" fill-opacity="0.8"/>
<circle cx="192.41" cy="468.34" r="1.8" fill="#d6718f" fill-opacity="0.8"/>
<circle cx="190.06" cy="476.13" r="1.8" fill="#d6718f" fill-opacity="0.8"/>
<circle cx="192.42" cy="460.87" r="1.8" fill="#d6718f" fill-opacity="0.8"/>
<circle cx="193.26" cy="521.89" r="1.8" fill="#d6718f" fill-opacity="0.8"/>
<circle cx="190.24" cy="459.08" r="1.8" fill="#d6718f" fill-opacity="0.8"/>
<circle cx="196.23" cy="525.20" r="1.8" fill="#d6718f" fill-opacity="0.8"/>
<circle cx="191.80" cy="472.04" r="1.8" fill="#d6718f" fill-opacity="0.8"/>
<circle cx="192.33" cy="492.24" r="1.8" fill="#d6718f" fill-opacity="0.8"/>
<circle cx="191.25" cy="528.61" r="1.8" fill="#d6718f" fill-opacity="0.8"/>
<circle cx="191.89" cy="465.63" r="1.8" fill="#d6718f" fill-opacity="0.8"/>
<circle cx="191.19" cy="490.06" r="1.8" fill="#d6718f" fill-opacity="0.8"/>
<circle cx="195.35" cy="501.32" r="1.8" fill="#d6718f" fill-opacity="0.8"/>
<circle cx="189.72" cy="495.13" r="1.8" fill="#d6718f" fill-opacity="0.8"/>
<circle cx="191.83" cy="478.15" r="1.8" fill="#d6718f" fill-opacity="0.8"/>
<circle cx="193.50" cy="502.40" r="1.8" fill="#d6718f" fill-opacity="0.8"/>
<circle cx="192.65" cy="469.71" r="1.8" fill="#d6718f" fill-opacity="0.8"/>
<circle cx="191.54" cy="457.02" r="1.8" fill="#d6718f" fill-opacity="0.8"/>
<circle cx="192.69" cy="448.81" r="1.8" fill="#d6718f" fill-opacity="0.8"/>
<circle cx="189.65" cy="498.09" r="1.8" fill="#d6718f" fill-opacity="0.8"/>
<circle cx="191.41" cy="494.76" r="1.8" fill="#d6718f" fill-opacity="0.8"/>
<circle cx="192.33" cy="519.60" r="1.8" fill="#d6718f" fill-opacity="0.8"/>
<circle cx="194.72" cy="457.14" r="1.8" fill="#d6718f" fill-opacity="0.8"/>
<circle cx="192.30" cy="505.33" r="1.8" fill="#d6718f" fill-opacity="0.8"/>
<circle cx="192.19" cy="482.55" r="1.8" fill="#d6718f" fill-opacity="0.8"/>
<circle cx="193.91" cy="489.69" r="1.8" fill="#d6718f" fill-opacity="0.8"/>
<circle cx="191.19" cy="523.30" r="1.8" fill="#d6718f" fill-opacity="0.8"/>
<circle cx="193.16" cy="489.08" r="1.8" fill="#d6718f" fill-opacity="0.8"/>
<circle cx="190.60" cy="480.84" r="1.8" fill="#d6718f" fill-opacity="0.8"/>
<circle cx="193.64" cy="502.36" r="1.8" fill="#d6718f" fill-opacity="0.8"/>
<circle cx="193.08" cy="456.51" r="1.8" fill="#d6718f" fill-opacity="0.8"/>
<circle cx="193.91" cy="528.16" r="1.8" fill="#d6718f" fill-opacity="0.8"/>
<circle cx="195.50" cy="488.92" r="1.8" fill="#d6718f" fill-opacity="0.8"/>
<circle cx="194.92" cy="450.16" r="1.8" fill="#d6718f" fill-opacity="0.8"/>
<circle cx="196.32" cy="485.31" r="1.8" fill="#d6718f" fill-opacity="0.8"/>
<circle cx="190.88" cy="536.88" r="1.8" fill="#d6718f" fill-opacity="0.8"/>
<circle cx="196.07" cy="540.94" r="1.8" fill="#d6718f" fill-opacity="0.8"/>
<circle cx="192.40" cy="479.94" r="1.8" fill="#d6718f" fill-opacity="0.8"/>
<circle cx="191.84" cy="465.53" r="1.8" fill="#d6718f" fill-opacity="0.8"/>
<circle cx="192.48" cy="535.77" r="1.8" fill="#d6718f" fill-opacity="0.8"/>
<circle cx="195.83" cy="467.12" r="1.8" fill="#d6718f" fill-opacity="0.8"/>
<circle cx="196.07" cy="449.11" r="1.8" fill="#d6718f" fill-opacity="0.8"/>
<circle cx="195.00" cy="464.02" r="1.8" fill="#d6718f" fill-opacity="0.8"/>
<circle cx="191.37" cy="484.25" r="1.8" fill="#d6718f" fill-opacity="0.8"/>
<circle cx="190.06" cy="505.40" r="1.8" fill="#d6718f" fill-opacity="0.8"/>
<circle cx="190.67" cy="451.42" r="1.8" fill="#d6718f" fill-opacity="0.8"/>
<circle cx="194.04" cy="471.45" r="1.8" fill="#d6718f" fill-opacity="0.8"/>
<circle cx="194.26" cy="511.41" r="1.8" fill="#d6718f" fill-opacity="0.8"/>
<circle cx="189.67" cy="472.35" r="1.8" fill="#d6718f" fill-opacity="0.8"/>
<circle cx="189.23" cy="458.50" r="1.8" fill="#d6718f" fill-opacity="0.8"/>
<circle cx="196.36" cy="509.56" r="1.8" fill="#d6718f" fill-opacity="0.8"/>
<circle cx="191.63" cy="480.93" r="1.8" fill="#d6718f" fill-opacity="0.8"/>
<circle cx="189.50" cy="507.77" r="1.8" fill="#d6718f" fill-opacity="0.8"/>
<circle cx="192.55" cy="485.59" r="1.8" fill="#d6718f" fill-opacity="0.8"/>
<circle cx="189.90" cy="521.08" r="1.8" fill="#d6718f" fill-opacity="0.8"/>
<circle cx="195.07" cy="488.38" r="1.8" fill="#d6718f" fill-opacity="0.8"/>
<circle cx="193.01" cy="540.48" r="1.8" fill="#d6718f" fill-opacity="0.8"/>
<circle cx="193.61" cy="521.16" r="1.8" fill="#d6718f" fill-opacity="0.8"/>
<circle cx="195.88" cy="510.73" r="1.8" fill="#d6718f" fill-opacity="0.8"/>
<circle cx="190.10" cy="486.19" r="1.8" fill="#d6718f" fill-opacity="0.8"/>
<circle cx="190.75" cy="498.49" r="1.8" fill="#d6718f" fill-opacity="0.8"/>
<circle cx="194.87" cy="475.28" r="1.8" fill="#d6718f" fill-opacity="0.8"/>
<circle cx="193.57" cy="451.95" r="1.8" fill="#d6718f" fill-opacity="0.8"/>
<circle cx="192.36" cy="529.57" r="1.8" fill="#d6718f" fill-opacity="0.8"/>
<circle cx="191.76" cy="520.50" r="1.8" fill="#d6718f" fill-opacity="0.8"/>
<circle cx="193.66" cy="515.85" r="1.8" fill="#d6718f" fill-opacity="0.8"/>
<circle cx="196.00" cy="526.55" r="1.8" fill="#d6718f" fill-opacity="0.8"/>
<circle cx="196.03" cy="492.34" r="1.8" fill="#d6718f" fill-opacity="0.8"/>
<circle cx="195.81" cy="542.87" r="1.8" fill="#d6718f" fill-opacity="0.8"/>
<circle cx="196.24" cy="484.50" r="1.8" fill="#d6718f" fill-opacity="0.8"/>
<circle cx="190.15" cy="541.17" r="1.8" fill="#d6718f" fill-opacity="0.8"/>
<circle cx="189.40" cy="452.20" r="1.8" fill="#d6718f" fill-opacity="0.8"/>
<circle cx="195.17" cy="475.44" r="1.8" fill="#d6718f" fill-opacity="0.8"/>
<circle cx="190.98" cy="494.44" r="1.8" fill="#d6718f" fill-opacity="0.8"/>
<circle cx="192.96" cy="521.77" r="1.8" fill="#d6718f" fill-opacity="0.8"/>
<circle cx="192.57" cy="489.26" r="1.8" fill="#d6718f" fill-opacity="0.8"/>
<circle cx="196.21" cy="518.52" r="1.8" fill="#d6718f" fill-opacity="0.8"/>
<circle cx="192.39" cy="475.02" r="1.8" fill="#d6718f" fill-opacity="0.8"/>
<circle cx="190.17" cy="505.79" r="1.8" fill="#d6718f" fill-opacity="0.8"/>
<circle cx="190.67" cy="519.25" r="1.8" fill="#d6718f" fill-opacity="0.8"/>
<circle cx="195.71" cy="497.50" r="1.8" fill="#d6718f" fill-opacity="0.8"/>
<circle cx="195.07" cy="449.22" r="1.8" fill="#d6718f" fill-opacity="0.8"/>
<circle cx="190.21" cy="503.59" r="1.8" fill="#d6718f" fill-opacity="0.8"/>
<circle cx="196.14" cy="448.60" r="1.8" fill="#d6718f" fill-opacity="0.8"/>
<circle cx="191.88" cy="468.70" r="1.8" fill="#d6718f" fill-opacity="0.8"/>
<circle cx="194.44" cy="454.29" r="1.8" fill="#d6718f" fill-opacity="0.8"/>
<circle cx="193.27" cy="515.45" r="1.8" fill="#d6718f" fill-opacity="0.8"/>
<circle cx="195.38" cy="457.96" r="1.8" fill="#d6718f" fill-opacity="0.8"/>
<circle cx="192.72" cy="510.46" r="1.8" fill="#d6718f" fill-opacity="0.8"/>
<circle cx="189.41" cy="451.72" r="1.8" fill="#d6718f" fill-opacity="0.8"/>
<circle cx="193.21" cy="460.85" r="1.8" fill="#d6718f" fill-opacity="0.8"/>
<circle cx="195.33" cy="507.78" r="1.8" fill="#d6718f" fill-opacity="0.8"/>
<circle cx="192.16" cy="534.34" r="1.8" fill="#d6718f" fill-opacity="0.8"/>
<circle cx="195.15" cy="451.68" r="1.8" fill="#d6718f" fill-opacity="0.8"/>
<circle cx="192.42" cy="499.00" r="1.8" fill="#d6718f" fill-opacity="0.8"/>
<circle cx="191.79" cy="477.21" r="1.8" fill="#d6718f" fill-opacity="0.8"/>
<circle cx="191.79" cy="499.81" r="1.8" fill="#d6718f" fill-opacity="0.8"/>
<circle cx="190.85" cy="452.00" r="1.8" fill="#d6718f" fill-opacity="0.8"/>
<circle cx="192.80" cy="449.07" r="1.8" fill="#d6718f" fill-opacity="0.8"/>
<circle cx="196.11" cy="452.09" r="1.8" fill="#d6718f" fill-opacity="0.8"/>
<circle cx="193.45" cy="530.33" r="1.8" fill="#d6718f" fill-opacity="0.8"/>
<circle cx="194.73" cy="486.21" r="1.8" fill="#d6718f" fill-opacity="0.8"/>
<circle cx="190.49" cy="498.80" r="1.8" fill="#d6718f" fill-opacity="0.8"/>
<circle cx="191.86" cy="455.52" r="1.8" fill="#d6718f" fill-opacity="0.8"/>
<circle cx="193.38" cy="506.75" r="1.8" fill="#d6718f" fill-opacity="0.8"/>
<circle cx="191.96" cy="531.53" r="1.8" fill="#d6718f" fill-opacity="0.8"/>
<circle cx="189.26" cy="460.16" r="1.8" fill="#d6718f" fill-opacity="0.8"/>
<circle cx="195.45" cy="517.41" r="1.8" fill="#d6718f" fill-opacity="0.8"/>
<circle cx="190.13" cy="525.29" r="1.8" fill="#d6718f" fill-opacity="0.8"/>
<circle cx="193.94" cy="542.59" r="1.8" fill="#d6718f" fill-opacity="0.8"/>
<circle cx="196.26" cy="493.89" r="1.8" fill="#d6718f" fill-opacity="0.8"/>
<circle cx="191.28" cy="502.29" r="1.8" fill="#d6718f" fill-opacity="0.8"/>
<circle cx="191.14" cy="472.39" r="1.8" fill="#d6718f" fill-opacity="0.8"/>
<circle cx="191.59" cy="517.44" r="1.8" fill="#d6718f" fill-opacity="0.8"/>
<circle cx="193.10" cy="469.36" r="1.8" fill="#d6718f" fill-opacity="0.8"/>
<circle cx="196.26" cy="499.99" r="1.8" fill="#d6718f" fill-opacity="0.8"/>
<circle cx="190.24" cy="500.32" r="1.8" fill="#d6718f" fill-opacity="0.8"/>
<circle cx="190.96" cy="542.24" r="1.8" fill="#d6718f" fill-opacity="0.8"/>
<circle cx="195.65" cy="518.17" r="1.8" fill="#d6718f" fill-opacity="0.8"/>
<circle cx="191.19" cy="453.11" r="1.8" fill="#d6718f" fill-opacity="0.8"/>
<circle cx="250.27" cy="631.20" r="1.8" fill="#3579a6" fill-opacity="0.85"/>
<circle cx="248.51" cy="539.90" r="1.8" fill="#3579a6" fill-opacity="0.85"/>
<circle cx="251.45" cy="455.12" r="1.8" fill="#3579a6" fill-opacity="0.85"/>
<circle cx="248.06" cy="520.34" r="1.8" fill="#3579a6" fill-opacity="0.85"/>
<circle cx="246.49" cy="513.81" r="1.8" fill="#3579a6" fill-opacity="0.85"/>
<circle cx="247.45" cy="592.07" r="1.8" fill="#3579a6" fill-opacity="0.85"/>
<circle cx="248.39" cy="526.86" r="1.8" fill="#3579a6" fill-opacity="0.85"/>
<circle cx="249.49" cy="494.25" r="1.8" fill="#3579a6" fill-opacity="0.85"/>
<circle cx="248.96" cy="481.21" r="1.8" fill="#3579a6" fill-opacity="0.85"/>
<circle cx="250.79" cy="579.03" r="1.8" fill="#3579a6" fill-opacity="0.85"/>
<circle cx="248.19" cy="539.90" r="1.8" fill="#3579a6" fill-opacity="0.85"/>
<circle cx="245.54" cy="487.73" r="1.8" fill="#3579a6" fill-opacity="0.85"/>
<circle cx="250.77" cy="487.73" r="1.8" fill="#3579a6" fill-opacity="0.85"/>
<circle cx="249.59" cy="526.86" r="1.8" fill="#3579a6" fill-opacity="0.85"/>
<circle cx="245.16" cy="461.64" r="1.8" fill="#3579a6" fill-opacity="0.85"/>
<circle cx="247.59" cy="448.60" r="1.8" fill="#3579a6" fill-opacity="0.85"/>
<circle cx="250.71" cy="539.90" r="1.8" fill="#3579a6" fill-opacity="0.85"/>
<circle cx="248.52" cy="507.29" r="1.8" fill="#3579a6" fill-opacity="0.85"/>
<circle cx="244.88" cy="513.81" r="1.8" fill="#3579a6" fill-opacity="0.85"/>
<circle cx="250.83" cy="481.21" r="1.8" fill="#3579a6" fill-opacity="0.85"/>
<circle cx="249.75" cy="546.42" r="1.8" fill="#3579a6" fill-opacity="0.85"/>
<circle cx="245.48" cy="474.69" r="1.8" fill="#3579a6" fill-opacity="0.85"/>
<circle cx="249.45" cy="500.77" r="1.8" fill="#3579a6" fill-opacity="0.85"/>
<circle cx="250.81" cy="461.64" r="1.8" fill="#3579a6" fill-opacity="0.85"/>
<circle cx="248.50" cy="474.69" r="1.8" fill="#3579a6" fill-opacity="0.85"/>
<circle cx="251.49" cy="468.16" r="1.8" fill="#3579a6" fill-opacity="0.85"/>
<circle cx="248.20" cy="494.25" r="1.8" fill="#3579a6" fill-opacity="0.85"/>
<circle cx="244.00" cy="461.64" r="1.8" fill="#3579a6" fill-opacity="0.85"/>
<circle cx="249.18" cy="448.60" r="1.8" fill="#3579a6" fill-opacity="0.85"/>
<circle cx="250.54" cy="513.81" r="1.8" fill="#3579a6" fill-opacity="0.85"/>
<circle cx="251.23" cy="579.03" r="1.8" fill="#3579a6" fill-opacity="0.85"/>
<circle cx="249.94" cy="500.77" r="1.8" fill="#3579a6" fill-opacity="0.85"/>
<circle cx="251.44" cy="468.16" r="1.8" fill="#3579a6" fill-opacity="0.85"/>
<circle cx="250.33" cy="474.69" r="1.8" fill="#3579a6" fill-opacity="0.85"/>
<circle cx="247.69" cy="526.86" r="1.8" fill="#3579a6" fill-opacity="0.85"/>
<circle cx="244.38" cy="500.77" r="1.8" fill="#3579a6" fill-opacity="0.85"/>
<circle cx="245.24" cy="572.51" r="1.8" fill="#3579a6" fill-opacity="0.85"/>
<circle cx="244.29" cy="448.60" r="1.8" fill="#3579a6" fill-opacity="0.85"/>
<circle cx="251.30" cy="468.16" r="1.8" fill="#3579a6" fill-opacity="0.85"/>
<circle cx="250.36" cy="526.86" r="1.8" fill="#3579a6" fill-opacity="0.85"/>
<circle cx="251.15" cy="461.64" r="1.8" fill="#3579a6" fill-opacity="0.85"/>
<circle cx="250.12" cy="546.42" r="1.8" fill="#3579a6" fill-opacity="0.85"/>
<circle cx="247.53" cy="448.60" r="1.8" fill="#3579a6" fill-opacity="0.85"/>
<circle cx="248.41" cy="526.86" r="1.8" fill="#3579a6" fill-opacity="0.85"/>
<circle cx="244.10" cy="520.34" r="1.8" fill="#3579a6" fill-opacity="0.85"/>
<circle cx="245.18" cy="513.81" r="1.8" fill="#3579a6" fill-opacity="0.85"/>
<circle cx="247.10" cy="455.12" r="1.8" fill="#3579a6" fill-opacity="0.85"/>
<circle cx="244.33" cy="546.42" r="1.8" fill="#3579a6" fill-opacity="0.85"/>
<circle cx="246.45" cy="507.29" r="1.8" fill="#3579a6" fill-opacity="0.85"/>
<circle cx="248.05" cy="487.73" r="1.8" fill="#3579a6" fill-opacity="0.85"/>
<circle cx="245.19" cy="513.81" r="1.8" fill="#3579a6" fill-opacity="0.85"/>
<circle cx="245.32" cy="448.60" r="1.8" fill="#3579a6" fill-opacity="0.85"/>
<circle cx="244.58" cy="455.12" r="1.8" fill="#3579a6" fill-opacity="0.85"/>
<circle cx="247.56" cy="526.86" r="1.8" fill="#3579a6" fill-opacity="0.85"/>
<circle cx="250.60" cy="539.90" r="1.8" fill="#3579a6" fill-opacity="0.85"/>
<circle cx="247.48" cy="624.68" r="1.8" fill="#3579a6" fill-opacity="0.85"/>
<circle cx="249.53" cy="494.25" r="1.8" fill="#3579a6" fill-opacity="0.85"/>
<circle cx="249.63" cy="507.29" r="1.8" fill="#3579a6" fill-opacity="0.85"/>
<circle cx="250.33" cy="468.16" r="1.8" fill="#3579a6" fill-opacity="0.85"/>
<circle cx="250.27" cy="507.29" r="1.8" fill="#3579a6" fill-opacity="0.85"/>
<circle cx="247.90" cy="487.73" r="1.8" fill="#3579a6" fill-opacity="0.85"/>
<circle cx="244.27" cy="526.86" r="1.8" fill="#3579a6" fill-opacity="0.85"/>
<circle cx="245.25" cy="500.77" r="1.8" fill="#3579a6" fill-opacity="0.85"/>
<circle cx="246.13" cy="474.69" r="1.8" fill="#3579a6" fill-opacity="0.85"/>
<circle cx="246.60" cy="487.73" r="1.8" fill="#3579a6" fill-opacity="0.85"/>
<circle cx="248.69" cy="526.86" r="1.8" fill="#3579a6" fill-opacity="0.85"/>
<circle cx="247.88" cy="494.25" r="1.8" fill="#3579a6" fill-opacity="0.85"/>
<circle cx="246.21" cy="598.59" r="1.8" fill="#3579a6" fill-opacity="0.85"/>
<circle cx="245.24" cy="487.73" r="1.8" fill="#3579a6" fill-opacity="0.85"/>
<circle cx="249.81" cy="500.77" r="1.8" fill="#3579a6" fill-opacity="0.85"/>
<circle cx="251.86" cy="507.29" r="1.8" fill="#3579a6" fill-opacity="0.85"/>
<circle cx="249.51" cy="526.86" r="1.8" fill="#3579a6" fill-opacity="0.85"/>
<circle cx="245.03" cy="487.73" r="1.8" fill="#3579a6" fill-opacity="0.85"/>
<circle cx="249.46" cy="513.81" r="1.8" fill="#3579a6" fill-opacity="0.85"/>
<circle cx="250.30" cy="487.73" r="1.8" fill="#3579a6" fill-opacity="0.85"/>
<circle cx="248.20" cy="507.29" r="1.8" fill="#3579a6" fill-opacity="0.85"/>
<circle cx="248.97" cy="592.07" r="1.8" fill="#3579a6" fill-opacity="0.85"/>
<circle cx="250.80" cy="533.38" r="1.8" fill="#3579a6" fill-opacity="0.85"/>
<circle cx="247.73" cy="487.73" r="1.8" fill="#3579a6" fill-opacity="0.85"/>
<circle cx="249.55" cy="494.25" r="1.8" fill="#3579a6" fill-opacity="0.85"/>
<circle cx="245.25" cy="559.46" r="1.8" fill="#3579a6" fill-opacity="0.85"/>
<circle cx="250.59" cy="487.73" r="1.8" fill="#3579a6" fill-opacity="0.85"/>
<circle cx="248.47" cy="487.73" r="1.8" fill="#3579a6" fill-opacity="0.85"/>
<circle cx="245.43" cy="539.90" r="1.8" fill="#3579a6" fill-opacity="0.85"/>
<circle cx="248.90" cy="448.60" r="1.8" fill="#3579a6" fill-opacity="0.85"/>
<circle cx="250.50" cy="624.68" r="1.8" fill="#3579a6" fill-opacity="0.85"/>
<circle cx="247.46" cy="507.29" r="1.8" fill="#3579a6" fill-opacity="0.85"/>
<circle cx="246.40" cy="500.77" r="1.8" fill="#3579a6" fill-opacity="0.85"/>
<circle cx="249.59" cy="559.46" r="1.8" fill="#3579a6" fill-opacity="0.85"/>
<circle cx="251.86" cy="520.34" r="1.8" fill="#3579a6" fill-opacity="0.85"/>
<circle cx="251.59" cy="481.21" r="1.8" fill="#3579a6" fill-opacity="0.85"/>
<circle cx="246.38" cy="474.69" r="1.8" fill="#3579a6" fill-opacity="0.85"/>
<circle cx="247.79" cy="474.69" r="1.8" fill="#3579a6" fill-opacity="0.85"/>
<circle cx="246.91" cy="448.60" r="1.8" fill="#3579a6" fill-opacity="0.85"/>
<circle cx="245.04" cy="520.34" r="1.8" fill="#3579a6" fill-opacity="0.85"/>
<circle cx="248.27" cy="448.60" r="1.8" fill="#3579a6" fill-opacity="0.85"/>
<circle cx="246.20" cy="455.12" r="1.8" fill="#3579a6" fill-opacity="0.85"/>
<circle cx="247.72" cy="513.81" r="1.8" fill="#3579a6" fill-opacity="0.85"/>
<circle cx="250.53" cy="448.60" r="1.8" fill="#3579a6" fill-opacity="0.85"/>
<circle cx="248.34" cy="513.81" r="1.8" fill="#3579a6" fill-opacity="0.85"/>
<circle cx="251.82" cy="513.81" r="1.8" fill="#3579a6" fill-opacity="0.85"/>
<circle cx="245.52" cy="513.81" r="1.8" fill="#3579a6" fill-opacity="0.85"/>
<circle cx="245.38" cy="474.69" r="1.8" fill="#3579a6" fill-opacity="0.85"/>
<circle cx="244.42" cy="507.29" r="1.8" fill="#3579a6" fill-opacity="0.85"/>
<circle cx="249.55" cy="487.73" r="1.8" fill="#3579a6" fill-opacity="0.85"/>
<circle cx="246.19" cy="507.29" r="1.8" fill="#3579a6" fill-opacity="0.85"/>
<circle cx="245.65" cy="481.21" r="1.8" fill="#3579a6" fill-opacity="0.85"/>
<circle cx="248.99" cy="500.77" r="1.8" fill="#3579a6" fill-opacity="0.85"/>
<circle cx="251.81" cy="487.73" r="1.8" fill="#3579a6" fill-opacity="0.85"/>
<circle cx="249.93" cy="494.25" r="1.8" fill="#3579a6" fill-opacity="0.85"/>
<circle cx="251.56" cy="539.90" r="1.8" fill="#3579a6" fill-opacity="0.85"/>
<circle cx="251.36" cy="455.12" r="1.8" fill="#3579a6" fill-opacity="0.85"/>
<circle cx="248.12" cy="494.25" r="1.8" fill="#3579a6" fill-opacity="0.85"/>
<circle cx="245.66" cy="526.86" r="1.8" fill="#3579a6" fill-opacity="0.85"/>
<circle cx="250.02" cy="448.60" r="1.8" fill="#3579a6" fill-opacity="0.85"/>
<circle cx="245.64" cy="448.60" r="1.8" fill="#3579a6" fill-opacity="0.85"/>
<circle cx="244.46" cy="494.25" r="1.8" fill="#3579a6" fill-opacity="0.85"/>
<circle cx="246.89" cy="579.03" r="1.8" fill="#3579a6" fill-opacity="0.85"/>
<circle cx="249.81" cy="487.73" r="1.8" fill="#3579a6" fill-opacity="0.85"/>
<circle cx="248.96" cy="448.60" r="1.8" fill="#3579a6" fill-opacity="0.85"/>
<circle cx="247.18" cy="487.73" r="1.8" fill="#3579a6" fill-opacity="0.85"/>
<circle cx="244.91" cy="468.16" r="1.8" fill="#3579a6" fill-opacity="0.85"/>
<circle cx="245.28" cy="481.21" r="1.8" fill="#3579a6" fill-opacity="0.85"/>
<circle cx="248.70" cy="455.12" r="1.8" fill="#3579a6" fill-opacity="0.85"/>
<circle cx="247.85" cy="513.81" r="1.8" fill="#3579a6" fill-opacity="0.85"/>
<circle cx="248.24" cy="487.73" r="1.8" fill="#3579a6" fill-opacity="0.85"/>
<circle cx="249.84" cy="546.42" r="1.8" fill="#3579a6" fill-opacity="0.85"/>
<circle cx="248.49" cy="448.60" r="1.8" fill="#3579a6" fill-opacity="0.85"/>
<circle cx="250.84" cy="487.73" r="1.8" fill="#3579a6" fill-opacity="0.85"/>
<circle cx="251.26" cy="565.99" r="1.8" fill="#3579a6" fill-opacity="0.85"/>
<circle cx="248.05" cy="513.81" r="1.8" fill="#3579a6" fill-opacity="0.85"/>
<circle cx="246.78" cy="494.25" r="1.8" fill="#3579a6" fill-opacity="0.85"/>
<circle cx="247.93" cy="487.73" r="1.8" fill="#3579a6" fill-opacity="0.85"/>
<circle cx="245.90" cy="474.69" r="1.8" fill="#3579a6" fill-opacity="0.85"/>
<circle cx="245.30" cy="592.07" r="1.8" fill="#3579a6" fill-opacity="0.85"/>
<circle cx="249.66" cy="487.73" r="1.8" fill="#3579a6" fill-opacity="0.85"/>
<circle cx="247.43" cy="487.73" r="1.8" fill="#3579a6" fill-opacity="0.85"/>
<circle cx="244.08" cy="468.16" r="1.8" fill="#3579a6" fill-opacity="0.85"/>
<circle cx="247.04" cy="618.16" r="1.8" fill="#3579a6" fill-opacity="0.85"/>
<circle cx="246.47" cy="520.34" r="1.8" fill="#3579a6" fill-opacity="0.85"/>
<circle cx="244.39" cy="474.69" r="1.8" fill="#3579a6" fill-opacity="0.85"/>
<circle cx="244.08" cy="461.64" r="1.8" fill="#3579a6" fill-opacity="0.85"/>
<circle cx="248.81" cy="474.69" r="1.8" fill="#3579a6" fill-opacity="0.85"/>
<circle cx="250.34" cy="520.34" r="1.8" fill="#3579a6" fill-opacity="0.85"/>
<circle cx="250.61" cy="513.81" r="1.8" fill="#3579a6" fill-opacity="0.85"/>
<circle cx="248.68" cy="507.29" r="1.8" fill="#3579a6" fill-opacity="0.85"/>
<circle cx="245.71" cy="500.77" r="1.8" fill="#3579a6" fill-opacity="0.85"/>
<circle cx="249.00" cy="461.64" r="1.8" fill="#3579a6" fill-opacity="0.85"/>
<circle cx="246.05" cy="526.86" r="1.8" fill="#3579a6" fill-opacity="0.85"/>
<circle cx="245.75" cy="559.46" r="1.8" fill="#3579a6" fill-opacity="0.85"/>
<circle cx="246.53" cy="631.20" r="1.8" fill="#3579a6" fill-opacity="0.85"/>
<circle cx="244.98" cy="585.55" r="1.8" fill="#3579a6" fill-opacity="0.85"/>
<circle cx="244.79" cy="594.68" r="1.8" fill="#3579a6" fill-opacity="0.85"/>
<circle cx="251.79" cy="605.64" r="1.8" fill="#3579a6" fill-opacity="0.85"/>
<circle cx="244.57" cy="576.42" r="1.8" fill="#3579a6" fill-opacity="0.85"/>
<circle cx="333.76" cy="460.25" r="1.8" fill="#d6718f" fill-opacity="0.8"/>
<circle cx="331.22" cy="502.65" r="1.8" fill="#d6718f" fill-opacity="0.8"/>
<circle cx="327.91" cy="496.65" r="1.8" fill="#d6718f" fill-opacity="0.8"/>
<circle cx="331.25" cy="507.59" r="1.8" fill="#d6718f" fill-opacity="0.8"/>
<circle cx="328.55" cy="502.81" r="1.8" fill="#d6718f" fill-opacity="0.8"/>
<circle cx="330.77" cy="510.44" r="1.8" fill="#d6718f" fill-opacity="0.8"/>
<circle cx="330.65" cy="522.14" r="1.8" fill="#d6718f" fill-opacity="0.8"/>
<circle cx="332.76" cy="497.38" r="1.8" fill="#d6718f" fill-opacity="0.8"/>
<circle cx="333.75" cy="487.17" r="1.8" fill="#d6718f" fill-opacity="0.8"/>
<circle cx="327.72" cy="502.39" r="1.8" fill="#d6718f" fill-opacity="0.8"/>
<circle cx="333.51" cy="464.67" r="1.8" fill="#d6718f" fill-opacity="0.8"/>
<circle cx="333.95" cy="494.63" r="1.8" fill="#d6718f" fill-opacity="0.8"/>
<circle cx="328.29" cy="529.97" r="1.8" fill="#d6718f" fill-opacity="0.8"/>
<circle cx="327.78" cy="501.47" r="1.8" fill="#d6718f" fill-opacity="0.8"/>
<circle cx="330.54" cy="476.51" r="1.8" fill="#d6718f" fill-opacity="0.8"/>
<circle cx="327.43" cy="484.28" r="1.8" fill="#d6718f" fill-opacity="0.8"/>
<circle cx="328.10" cy="503.35" r="1.8" fill="#d6718f" fill-opacity="0.8"/>
<circle cx="330.88" cy="527.02" r="1.8" fill="#d6718f" fill-opacity="0.8"/>
<circle cx="328.71" cy="497.31" r="1.8" fill="#d6718f" fill-opacity="0.8"/>
<circle cx="331.52" cy="493.28" r="1.8" fill="#d6718f" fill-opacity="0.8"/>
<circle cx="328.70" cy="448.60" r="1.8" fill="#d6718f" fill-opacity="0.8"/>
<circle cx="332.00" cy="482.37" r="1.8" fill="#d6718f" fill-opacity="0.8"/>
<circle cx="331.69" cy="497.44" r="1.8" fill="#d6718f" fill-opacity="0.8"/>
<circle cx="327.74" cy="487.06" r="1.8" fill="#d6718f" fill-opacity="0.8"/>
<circle cx="332.13" cy="500.31" r="1.8" fill="#d6718f" fill-opacity="0.8"/>
<circle cx="333.84" cy="480.29" r="1.8" fill="#d6718f" fill-opacity="0.8"/>
<circle cx="334.36" cy="503.33" r="1.8" fill="#d6718f" fill-opacity="0.8"/>
<circle cx="327.50" cy="498.11" r="1.8" fill="#d6718f" fill-opacity="0.8"/>
<circle cx="332.15" cy="529.24" r="1.8" fill="#d6718f" fill-opacity="0.8"/>
<circle cx="329.50" cy="504.60" r="1.8" fill="#d6718f" fill-opacity="0.8"/>
<circle cx="330.20" cy="527.25" r="1.8" fill="#d6718f" fill-opacity="0.8"/>
<circle cx="330.51" cy="503.28" r="1.8" fill="#d6718f" fill-opacity="0.8"/>
<circle cx="327.55" cy="494.82" r="1.8" fill="#d6718f" fill-opacity="0.8"/>
<circle cx="331.73" cy="472.46" r="1.8" fill="#d6718f" fill-opacity="0.8"/>
<circle cx="328.14" cy="496.30" r="1.8" fill="#d6718f" fill-opacity="0.8"/>
<circle cx="333.36" cy="515.53" r="1.8" fill="#d6718f" fill-opacity="0.8"/>
<circle cx="327.93" cy="489.00" r="1.8" fill="#d6718f" fill-opacity="0.8"/>
<circle cx="331.68" cy="509.75" r="1.8" fill="#d6718f" fill-opacity="0.8"/>
<circle cx="331.19" cy="546.21" r="1.8" fill="#d6718f" fill-opacity="0.8"/>
<circle cx="327.43" cy="489.05" r="1.8" fill="#d6718f" fill-opacity="0.8"/>
<circle cx="328.02" cy="505.93" r="1.8" fill="#d6718f" fill-opacity="0.8"/>
<circle cx="330.77" cy="512.40" r="1.8" fill="#d6718f" fill-opacity="0.8"/>
<circle cx="330.01" cy="508.93" r="1.8" fill="#d6718f" fill-opacity="0.8"/>
<circle cx="328.32" cy="481.65" r="1.8" fill="#d6718f" fill-opacity="0.8"/>
<circle cx="327.93" cy="495.88" r="1.8" fill="#d6718f" fill-opacity="0.8"/>
<circle cx="328.87" cy="518.70" r="1.8" fill="#d6718f" fill-opacity="0.8"/>
<circle cx="333.06" cy="476.97" r="1.8" fill="#d6718f" fill-opacity="0.8"/>
<circle cx="328.19" cy="527.31" r="1.8" fill="#d6718f" fill-opacity="0.8"/>
<circle cx="332.65" cy="481.89" r="1.8" fill="#d6718f" fill-opacity="0.8"/>
<circle cx="328.02" cy="521.59" r="1.8" fill="#d6718f" fill-opacity="0.8"/>
<circle cx="333.08" cy="503.30" r="1.8" fill="#d6718f" fill-opacity="0.8"/>
<circle cx="332.75" cy="460.60" r="1.8" fill="#d6718f" fill-opacity="0.8"/>
<circle cx="333.55" cy="503.14" r="1.8" fill="#d6718f" fill-opacity="0.8"/>
<circle cx="330.01" cy="493.06" r="1.8" fill="#d6718f" fill-opacity="0.8"/>
<circle cx="334.22" cy="510.58" r="1.8" fill="#d6718f" fill-opacity="0.8"/>
<circle cx="330.18" cy="491.37" r="1.8" fill="#d6718f" fill-opacity="0.8"/>
<circle cx="331.74" cy="479.37" r="1.8" fill="#d6718f" fill-opacity="0.8"/>
<circle cx="333.17" cy="487.78" r="1.8" fill="#d6718f" fill-opacity="0.8"/>
<circle cx="328.29" cy="462.18" r="1.8" fill="#d6718f" fill-opacity="0.8"/>
<circle cx="327.53" cy="505.94" r="1.8" fill="#d6718f" fill-opacity="0.8"/>
<circle cx="332.20" cy="524.78" r="1.8" fill="#d6718f" fill-opacity="0.8"/>
<circle cx="328.83" cy="483.39" r="1.8" fill="#d6718f" fill-opacity="0.8"/>
<circle cx="328.78" cy="519.26" r="1.8" fill="#d6718f" fill-opacity="0.8"/>
<circle cx="330.75" cy="476.16" r="1.8" fill="#d6718f" fill-opacity="0.8"/>
<circle cx="328.44" cy="499.17" r="1.8" fill="#d6718f" fill-opacity="0.8"/>
<circle cx="329.15" cy="449.53" r="1.8" fill="#d6718f" fill-opacity="0.8"/>
<circle cx="328.66" cy="489.06" r="1.8" fill="#d6718f" fill-opacity="0.8"/>
<circle cx="327.86" cy="520.84" r="1.8" fill="#d6718f" fill-opacity="0.8"/>
<circle cx="333.07" cy="517.59" r="1.8" fill="#d6718f" fill-opacity="0.8"/>
<circle cx="333.28" cy="503.98" r="1.8" fill="#d6718f" fill-opacity="0.8"/>
<circle cx="332.47" cy="490.20" r="1.8" fill="#d6718f" fill-opacity="0.8"/>
<circle cx="330.37" cy="540.77" r="1.8" fill="#d6718f" fill-opacity="0.8"/>
<circle cx="333.84" cy="485.98" r="1.8" fill="#d6718f" fill-opacity="0.8"/>
<circle cx="331.11" cy="501.16" r="1.8" fill="#d6718f" fill-opacity="0.8"/>
<circle cx="331.19" cy="482.14" r="1.8" fill="#d6718f" fill-opacity="0.8"/>
<circle cx="327.35" cy="505.21" r="1.8" fill="#d6718f" fill-opacity="0.8"/>
<circle cx="329.76" cy="477.28" r="1.8" fill="#d6718f" fill-opacity="0.8"/>
<circle cx="328.76" cy="480.32" r="1.8" fill="#d6718f" fill-opacity="0.8"/>
<circle cx="331.94" cy="503.17" r="1.8" fill="#d6718f" fill-opacity="0.8"/>
<circle cx="334.13" cy="505.44" r="1.8" fill="#d6718f" fill-opacity="0.8"/>
<circle cx="331.72" cy="534.48" r="1.8" fill="#d6718f" fill-opacity="0.8"/>
<circle cx="329.50" cy="544.82" r="1.8" fill="#d6718f" fill-opacity="0.8"/>
<circle cx="333.19" cy="487.98" r="1.8" fill="#d6718f" fill-opacity="0.8"/>
<circle cx="327.78" cy="539.85" r="1.8" fill="#d6718f" fill-opacity="0.8"/>
<circle cx="333.00" cy="484.37" r="1.8" fill="#d6718f" fill-opacity="0.8"/>
<circle cx="327.51" cy="478.03" r="1.8" fill="#d6718f" fill-opacity="0.8"/>
<circle cx="334.15" cy="495.64" r="1.8" fill="#d6718f" fill-opacity="0.8"/>
<circle cx="332.63" cy="473.26" r="1.8" fill="#d6718f" fill-opacity="0.8"/>
<circle cx="334.29" cy="448.60" r="1.8" fill="#d6718f" fill-opacity="0.8"/>
<circle cx="330.67" cy="548.83" r="1.8" fill="#d6718f" fill-opacity="0.8"/>
<circle cx="331.94" cy="498.84" r="1.8" fill="#d6718f" fill-opacity="0.8"/>
<circle cx="330.08" cy="465.71" r="1.8" fill="#d6718f" fill-opacity="0.8"/>
<circle cx="332.61" cy="545.39" r="1.8" fill="#d6718f" fill-opacity="0.8"/>
<circle cx="331.07" cy="535.91" r="1.8" fill="#d6718f" fill-opacity="0.8"/>
<circle cx="330.49" cy="507.37" r="1.8" fill="#d6718f" fill-opacity="0.8"/>
<circle cx="332.98" cy="492.38" r="1.8" fill="#d6718f" fill-opacity="0.8"/>
<circle cx="333.97" cy="485.27" r="1.8" fill="#d6718f" fill-opacity="0.8"/>
<circle cx="329.20" cy="488.31" r="1.8" fill="#d6718f" fill-opacity="0.8"/>
<circle cx="329.05" cy="506.40" r="1.8" fill="#d6718f" fill-opacity="0.8"/>
<circle cx="334.36" cy="494.51" r="1.8" fill="#d6718f" fill-opacity="0.8"/>
<circle cx="329.63" cy="501.57" r="1.8" fill="#d6718f" fill-opacity="0.8"/>
<circle cx="329.85" cy="510.64" r="1.8" fill="#d6718f" fill-opacity="0.8"/>
<circle cx="331.14" cy="459.53" r="1.8" fill="#d6718f" fill-opacity="0.8"/>
<circle cx="329.29" cy="486.11" r="1.8" fill="#d6718f" fill-opacity="0.8"/>
<circle cx="330.48" cy="534.84" r="1.8" fill="#d6718f" fill-opacity="0.8"/>
<circle cx="329.18" cy="486.85" r="1.8" fill="#d6718f" fill-opacity="0.8"/>
<circle cx="330.38" cy="516.67" r="1.8" fill="#d6718f" fill-opacity="0.8"/>
<circle cx="332.95" cy="506.93" r="1.8" fill="#d6718f" fill-opacity="0.8"/>
<circle cx="332.70" cy="454.06" r="1.8" fill="#d6718f" fill-opacity="0.8"/>
<circle cx="333.89" cy="476.11" r="1.8" fill="#d6718f" fill-opacity="0.8"/>
<circle cx="333.92" cy="504.00" r="1.8" fill="#d6718f" fill-opacity="0.8"/>
<circle cx="329.12" cy="512.77" r="1.8" fill="#d6718f" fill-opacity="0.8"/>
<circle cx="332.81" cy="466.97" r="1.8" fill="#d6718f" fill-opacity="0.8"/>
<circle cx="332.19" cy="479.56" r="1.8" fill="#d6718f" fill-opacity="0.8"/>
<circle cx="331.71" cy="460.66" r="1.8" fill="#d6718f" fill-opacity="0.8"/>
<circle cx="330.71" cy="512.72" r="1.8" fill="#d6718f" fill-opacity="0.8"/>
<circle cx="333.83" cy="448.60" r="1.8" fill="#d6718f" fill-opacity="0.8"/>
<circle cx="331.26" cy="531.36" r="1.8" fill="#d6718f" fill-opacity="0.8"/>
<circle cx="333.96" cy="485.46" r="1.8" fill="#d6718f" fill-opacity="0.8"/>
<circle cx="327.96" cy="485.27" r="1.8" fill="#d6718f" fill-opacity="0.8"/>
<circle cx="329.78" cy="507.35" r="1.8" fill="#d6718f" fill-opacity="0.8"/>
<circle cx="328.16" cy="493.64" r="1.8" fill="#d6718f" fill-opacity="0.8"/>
<circle cx="332.39" cy="539.53" r="1.8" fill="#d6718f" fill-opacity="0.8"/>
<circle cx="330.50" cy="491.70" r="1.8" fill="#d6718f" fill-opacity="0.8"/>
<circle cx="329.51" cy="499.04" r="1.8" fill="#d6718f" fill-opacity="0.8"/>
<circle cx="329.63" cy="452.38" r="1.8" fill="#d6718f" fill-opacity="0.8"/>
<circle cx="330.69" cy="497.33" r="1.8" fill="#d6718f" fill-opacity="0.8"/>
<circle cx="329.41" cy="452.41" r="1.8" fill="#d6718f" fill-opacity="0.8"/>
<circle cx="330.75" cy="485.47" r="1.8" fill="#d6718f" fill-opacity="0.8"/>
<circle cx="331.68" cy="490.57" r="1.8" fill="#d6718f" fill-opacity="0.8"/>
<circle cx="327.34" cy="466.12" r="1.8" fill="#d6718f" fill-opacity="0.8"/>
<circle cx="328.78" cy="487.15" r="1.8" fill="#d6718f" fill-opacity="0.8"/>
<circle cx="330.98" cy="459.90" r="1.8" fill="#d6718f" fill-opacity="0.8"/>
<circle cx="331.97" cy="490.93" r="1.8" fill="#d6718f" fill-opacity="0.8"/>
<circle cx="331.47" cy="540.84" r="1.8" fill="#d6718f" fill-opacity="0.8"/>
<circle cx="332.48" cy="470.65" r="1.8" fill="#d6718f" fill-opacity="0.8"/>
<circle cx="330.32" cy="529.83" r="1.8" fill="#d6718f" fill-opacity="0.8"/>
<circle cx="333.77" cy="466.34" r="1.8" fill="#d6718f" fill-opacity="0.8"/>
<circle cx="332.73" cy="495.77" r="1.8" fill="#d6718f" fill-opacity="0.8"/>
<circle cx="330.83" cy="519.07" r="1.8" fill="#d6718f" fill-opacity="0.8"/>
<circle cx="331.31" cy="490.23" r="1.8" fill="#d6718f" fill-opacity="0.8"/>
<circle cx="332.99" cy="527.66" r="1.8" fill="#d6718f" fill-opacity="0.8"/>
<circle cx="329.22" cy="516.95" r="1.8" fill="#d6718f" fill-opacity="0.8"/>
<circle cx="329.23" cy="509.90" r="1.8" fill="#d6718f" fill-opacity="0.8"/>
<circle cx="330.79" cy="479.70" r="1.8" fill="#d6718f" fill-opacity="0.8"/>
<circle cx="330.84" cy="472.30" r="1.8" fill="#d6718f" fill-opacity="0.8"/>
<circle cx="327.57" cy="521.16" r="1.8" fill="#d6718f" fill-opacity="0.8"/>
<circle cx="330.82" cy="499.04" r="1.8" fill="#d6718f" fill-opacity="0.8"/>
<circle cx="333.81" cy="481.61" r="1.8" fill="#d6718f" fill-opacity="0.8"/>
<circle cx="333.43" cy="497.64" r="1.8" fill="#d6718f" fill-opacity="0.8"/>
<circle cx="331.09" cy="578.25" r="1.8" fill="#d6718f" fill-opacity="0.8"/>
<circle cx="332.24" cy="580.07" r="1.8" fill="#d6718f" fill-opacity="0.8"/>
<circle cx="329.87" cy="592.85" r="1.8" fill="#d6718f" fill-opacity="0.8"/>
<circle cx="305.60" cy="537.40" r="1.9" fill="#ee9c5e" fill-opacity="0.95"/>
<circle cx="306.20" cy="541.20" r="1.9" fill="#ee9c5e" fill-opacity="0.95"/>
<circle cx="302.40" cy="546.10" r="1.9" fill="#ee9c5e" fill-opacity="0.95"/>
<circle cx="301.20" cy="547.60" r="1.9" fill="#ee9c5e" fill-opacity="0.95"/>
<circle cx="299.50" cy="538.50" r="1.9" fill="#ee9c5e" fill-opacity="0.95"/>
<circle cx="304.00" cy="543.50" r="1.9" fill="#ee9c5e" fill-opacity="0.95"/>
<line x1="82.20" y1="539.90" x2="358.80" y2="539.90" stroke="#333" stroke-width="2.5" stroke-linecap="butt" stroke-dasharray="8.75 3.65"/>
<line x1="218.00" y1="435.80" x2="218.00" y2="632.00" stroke="#111" stroke-width="2.0" stroke-linecap="butt" stroke-dasharray="6.2 3.1"/>
<line x1="110.00" y1="456.40" x2="110.00" y2="514.60" stroke="#444" stroke-width="2.8" stroke-linecap="butt"/>
<line x1="105.80" y1="456.40" x2="114.20" y2="456.40" stroke="#444" stroke-width="2.6" stroke-linecap="butt"/>
<line x1="105.80" y1="514.60" x2="114.20" y2="514.60" stroke="#444" stroke-width="2.6" stroke-linecap="butt"/>
<circle cx="110.00" cy="485.60" r="4.1" fill="#444"/>
<line x1="137.50" y1="462.00" x2="137.50" y2="511.80" stroke="#444" stroke-width="2.8" stroke-linecap="butt"/>
<line x1="133.30" y1="462.00" x2="141.70" y2="462.00" stroke="#444" stroke-width="2.6" stroke-linecap="butt"/>
<line x1="133.30" y1="511.80" x2="141.70" y2="511.80" stroke="#444" stroke-width="2.6" stroke-linecap="butt"/>
<circle cx="137.50" cy="487.20" r="4.1" fill="#444"/>
<line x1="165.30" y1="457.60" x2="165.30" y2="506.60" stroke="#444" stroke-width="2.8" stroke-linecap="butt"/>
<line x1="161.10" y1="457.60" x2="169.50" y2="457.60" stroke="#444" stroke-width="2.6" stroke-linecap="butt"/>
<line x1="161.10" y1="506.60" x2="169.50" y2="506.60" stroke="#444" stroke-width="2.6" stroke-linecap="butt"/>
<circle cx="165.30" cy="482.10" r="4.1" fill="#444"/>
<line x1="192.80" y1="456.90" x2="192.80" y2="506.60" stroke="#444" stroke-width="2.8" stroke-linecap="butt"/>
<line x1="188.60" y1="456.90" x2="197.00" y2="456.90" stroke="#444" stroke-width="2.6" stroke-linecap="butt"/>
<line x1="188.60" y1="506.60" x2="197.00" y2="506.60" stroke="#444" stroke-width="2.6" stroke-linecap="butt"/>
<circle cx="192.80" cy="481.90" r="4.1" fill="#444"/>
<line x1="247.90" y1="466.40" x2="247.90" y2="547.60" stroke="#444" stroke-width="2.8" stroke-linecap="butt"/>
<line x1="243.70" y1="466.40" x2="252.10" y2="466.40" stroke="#444" stroke-width="2.6" stroke-linecap="butt"/>
<line x1="243.70" y1="547.60" x2="252.10" y2="547.60" stroke="#444" stroke-width="2.6" stroke-linecap="butt"/>
<circle cx="247.90" cy="507.50" r="4.1" fill="#444"/>
<line x1="330.80" y1="473.00" x2="330.80" y2="536.20" stroke="#444" stroke-width="2.8" stroke-linecap="butt"/>
<line x1="326.60" y1="473.00" x2="335.00" y2="473.00" stroke="#444" stroke-width="2.6" stroke-linecap="butt"/>
<line x1="326.60" y1="536.20" x2="335.00" y2="536.20" stroke="#444" stroke-width="2.6" stroke-linecap="butt"/>
<circle cx="330.80" cy="504.60" r="4.1" fill="#444"/>
<circle cx="275.60" cy="539.90" r="4.1" fill="#444"/>
<circle cx="302.90" cy="540.20" r="4.1" fill="#444"/>
<line x1="81.00" y1="633.30" x2="359.60" y2="633.30" stroke="#262626" stroke-width="2.8" stroke-linecap="butt"/>
<line x1="151.10" y1="633.30" x2="151.10" y2="642.00" stroke="#262626" stroke-width="1.7" stroke-linecap="butt"/>
<line x1="288.90" y1="633.30" x2="288.90" y2="642.00" stroke="#262626" stroke-width="1.7" stroke-linecap="butt"/>
<text x="151.10" y="656.00" font-size="13.3" text-anchor="middle" fill="#262626">Trained</text>
<text x="151.10" y="671.50" font-size="13.3" text-anchor="middle" fill="#262626">(learning)</text>
<text x="288.90" y="656.00" font-size="13.3" text-anchor="middle" fill="#262626">Untrained</text>
<text x="288.90" y="671.50" font-size="13.3" text-anchor="middle" fill="#262626">(generalization)</text>
<text x="68.70" y="621.50" font-size="15.4" text-anchor="start" fill="#000">Data only from the testing stage</text>
<rect x="94.90" y="685.60" width="251.20" height="21.00" fill="#fff" stroke="#cccccc" stroke-width="1"/>
<line x1="110.20" y1="689.20" x2="110.20" y2="703.20" stroke="#444" stroke-width="2.8" stroke-linecap="butt"/>
<line x1="105.60" y1="689.20" x2="114.80" y2="689.20" stroke="#444" stroke-width="2.6" stroke-linecap="butt"/>
<line x1="105.60" y1="703.20" x2="114.80" y2="703.20" stroke="#444" stroke-width="2.6" stroke-linecap="butt"/>
<circle cx="110.20" cy="696.20" r="4.1" fill="#444"/>
<text x="121.70" y="701.40" font-size="13.8" text-anchor="start" fill="#000">mean ± SD across 165 participants</text>
<text x="387.40" y="288.70" font-size="20" text-anchor="start" fill="#000" font-weight="bold">E</text>
<text x="441.20" y="292.20" font-size="12.8" text-anchor="start" fill="#000">Data only from the trained associations</text>
<path d="M473.70 386.50 L484.94 369.90 L496.18 362.60 L507.42 356.70 L518.66 352.30 L529.90 349.40 L541.14 345.00 L552.38 341.50 L563.62 338.60 L574.86 335.70 L586.10 333.40 L597.34 333.40 L608.58 333.60 L619.82 333.80 L631.06 334.00 L642.30 334.20 L642.30 342.70 L631.06 342.30 L619.82 342.00 L608.58 341.80 L597.34 341.50 L586.10 341.50 L574.86 341.50 L563.62 344.50 L552.38 347.40 L541.14 350.90 L529.90 356.10 L518.66 360.20 L507.42 362.60 L496.18 369.90 L484.94 378.60 L473.70 393.20 Z" fill="#e0e0e0" stroke="#e0e0e0" stroke-width="0.8" stroke-linejoin="round"/>
<line x1="456.30" y1="316.30" x2="456.30" y2="402.60" stroke="#262626" stroke-width="2.6" stroke-linecap="butt"/>
<line x1="448.60" y1="317.30" x2="456.30" y2="317.30" stroke="#262626" stroke-width="1.7" stroke-linecap="butt"/>
<text x="444.30" y="321.40" font-size="11.5" text-anchor="end" fill="#262626">0.9</text>
<line x1="448.60" y1="335.93" x2="456.30" y2="335.93" stroke="#262626" stroke-width="1.7" stroke-linecap="butt"/>
<line x1="448.60" y1="354.55" x2="456.30" y2="354.55" stroke="#262626" stroke-width="1.7" stroke-linecap="butt"/>
<text x="444.30" y="358.65" font-size="11.5" text-anchor="end" fill="#262626">0.7</text>
<line x1="448.60" y1="373.18" x2="456.30" y2="373.18" stroke="#262626" stroke-width="1.7" stroke-linecap="butt"/>
<line x1="448.60" y1="391.80" x2="456.30" y2="391.80" stroke="#262626" stroke-width="1.7" stroke-linecap="butt"/>
<text x="444.30" y="395.90" font-size="11.5" text-anchor="end" fill="#262626">0.5</text>
<line x1="464.10" y1="401.40" x2="652.20" y2="401.40" stroke="#262626" stroke-width="2.6" stroke-linecap="butt"/>
<line x1="473.70" y1="401.40" x2="473.70" y2="408.60" stroke="#262626" stroke-width="1.7" stroke-linecap="butt"/>
<line x1="529.90" y1="401.40" x2="529.90" y2="408.60" stroke="#262626" stroke-width="1.7" stroke-linecap="butt"/>
<line x1="586.10" y1="401.40" x2="586.10" y2="408.60" stroke="#262626" stroke-width="1.7" stroke-linecap="butt"/>
<line x1="642.30" y1="401.40" x2="642.30" y2="408.60" stroke="#262626" stroke-width="1.7" stroke-linecap="butt"/>
<line x1="580.50" y1="318.30" x2="580.50" y2="399.60" stroke="#000" stroke-width="1.5" stroke-linecap="butt" stroke-dasharray="5.8 2.7"/>
<text x="559.80" y="312.40" font-size="13.3" text-anchor="middle" fill="#262626">RLPG</text>
<text x="574.50" y="395.10" font-size="11.3" text-anchor="end" fill="#000">Training</text>
<text x="605.40" y="395.10" font-size="11.5" text-anchor="start" fill="#000">Testing</text>
<path d="M470.05 373.60 h7.3 v2.5 h-2.2 V381.50 h2.2 v2.5 h-7.3 v-2.5 h2.2 V376.10 h-2.2 Z" fill="#2b6c9a"/>
<path d="M481.29 358.80 h7.3 v2.5 h-2.2 V365.80 h2.2 v2.5 h-7.3 v-2.5 h2.2 V361.30 h-2.2 Z" fill="#2b6c9a"/>
<path d="M492.53 355.20 h7.3 v2.5 h-2.2 V362.40 h2.2 v2.5 h-7.3 v-2.5 h2.2 V357.70 h-2.2 Z" fill="#2b6c9a"/>
<path d="M503.77 350.40 h7.3 v2.5 h-2.2 V357.90 h2.2 v2.5 h-7.3 v-2.5 h2.2 V352.90 h-2.2 Z" fill="#2b6c9a"/>
<path d="M515.01 343.90 h7.3 v2.5 h-2.2 V351.90 h2.2 v2.5 h-7.3 v-2.5 h2.2 V346.40 h-2.2 Z" fill="#2b6c9a"/>
<path d="M526.25 342.00 h7.3 v2.5 h-2.2 V350.00 h2.2 v2.5 h-7.3 v-2.5 h2.2 V344.50 h-2.2 Z" fill="#2b6c9a"/>
<path d="M537.49 338.60 h7.3 v2.5 h-2.2 V346.60 h2.2 v2.5 h-7.3 v-2.5 h2.2 V341.10 h-2.2 Z" fill="#2b6c9a"/>
<path d="M548.73 332.00 h7.3 v2.5 h-2.2 V338.20 h2.2 v2.5 h-7.3 v-2.5 h2.2 V334.50 h-2.2 Z" fill="#2b6c9a"/>
<path d="M559.97 330.00 h7.3 v2.5 h-2.2 V336.90 h2.2 v2.5 h-7.3 v-2.5 h2.2 V332.50 h-2.2 Z" fill="#2b6c9a"/>
<path d="M571.21 328.50 h7.3 v2.5 h-2.2 V335.30 h2.2 v2.5 h-7.3 v-2.5 h2.2 V331.00 h-2.2 Z" fill="#2b6c9a"/>
<path d="M582.45 329.80 h7.3 v2.5 h-2.2 V339.00 h2.2 v2.5 h-7.3 v-2.5 h2.2 V332.30 h-2.2 Z" fill="#2b6c9a"/>
<path d="M593.69 329.80 h7.3 v2.5 h-2.2 V337.10 h2.2 v2.5 h-7.3 v-2.5 h2.2 V332.30 h-2.2 Z" fill="#2b6c9a"/>
<path d="M604.93 332.00 h7.3 v2.5 h-2.2 V341.50 h2.2 v2.5 h-7.3 v-2.5 h2.2 V334.50 h-2.2 Z" fill="#2b6c9a"/>
<path d="M616.17 331.60 h7.3 v2.5 h-2.2 V340.40 h2.2 v2.5 h-7.3 v-2.5 h2.2 V334.10 h-2.2 Z" fill="#2b6c9a"/>
<path d="M627.41 329.80 h7.3 v2.5 h-2.2 V338.60 h2.2 v2.5 h-7.3 v-2.5 h2.2 V332.30 h-2.2 Z" fill="#2b6c9a"/>
<path d="M638.65 333.10 h7.3 v2.5 h-2.2 V341.90 h2.2 v2.5 h-7.3 v-2.5 h2.2 V335.60 h-2.2 Z" fill="#2b6c9a"/>
<path d="M473.70 501.50 L484.94 484.90 L496.18 477.00 L507.42 469.40 L518.66 464.40 L529.90 459.50 L541.14 455.70 L552.38 451.90 L563.62 448.90 L574.86 446.90 L586.10 444.00 L597.34 443.20 L608.58 443.10 L619.82 443.10 L631.06 443.10 L642.30 443.10 L642.30 451.90 L631.06 451.90 L619.82 451.90 L608.58 451.90 L597.34 451.90 L586.10 451.90 L574.86 452.70 L563.62 454.80 L552.38 457.70 L541.14 461.50 L529.90 465.90 L518.66 471.10 L507.42 477.00 L496.18 484.90 L484.94 493.60 L473.70 506.20 Z" fill="#f4c7a6" stroke="#f4c7a6" stroke-width="0.8" stroke-linejoin="round"/>
<line x1="456.30" y1="430.70" x2="456.30" y2="517.00" stroke="#262626" stroke-width="2.6" stroke-linecap="butt"/>
<line x1="448.60" y1="431.70" x2="456.30" y2="431.70" stroke="#262626" stroke-width="1.7" stroke-linecap="butt"/>
<text x="444.30" y="435.80" font-size="11.5" text-anchor="end" fill="#262626">0.9</text>
<line x1="448.60" y1="450.33" x2="456.30" y2="450.33" stroke="#262626" stroke-width="1.7" stroke-linecap="butt"/>
<line x1="448.60" y1="468.95" x2="456.30" y2="468.95" stroke="#262626" stroke-width="1.7" stroke-linecap="butt"/>
<text x="444.30" y="473.05" font-size="11.5" text-anchor="end" fill="#262626">0.7</text>
<line x1="448.60" y1="487.58" x2="456.30" y2="487.58" stroke="#262626" stroke-width="1.7" stroke-linecap="butt"/>
<line x1="448.60" y1="506.20" x2="456.30" y2="506.20" stroke="#262626" stroke-width="1.7" stroke-linecap="butt"/>
<text x="444.30" y="510.30" font-size="11.5" text-anchor="end" fill="#262626">0.5</text>
<line x1="464.10" y1="515.80" x2="652.20" y2="515.80" stroke="#262626" stroke-width="2.6" stroke-linecap="butt"/>
<line x1="473.70" y1="515.80" x2="473.70" y2="523.00" stroke="#262626" stroke-width="1.7" stroke-linecap="butt"/>
<line x1="529.90" y1="515.80" x2="529.90" y2="523.00" stroke="#262626" stroke-width="1.7" stroke-linecap="butt"/>
<line x1="586.10" y1="515.80" x2="586.10" y2="523.00" stroke="#262626" stroke-width="1.7" stroke-linecap="butt"/>
<line x1="642.30" y1="515.80" x2="642.30" y2="523.00" stroke="#262626" stroke-width="1.7" stroke-linecap="butt"/>
<line x1="580.50" y1="432.70" x2="580.50" y2="514.00" stroke="#000" stroke-width="1.5" stroke-linecap="butt" stroke-dasharray="5.8 2.7"/>
<text x="559.80" y="426.80" font-size="13.3" text-anchor="middle" fill="#262626">CPG</text>
<text x="574.50" y="509.50" font-size="11.3" text-anchor="end" fill="#000">Training</text>
<text x="605.40" y="509.50" font-size="11.5" text-anchor="start" fill="#000">Testing</text>
<path d="M470.05 488.00 h7.3 v2.5 h-2.2 V495.90 h2.2 v2.5 h-7.3 v-2.5 h2.2 V490.50 h-2.2 Z" fill="#2b6c9a"/>
<path d="M481.29 473.20 h7.3 v2.5 h-2.2 V480.20 h2.2 v2.5 h-7.3 v-2.5 h2.2 V475.70 h-2.2 Z" fill="#2b6c9a"/>
<path d="M492.53 469.60 h7.3 v2.5 h-2.2 V476.80 h2.2 v2.5 h-7.3 v-2.5 h2.2 V472.10 h-2.2 Z" fill="#2b6c9a"/>
<path d="M503.77 464.80 h7.3 v2.5 h-2.2 V472.30 h2.2 v2.5 h-7.3 v-2.5 h2.2 V467.30 h-2.2 Z" fill="#2b6c9a"/>
<path d="M515.01 458.30 h7.3 v2.5 h-2.2 V466.30 h2.2 v2.5 h-7.3 v-2.5 h2.2 V460.80 h-2.2 Z" fill="#2b6c9a"/>
<path d="M526.25 456.40 h7.3 v2.5 h-2.2 V464.40 h2.2 v2.5 h-7.3 v-2.5 h2.2 V458.90 h-2.2 Z" fill="#2b6c9a"/>
<path d="M537.49 453.00 h7.3 v2.5 h-2.2 V461.00 h2.2 v2.5 h-7.3 v-2.5 h2.2 V455.50 h-2.2 Z" fill="#2b6c9a"/>
<path d="M548.73 446.40 h7.3 v2.5 h-2.2 V452.60 h2.2 v2.5 h-7.3 v-2.5 h2.2 V448.90 h-2.2 Z" fill="#2b6c9a"/>
<path d="M559.97 444.40 h7.3 v2.5 h-2.2 V451.30 h2.2 v2.5 h-7.3 v-2.5 h2.2 V446.90 h-2.2 Z" fill="#2b6c9a"/>
<path d="M571.21 442.90 h7.3 v2.5 h-2.2 V449.70 h2.2 v2.5 h-7.3 v-2.5 h2.2 V445.40 h-2.2 Z" fill="#2b6c9a"/>
<path d="M582.45 444.20 h7.3 v2.5 h-2.2 V453.40 h2.2 v2.5 h-7.3 v-2.5 h2.2 V446.70 h-2.2 Z" fill="#2b6c9a"/>
<path d="M593.69 444.20 h7.3 v2.5 h-2.2 V451.50 h2.2 v2.5 h-7.3 v-2.5 h2.2 V446.70 h-2.2 Z" fill="#2b6c9a"/>
<path d="M604.93 446.40 h7.3 v2.5 h-2.2 V455.90 h2.2 v2.5 h-7.3 v-2.5 h2.2 V448.90 h-2.2 Z" fill="#2b6c9a"/>
<path d="M616.17 446.00 h7.3 v2.5 h-2.2 V454.80 h2.2 v2.5 h-7.3 v-2.5 h2.2 V448.50 h-2.2 Z" fill="#2b6c9a"/>
<path d="M627.41 444.20 h7.3 v2.5 h-2.2 V453.00 h2.2 v2.5 h-7.3 v-2.5 h2.2 V446.70 h-2.2 Z" fill="#2b6c9a"/>
<path d="M638.65 447.50 h7.3 v2.5 h-2.2 V456.30 h2.2 v2.5 h-7.3 v-2.5 h2.2 V450.00 h-2.2 Z" fill="#2b6c9a"/>
<path d="M473.70 615.90 L484.94 596.90 L496.18 589.60 L507.42 582.30 L518.66 577.40 L529.90 572.70 L541.14 568.60 L552.38 565.70 L563.62 562.80 L574.86 560.40 L586.10 557.50 L597.34 556.90 L608.58 556.90 L619.82 556.90 L631.06 556.90 L642.30 556.90 L642.30 563.40 L631.06 563.40 L619.82 563.40 L608.58 563.40 L597.34 563.40 L586.10 563.90 L574.86 565.70 L563.62 567.70 L552.38 570.70 L541.14 574.50 L529.90 578.50 L518.66 583.80 L507.42 589.60 L496.18 596.90 L484.94 605.70 L473.70 620.30 Z" fill="#e0aab8" stroke="#e0aab8" stroke-width="0.8" stroke-linejoin="round"/>
<line x1="456.30" y1="545.10" x2="456.30" y2="631.40" stroke="#262626" stroke-width="2.6" stroke-linecap="butt"/>
<line x1="448.60" y1="546.10" x2="456.30" y2="546.10" stroke="#262626" stroke-width="1.7" stroke-linecap="butt"/>
<text x="444.30" y="550.20" font-size="11.5" text-anchor="end" fill="#262626">0.9</text>
<line x1="448.60" y1="564.73" x2="456.30" y2="564.73" stroke="#262626" stroke-width="1.7" stroke-linecap="butt"/>
<line x1="448.60" y1="583.35" x2="456.30" y2="583.35" stroke="#262626" stroke-width="1.7" stroke-linecap="butt"/>
<text x="444.30" y="587.45" font-size="11.5" text-anchor="end" fill="#262626">0.7</text>
<line x1="448.60" y1="601.98" x2="456.30" y2="601.98" stroke="#262626" stroke-width="1.7" stroke-linecap="butt"/>
<line x1="448.60" y1="620.60" x2="456.30" y2="620.60" stroke="#262626" stroke-width="1.7" stroke-linecap="butt"/>
<text x="444.30" y="624.70" font-size="11.5" text-anchor="end" fill="#262626">0.5</text>
<line x1="464.10" y1="630.20" x2="652.20" y2="630.20" stroke="#262626" stroke-width="2.6" stroke-linecap="butt"/>
<line x1="473.70" y1="630.20" x2="473.70" y2="637.40" stroke="#262626" stroke-width="1.7" stroke-linecap="butt"/>
<line x1="529.90" y1="630.20" x2="529.90" y2="637.40" stroke="#262626" stroke-width="1.7" stroke-linecap="butt"/>
<line x1="586.10" y1="630.20" x2="586.10" y2="637.40" stroke="#262626" stroke-width="1.7" stroke-linecap="butt"/>
<line x1="642.30" y1="630.20" x2="642.30" y2="637.40" stroke="#262626" stroke-width="1.7" stroke-linecap="butt"/>
<line x1="580.50" y1="547.10" x2="580.50" y2="628.40" stroke="#000" stroke-width="1.5" stroke-linecap="butt" stroke-dasharray="5.8 2.7"/>
<text x="559.80" y="541.20" font-size="13.3" text-anchor="middle" fill="#262626">ECPG</text>
<text x="574.50" y="623.90" font-size="11.3" text-anchor="end" fill="#000">Training</text>
<text x="605.40" y="623.90" font-size="11.5" text-anchor="start" fill="#000">Testing</text>
<path d="M470.05 602.40 h7.3 v2.5 h-2.2 V610.30 h2.2 v2.5 h-7.3 v-2.5 h2.2 V604.90 h-2.2 Z" fill="#2b6c9a"/>
<path d="M481.29 587.60 h7.3 v2.5 h-2.2 V594.60 h2.2 v2.5 h-7.3 v-2.5 h2.2 V590.10 h-2.2 Z" fill="#2b6c9a"/>
<path d="M492.53 584.00 h7.3 v2.5 h-2.2 V591.20 h2.2 v2.5 h-7.3 v-2.5 h2.2 V586.50 h-2.2 Z" fill="#2b6c9a"/>
<path d="M503.77 579.20 h7.3 v2.5 h-2.2 V586.70 h2.2 v2.5 h-7.3 v-2.5 h2.2 V581.70 h-2.2 Z" fill="#2b6c9a"/>
<path d="M515.01 572.70 h7.3 v2.5 h-2.2 V580.70 h2.2 v2.5 h-7.3 v-2.5 h2.2 V575.20 h-2.2 Z" fill="#2b6c9a"/>
<path d="M526.25 570.80 h7.3 v2.5 h-2.2 V578.80 h2.2 v2.5 h-7.3 v-2.5 h2.2 V573.30 h-2.2 Z" fill="#2b6c9a"/>
<path d="M537.49 567.40 h7.3 v2.5 h-2.2 V575.40 h2.2 v2.5 h-7.3 v-2.5 h2.2 V569.90 h-2.2 Z" fill="#2b6c9a"/>
<path d="M548.73 560.80 h7.3 v2.5 h-2.2 V567.00 h2.2 v2.5 h-7.3 v-2.5 h2.2 V563.30 h-2.2 Z" fill="#2b6c9a"/>
<path d="M559.97 558.80 h7.3 v2.5 h-2.2 V565.70 h2.2 v2.5 h-7.3 v-2.5 h2.2 V561.30 h-2.2 Z" fill="#2b6c9a"/>
<path d="M571.21 557.30 h7.3 v2.5 h-2.2 V564.10 h2.2 v2.5 h-7.3 v-2.5 h2.2 V559.80 h-2.2 Z" fill="#2b6c9a"/>
<path d="M582.45 558.60 h7.3 v2.5 h-2.2 V567.80 h2.2 v2.5 h-7.3 v-2.5 h2.2 V561.10 h-2.2 Z" fill="#2b6c9a"/>
<path d="M593.69 558.60 h7.3 v2.5 h-2.2 V565.90 h2.2 v2.5 h-7.3 v-2.5 h2.2 V561.10 h-2.2 Z" fill="#2b6c9a"/>
<path d="M604.93 560.80 h7.3 v2.5 h-2.2 V570.30 h2.2 v2.5 h-7.3 v-2.5 h2.2 V563.30 h-2.2 Z" fill="#2b6c9a"/>
<path d="M616.17 560.40 h7.3 v2.5 h-2.2 V569.20 h2.2 v2.5 h-7.3 v-2.5 h2.2 V562.90 h-2.2 Z" fill="#2b6c9a"/>
<path d="M627.41 558.60 h7.3 v2.5 h-2.2 V567.40 h2.2 v2.5 h-7.3 v-2.5 h2.2 V561.10 h-2.2 Z" fill="#2b6c9a"/>
<path d="M638.65 561.90 h7.3 v2.5 h-2.2 V570.70 h2.2 v2.5 h-7.3 v-2.5 h2.2 V564.40 h-2.2 Z" fill="#2b6c9a"/>
<text x="473.70" y="649.00" font-size="11.2" text-anchor="middle" fill="#262626">1</text>
<text x="529.90" y="649.00" font-size="11.2" text-anchor="middle" fill="#262626">6</text>
<text x="586.10" y="649.00" font-size="11.2" text-anchor="middle" fill="#262626">11</text>
<text x="642.30" y="649.00" font-size="11.2" text-anchor="middle" fill="#262626">16</text>
<text x="561.60" y="662.70" font-size="14" text-anchor="middle" fill="#262626">Trials per association</text>
<rect x="460.90" y="670.70" width="192.10" height="35.30" fill="#fff" stroke="#bdbdbd" stroke-width="1"/>
<text x="465.30" y="684.60" font-size="12.5" text-anchor="start" fill="#000">95% CI across 165 participants<tspan dx="2.2">:</tspan></text>
<path d="M488.30 691.2 h6.8 v2.4 h-2.0 V699.2 h2.0 v2.4 h-6.8 v-2.4 h2.0 V693.6 h-2.0 Z" fill="#2b6c9a"/>
<text x="504.30" y="700.50" font-size="12.5" text-anchor="start" fill="#000">Human</text>
<rect x="570.20" y="692.20" width="15.60" height="8.90" fill="#b3b3b3"/>
<text x="596.50" y="700.50" font-size="12.5" text-anchor="start" fill="#000">Model</text>
<rect x="195.50" y="718.40" width="22.30" height="8.20" fill="#3d7896"/>
<text x="224.20" y="727.40" font-size="13.2" text-anchor="start" fill="#000">Human</text>
<rect x="296.20" y="718.40" width="22.30" height="8.20" fill="#b3b3b3"/>
<text x="324.90" y="727.40" font-size="13.2" text-anchor="start" fill="#000">RLPG</text>
<rect x="390.20" y="718.40" width="22.30" height="8.20" fill="#e4955e"/>
<text x="418.90" y="727.40" font-size="13.2" text-anchor="start" fill="#000">CPG</text>
<rect x="483.30" y="718.40" width="22.30" height="8.20" fill="#be7b8a"/>
<text x="512.00" y="727.40" font-size="13.2" text-anchor="start" fill="#000">ECPG</text>
</svg>
</body></html>
